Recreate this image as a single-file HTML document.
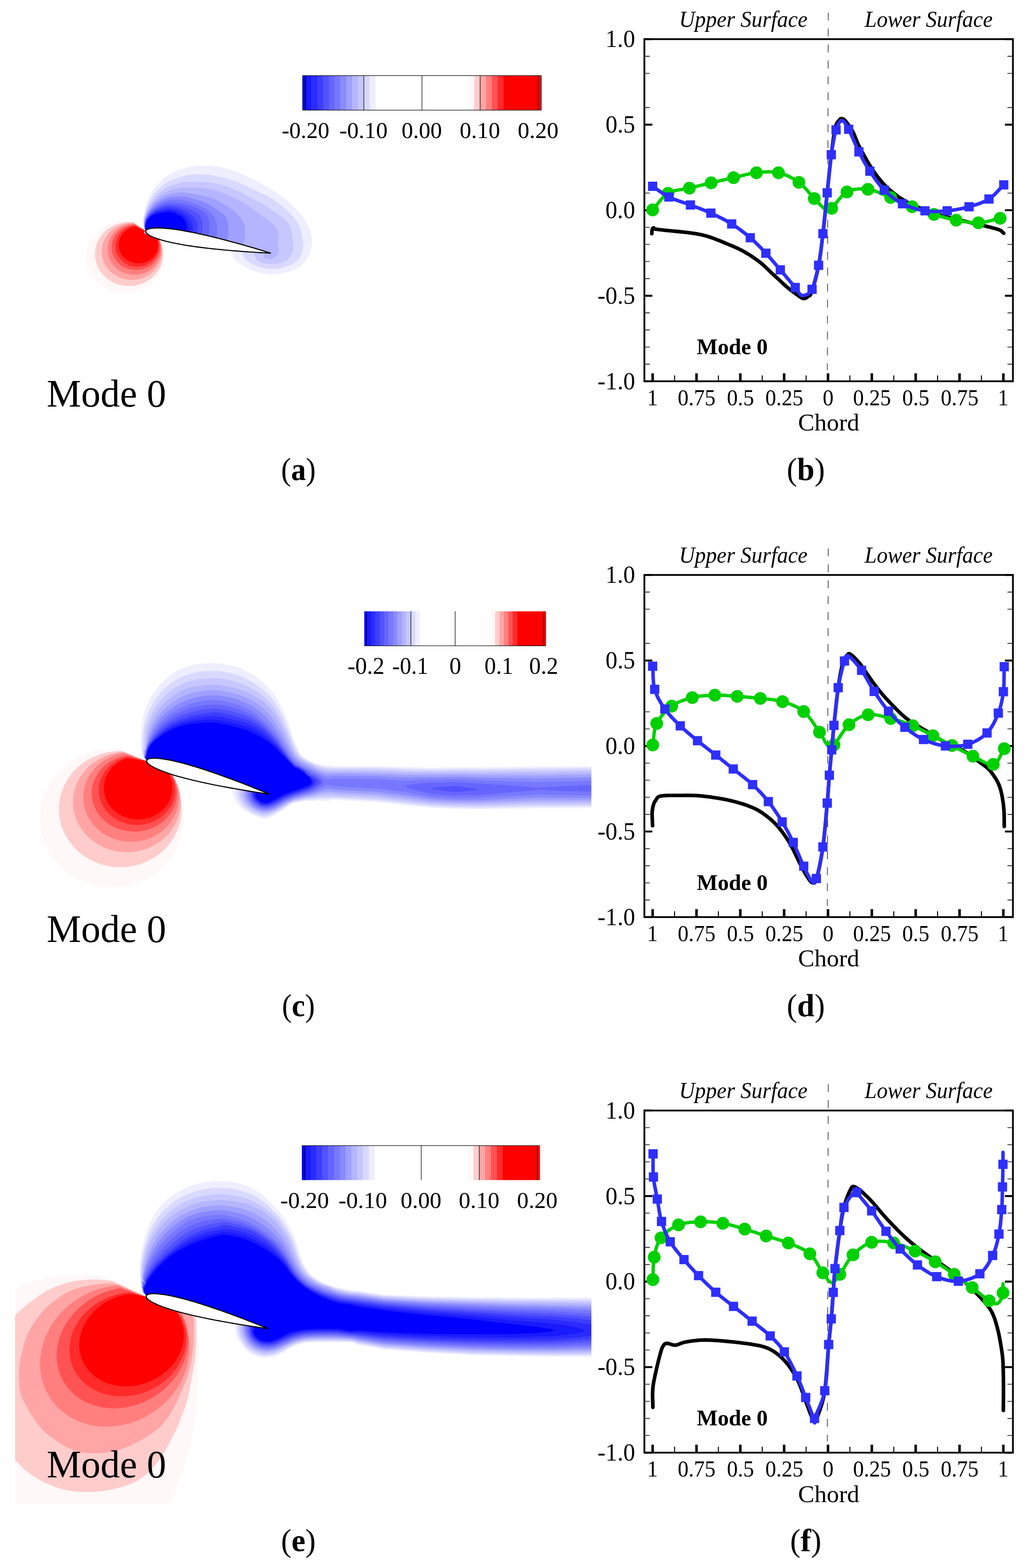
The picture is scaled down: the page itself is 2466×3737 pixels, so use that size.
<!DOCTYPE html>
<html><head><meta charset="utf-8"><title>Mode 0</title>
<style>html,body{margin:0;padding:0;background:#fff;} svg{display:block;}</style>
</head><body>
<svg xmlns="http://www.w3.org/2000/svg" width="2466" height="3737" viewBox="0 0 2466 3737" font-family="'Liberation Serif', 'Times New Roman', serif"><path d="M1535.3,908.7H1554.3M2413.4,908.7H2394.4" stroke="#000" stroke-width="4.6"/>
<path d="M1535.3,867.9H1548.3M2413.4,867.9H2400.4" stroke="#000" stroke-width="1.6"/>
<path d="M1535.3,827.2H1548.3M2413.4,827.2H2400.4" stroke="#000" stroke-width="1.6"/>
<path d="M1535.3,786.4H1548.3M2413.4,786.4H2400.4" stroke="#000" stroke-width="1.6"/>
<path d="M1535.3,745.6H1548.3M2413.4,745.6H2400.4" stroke="#000" stroke-width="1.6"/>
<path d="M1535.3,704.9H1554.3M2413.4,704.9H2394.4" stroke="#000" stroke-width="4.6"/>
<path d="M1535.3,664.1H1548.3M2413.4,664.1H2400.4" stroke="#000" stroke-width="1.6"/>
<path d="M1535.3,623.3H1548.3M2413.4,623.3H2400.4" stroke="#000" stroke-width="1.6"/>
<path d="M1535.3,582.5H1548.3M2413.4,582.5H2400.4" stroke="#000" stroke-width="1.6"/>
<path d="M1535.3,541.8H1548.3M2413.4,541.8H2400.4" stroke="#000" stroke-width="1.6"/>
<path d="M1535.3,501.0H1554.3M2413.4,501.0H2394.4" stroke="#000" stroke-width="4.6"/>
<path d="M1535.3,460.2H1548.3M2413.4,460.2H2400.4" stroke="#000" stroke-width="1.6"/>
<path d="M1535.3,297.1H1554.3M2413.4,297.1H2394.4" stroke="#000" stroke-width="4.6"/>
<path d="M1535.3,256.4H1548.3M2413.4,256.4H2400.4" stroke="#000" stroke-width="1.6"/>
<path d="M1535.3,174.8H1548.3M2413.4,174.8H2400.4" stroke="#000" stroke-width="1.6"/>
<path d="M1535.3,134.1H1548.3M2413.4,134.1H2400.4" stroke="#000" stroke-width="1.6"/>
<path d="M1535.3,93.3H1554.3M2413.4,93.3H2394.4" stroke="#000" stroke-width="4.6"/>
<path d="M1555.0,908.7V889.7" stroke="#000" stroke-width="6"/>
<path d="M1607.2,908.7V894.7" stroke="#000" stroke-width="2.4"/>
<path d="M1659.5,908.7V889.7" stroke="#000" stroke-width="6"/>
<path d="M1711.7,908.7V894.7" stroke="#000" stroke-width="2.4"/>
<path d="M1763.9,908.7V889.7" stroke="#000" stroke-width="6"/>
<path d="M1816.1,908.7V894.7" stroke="#000" stroke-width="2.4"/>
<path d="M1868.3,908.7V889.7" stroke="#000" stroke-width="6"/>
<path d="M1920.6,908.7V894.7" stroke="#000" stroke-width="2.4"/>
<path d="M1972.8,908.7V889.7" stroke="#000" stroke-width="6"/>
<path d="M2025.0,908.7V894.7" stroke="#000" stroke-width="2.4"/>
<path d="M2077.2,908.7V889.7" stroke="#000" stroke-width="6"/>
<path d="M2129.5,908.7V894.7" stroke="#000" stroke-width="2.4"/>
<path d="M2181.7,908.7V889.7" stroke="#000" stroke-width="6"/>
<path d="M2233.9,908.7V894.7" stroke="#000" stroke-width="2.4"/>
<path d="M2286.2,908.7V889.7" stroke="#000" stroke-width="6"/>
<path d="M2338.4,908.7V894.7" stroke="#000" stroke-width="2.4"/>
<path d="M2390.6,908.7V889.7" stroke="#000" stroke-width="6"/>
<rect x="1535.3" y="93.3" width="878.1" height="815.4" fill="none" stroke="#000" stroke-width="4.2"/>
<text x="1442.6" y="112.3" font-size="59.5" textLength="70.7" lengthAdjust="spacingAndGlyphs">1.0</text>
<text x="1442.7" y="316.1" font-size="59.5" textLength="70.7" lengthAdjust="spacingAndGlyphs">0.5</text>
<text x="1442.6" y="520.0" font-size="59.5" textLength="70.7" lengthAdjust="spacingAndGlyphs">0.0</text>
<text x="1423.8" y="723.9" font-size="59.5" textLength="89.5" lengthAdjust="spacingAndGlyphs">-0.5</text>
<text x="1423.8" y="927.7" font-size="59.5" textLength="89.5" lengthAdjust="spacingAndGlyphs">-1.0</text>
<text x="1541.7" y="965.7" font-size="53.9" textLength="25.8" lengthAdjust="spacingAndGlyphs">1</text>
<text x="1614.7" y="965.7" font-size="53.9" textLength="90.2" lengthAdjust="spacingAndGlyphs">0.75</text>
<text x="1732.0" y="965.7" font-size="53.9" textLength="64.4" lengthAdjust="spacingAndGlyphs">0.5</text>
<text x="1823.6" y="965.7" font-size="53.9" textLength="90.2" lengthAdjust="spacingAndGlyphs">0.25</text>
<text x="1960.2" y="965.7" font-size="53.9" textLength="25.8" lengthAdjust="spacingAndGlyphs">0</text>
<text x="2032.5" y="965.7" font-size="53.9" textLength="90.2" lengthAdjust="spacingAndGlyphs">0.25</text>
<text x="2149.8" y="965.7" font-size="53.9" textLength="64.4" lengthAdjust="spacingAndGlyphs">0.5</text>
<text x="2241.4" y="965.7" font-size="53.9" textLength="90.2" lengthAdjust="spacingAndGlyphs">0.75</text>
<text x="2377.3" y="965.7" font-size="53.9" textLength="25.8" lengthAdjust="spacingAndGlyphs">1</text>
<text x="1901.6" y="1026.4" font-size="57.1" textLength="145.9" lengthAdjust="spacingAndGlyphs">Chord</text>
<text x="1617.9" y="63.8" font-size="54" font-style="italic" textLength="306" lengthAdjust="spacingAndGlyphs">Upper Surface</text>
<text x="2060" y="63.8" font-size="54" font-style="italic" textLength="305" lengthAdjust="spacingAndGlyphs">Lower Surface</text>
<text x="1660.1" y="843.8" font-size="53" text-anchor="start" font-weight="bold" font-style="normal" fill="#000">Mode 0</text>
<path d="M1973.5,30.0L1971.2,882.0" stroke="#000" stroke-width="1.3" stroke-dasharray="19 19"/>
<path d="M1535.3,2185.7H1554.3M2413.4,2185.7H2394.4" stroke="#000" stroke-width="4.6"/>
<path d="M1535.3,2144.9H1548.3M2413.4,2144.9H2400.4" stroke="#000" stroke-width="1.6"/>
<path d="M1535.3,2104.2H1548.3M2413.4,2104.2H2400.4" stroke="#000" stroke-width="1.6"/>
<path d="M1535.3,2063.4H1548.3M2413.4,2063.4H2400.4" stroke="#000" stroke-width="1.6"/>
<path d="M1535.3,2022.6H1548.3M2413.4,2022.6H2400.4" stroke="#000" stroke-width="1.6"/>
<path d="M1535.3,1981.8H1554.3M2413.4,1981.8H2394.4" stroke="#000" stroke-width="4.6"/>
<path d="M1535.3,1941.1H1548.3M2413.4,1941.1H2400.4" stroke="#000" stroke-width="1.6"/>
<path d="M1535.3,1900.3H1548.3M2413.4,1900.3H2400.4" stroke="#000" stroke-width="1.6"/>
<path d="M1535.3,1859.5H1548.3M2413.4,1859.5H2400.4" stroke="#000" stroke-width="1.6"/>
<path d="M1535.3,1818.8H1548.3M2413.4,1818.8H2400.4" stroke="#000" stroke-width="1.6"/>
<path d="M1535.3,1778.0H1554.3M2413.4,1778.0H2394.4" stroke="#000" stroke-width="4.6"/>
<path d="M1535.3,1737.2H1548.3M2413.4,1737.2H2400.4" stroke="#000" stroke-width="1.6"/>
<path d="M1535.3,1696.5H1548.3M2413.4,1696.5H2400.4" stroke="#000" stroke-width="1.6"/>
<path d="M1535.3,1574.2H1554.3M2413.4,1574.2H2394.4" stroke="#000" stroke-width="4.6"/>
<path d="M1535.3,1533.4H1548.3M2413.4,1533.4H2400.4" stroke="#000" stroke-width="1.6"/>
<path d="M1535.3,1451.8H1548.3M2413.4,1451.8H2400.4" stroke="#000" stroke-width="1.6"/>
<path d="M1535.3,1411.1H1548.3M2413.4,1411.1H2400.4" stroke="#000" stroke-width="1.6"/>
<path d="M1535.3,1370.3H1554.3M2413.4,1370.3H2394.4" stroke="#000" stroke-width="4.6"/>
<path d="M1555.0,2185.7V2166.7" stroke="#000" stroke-width="6"/>
<path d="M1607.2,2185.7V2171.7" stroke="#000" stroke-width="2.4"/>
<path d="M1659.5,2185.7V2166.7" stroke="#000" stroke-width="6"/>
<path d="M1711.7,2185.7V2171.7" stroke="#000" stroke-width="2.4"/>
<path d="M1763.9,2185.7V2166.7" stroke="#000" stroke-width="6"/>
<path d="M1816.1,2185.7V2171.7" stroke="#000" stroke-width="2.4"/>
<path d="M1868.3,2185.7V2166.7" stroke="#000" stroke-width="6"/>
<path d="M1920.6,2185.7V2171.7" stroke="#000" stroke-width="2.4"/>
<path d="M1972.8,2185.7V2166.7" stroke="#000" stroke-width="6"/>
<path d="M2025.0,2185.7V2171.7" stroke="#000" stroke-width="2.4"/>
<path d="M2077.2,2185.7V2166.7" stroke="#000" stroke-width="6"/>
<path d="M2129.5,2185.7V2171.7" stroke="#000" stroke-width="2.4"/>
<path d="M2181.7,2185.7V2166.7" stroke="#000" stroke-width="6"/>
<path d="M2233.9,2185.7V2171.7" stroke="#000" stroke-width="2.4"/>
<path d="M2286.2,2185.7V2166.7" stroke="#000" stroke-width="6"/>
<path d="M2338.4,2185.7V2171.7" stroke="#000" stroke-width="2.4"/>
<path d="M2390.6,2185.7V2166.7" stroke="#000" stroke-width="6"/>
<rect x="1535.3" y="1370.3" width="878.1" height="815.4" fill="none" stroke="#000" stroke-width="4.2"/>
<text x="1442.6" y="1389.3" font-size="59.5" textLength="70.7" lengthAdjust="spacingAndGlyphs">1.0</text>
<text x="1442.7" y="1593.2" font-size="59.5" textLength="70.7" lengthAdjust="spacingAndGlyphs">0.5</text>
<text x="1442.6" y="1797.0" font-size="59.5" textLength="70.7" lengthAdjust="spacingAndGlyphs">0.0</text>
<text x="1423.8" y="2000.8" font-size="59.5" textLength="89.5" lengthAdjust="spacingAndGlyphs">-0.5</text>
<text x="1423.8" y="2204.7" font-size="59.5" textLength="89.5" lengthAdjust="spacingAndGlyphs">-1.0</text>
<text x="1541.7" y="2242.7" font-size="53.9" textLength="25.8" lengthAdjust="spacingAndGlyphs">1</text>
<text x="1614.7" y="2242.7" font-size="53.9" textLength="90.2" lengthAdjust="spacingAndGlyphs">0.75</text>
<text x="1732.0" y="2242.7" font-size="53.9" textLength="64.4" lengthAdjust="spacingAndGlyphs">0.5</text>
<text x="1823.6" y="2242.7" font-size="53.9" textLength="90.2" lengthAdjust="spacingAndGlyphs">0.25</text>
<text x="1960.2" y="2242.7" font-size="53.9" textLength="25.8" lengthAdjust="spacingAndGlyphs">0</text>
<text x="2032.5" y="2242.7" font-size="53.9" textLength="90.2" lengthAdjust="spacingAndGlyphs">0.25</text>
<text x="2149.8" y="2242.7" font-size="53.9" textLength="64.4" lengthAdjust="spacingAndGlyphs">0.5</text>
<text x="2241.4" y="2242.7" font-size="53.9" textLength="90.2" lengthAdjust="spacingAndGlyphs">0.75</text>
<text x="2377.3" y="2242.7" font-size="53.9" textLength="25.8" lengthAdjust="spacingAndGlyphs">1</text>
<text x="1901.6" y="2303.4" font-size="57.1" textLength="145.9" lengthAdjust="spacingAndGlyphs">Chord</text>
<text x="1617.9" y="1340.8" font-size="54" font-style="italic" textLength="306" lengthAdjust="spacingAndGlyphs">Upper Surface</text>
<text x="2060" y="1340.8" font-size="54" font-style="italic" textLength="305" lengthAdjust="spacingAndGlyphs">Lower Surface</text>
<text x="1660.1" y="2120.8" font-size="53" text-anchor="start" font-weight="bold" font-style="normal" fill="#000">Mode 0</text>
<path d="M1973.5,1307.0L1971.2,2159.0" stroke="#000" stroke-width="1.3" stroke-dasharray="19 19"/>
<path d="M1535.3,3462.1H1554.3M2413.4,3462.1H2394.4" stroke="#000" stroke-width="4.6"/>
<path d="M1535.3,3421.3H1548.3M2413.4,3421.3H2400.4" stroke="#000" stroke-width="1.6"/>
<path d="M1535.3,3380.6H1548.3M2413.4,3380.6H2400.4" stroke="#000" stroke-width="1.6"/>
<path d="M1535.3,3339.8H1548.3M2413.4,3339.8H2400.4" stroke="#000" stroke-width="1.6"/>
<path d="M1535.3,3299.0H1548.3M2413.4,3299.0H2400.4" stroke="#000" stroke-width="1.6"/>
<path d="M1535.3,3258.3H1554.3M2413.4,3258.3H2394.4" stroke="#000" stroke-width="4.6"/>
<path d="M1535.3,3217.5H1548.3M2413.4,3217.5H2400.4" stroke="#000" stroke-width="1.6"/>
<path d="M1535.3,3176.7H1548.3M2413.4,3176.7H2400.4" stroke="#000" stroke-width="1.6"/>
<path d="M1535.3,3135.9H1548.3M2413.4,3135.9H2400.4" stroke="#000" stroke-width="1.6"/>
<path d="M1535.3,3095.2H1548.3M2413.4,3095.2H2400.4" stroke="#000" stroke-width="1.6"/>
<path d="M1535.3,3054.4H1554.3M2413.4,3054.4H2394.4" stroke="#000" stroke-width="4.6"/>
<path d="M1535.3,3013.6H1548.3M2413.4,3013.6H2400.4" stroke="#000" stroke-width="1.6"/>
<path d="M1535.3,2972.9H1548.3M2413.4,2972.9H2400.4" stroke="#000" stroke-width="1.6"/>
<path d="M1535.3,2932.1H1548.3M2413.4,2932.1H2400.4" stroke="#000" stroke-width="1.6"/>
<path d="M1535.3,2891.3H1548.3M2413.4,2891.3H2400.4" stroke="#000" stroke-width="1.6"/>
<path d="M1535.3,2850.6H1554.3M2413.4,2850.6H2394.4" stroke="#000" stroke-width="4.6"/>
<path d="M1535.3,2809.8H1548.3M2413.4,2809.8H2400.4" stroke="#000" stroke-width="1.6"/>
<path d="M1535.3,2769.0H1548.3M2413.4,2769.0H2400.4" stroke="#000" stroke-width="1.6"/>
<path d="M1535.3,2728.2H1548.3M2413.4,2728.2H2400.4" stroke="#000" stroke-width="1.6"/>
<path d="M1535.3,2687.5H1548.3M2413.4,2687.5H2400.4" stroke="#000" stroke-width="1.6"/>
<path d="M1535.3,2646.7H1554.3M2413.4,2646.7H2394.4" stroke="#000" stroke-width="4.6"/>
<path d="M1555.0,3462.1V3443.1" stroke="#000" stroke-width="6"/>
<path d="M1607.2,3462.1V3448.1" stroke="#000" stroke-width="2.4"/>
<path d="M1659.5,3462.1V3443.1" stroke="#000" stroke-width="6"/>
<path d="M1711.7,3462.1V3448.1" stroke="#000" stroke-width="2.4"/>
<path d="M1763.9,3462.1V3443.1" stroke="#000" stroke-width="6"/>
<path d="M1816.1,3462.1V3448.1" stroke="#000" stroke-width="2.4"/>
<path d="M1868.3,3462.1V3443.1" stroke="#000" stroke-width="6"/>
<path d="M1920.6,3462.1V3448.1" stroke="#000" stroke-width="2.4"/>
<path d="M1972.8,3462.1V3443.1" stroke="#000" stroke-width="6"/>
<path d="M2025.0,3462.1V3448.1" stroke="#000" stroke-width="2.4"/>
<path d="M2077.2,3462.1V3443.1" stroke="#000" stroke-width="6"/>
<path d="M2129.5,3462.1V3448.1" stroke="#000" stroke-width="2.4"/>
<path d="M2181.7,3462.1V3443.1" stroke="#000" stroke-width="6"/>
<path d="M2233.9,3462.1V3448.1" stroke="#000" stroke-width="2.4"/>
<path d="M2286.2,3462.1V3443.1" stroke="#000" stroke-width="6"/>
<path d="M2338.4,3462.1V3448.1" stroke="#000" stroke-width="2.4"/>
<path d="M2390.6,3462.1V3443.1" stroke="#000" stroke-width="6"/>
<rect x="1535.3" y="2646.7" width="878.1" height="815.4" fill="none" stroke="#000" stroke-width="4.2"/>
<text x="1442.6" y="2665.7" font-size="59.5" textLength="70.7" lengthAdjust="spacingAndGlyphs">1.0</text>
<text x="1442.7" y="2869.6" font-size="59.5" textLength="70.7" lengthAdjust="spacingAndGlyphs">0.5</text>
<text x="1442.6" y="3073.4" font-size="59.5" textLength="70.7" lengthAdjust="spacingAndGlyphs">0.0</text>
<text x="1423.8" y="3277.3" font-size="59.5" textLength="89.5" lengthAdjust="spacingAndGlyphs">-0.5</text>
<text x="1423.8" y="3481.1" font-size="59.5" textLength="89.5" lengthAdjust="spacingAndGlyphs">-1.0</text>
<text x="1541.7" y="3519.1" font-size="53.9" textLength="25.8" lengthAdjust="spacingAndGlyphs">1</text>
<text x="1614.7" y="3519.1" font-size="53.9" textLength="90.2" lengthAdjust="spacingAndGlyphs">0.75</text>
<text x="1732.0" y="3519.1" font-size="53.9" textLength="64.4" lengthAdjust="spacingAndGlyphs">0.5</text>
<text x="1823.6" y="3519.1" font-size="53.9" textLength="90.2" lengthAdjust="spacingAndGlyphs">0.25</text>
<text x="1960.2" y="3519.1" font-size="53.9" textLength="25.8" lengthAdjust="spacingAndGlyphs">0</text>
<text x="2032.5" y="3519.1" font-size="53.9" textLength="90.2" lengthAdjust="spacingAndGlyphs">0.25</text>
<text x="2149.8" y="3519.1" font-size="53.9" textLength="64.4" lengthAdjust="spacingAndGlyphs">0.5</text>
<text x="2241.4" y="3519.1" font-size="53.9" textLength="90.2" lengthAdjust="spacingAndGlyphs">0.75</text>
<text x="2377.3" y="3519.1" font-size="53.9" textLength="25.8" lengthAdjust="spacingAndGlyphs">1</text>
<text x="1901.6" y="3579.8" font-size="57.1" textLength="145.9" lengthAdjust="spacingAndGlyphs">Chord</text>
<text x="1617.9" y="2617.2" font-size="54" font-style="italic" textLength="306" lengthAdjust="spacingAndGlyphs">Upper Surface</text>
<text x="2060" y="2617.2" font-size="54" font-style="italic" textLength="305" lengthAdjust="spacingAndGlyphs">Lower Surface</text>
<text x="1660.1" y="3397.2" font-size="53" text-anchor="start" font-weight="bold" font-style="normal" fill="#000">Mode 0</text>
<path d="M1973.5,2583.4L1971.2,3435.4" stroke="#000" stroke-width="1.3" stroke-dasharray="19 19"/>
<path d="M1553.0,557.0 L1553.1,556.0 L1553.2,554.9 L1553.2,553.8 L1553.3,552.7 L1553.3,551.6 L1553.4,550.6 L1553.5,549.6 L1553.6,548.6 L1553.8,547.8 L1554.0,547.0 L1554.2,546.3 L1554.5,545.7 L1554.7,545.1 L1555.0,544.6 L1555.3,544.1 L1555.7,543.8 L1556.1,543.5 L1556.5,543.2 L1557.0,543.1 L1557.5,543.0 L1557.8,543.0 L1557.6,543.2 L1557.2,543.4 L1556.7,543.6 L1556.4,544.0 L1556.6,544.4 L1557.3,544.9 L1558.8,545.4 L1561.4,546.0 L1565.2,546.6 L1570.6,547.3 L1577.5,548.0 L1585.7,548.9 L1594.7,549.7 L1604.2,550.7 L1613.8,551.6 L1623.3,552.6 L1632.3,553.6 L1640.4,554.5 L1647.3,555.4 L1653.0,556.2 L1658.0,557.0 L1662.5,557.7 L1666.4,558.5 L1670.0,559.2 L1673.5,560.0 L1676.9,560.9 L1680.5,561.8 L1684.2,562.9 L1688.4,564.2 L1692.9,565.6 L1697.6,567.3 L1702.4,569.0 L1707.3,570.9 L1712.3,572.8 L1717.2,574.8 L1722.0,576.8 L1726.7,578.7 L1731.2,580.6 L1735.4,582.4 L1739.4,584.1 L1743.1,585.6 L1746.7,587.1 L1750.2,588.6 L1753.6,590.1 L1756.9,591.6 L1760.2,593.2 L1763.6,594.8 L1767.0,596.6 L1770.6,598.6 L1774.3,600.7 L1778.1,603.0 L1782.0,605.3 L1785.9,607.7 L1789.8,610.2 L1793.7,612.8 L1797.6,615.4 L1801.4,618.1 L1805.1,620.8 L1808.7,623.5 L1812.2,626.2 L1815.5,629.0 L1818.7,631.9 L1821.9,634.8 L1825.0,637.7 L1828.1,640.7 L1831.3,643.7 L1834.4,646.7 L1837.7,649.7 L1841.0,652.8 L1844.5,656.0 L1848.0,659.3 L1851.7,662.7 L1855.4,666.2 L1859.1,669.7 L1862.8,673.1 L1866.4,676.4 L1869.8,679.5 L1873.1,682.4 L1876.2,685.1 L1879.1,687.5 L1881.8,689.8 L1884.5,691.8 L1887.0,693.7 L1889.4,695.5 L1891.7,697.2 L1893.9,698.8 L1896.0,700.3 L1898.1,701.7 L1900.0,703.0 L1901.8,704.3 L1903.5,705.5 L1905.1,706.7 L1906.5,707.7 L1907.9,708.7 L1909.2,709.6 L1910.5,710.3 L1911.8,710.8 L1913.0,711.3 L1914.3,711.5 L1915.6,711.5 L1916.9,711.4 L1918.1,711.1 L1919.3,710.6 L1920.5,710.0 L1921.7,709.3 L1922.8,708.5 L1923.9,707.7 L1925.0,706.8 L1926.0,706.0 L1926.9,705.4 L1927.7,705.0 L1928.4,704.7 L1929.1,704.5 L1929.7,704.1 L1930.4,703.4 L1931.1,702.3 L1931.9,700.6 L1932.9,698.2 L1934.0,695.0 L1935.3,690.9 L1936.8,686.0 L1938.5,680.4 L1940.2,674.3 L1942.1,667.7 L1943.9,660.8 L1945.7,653.7 L1947.4,646.5 L1949.0,639.3 L1950.4,632.3 L1951.7,625.4 L1952.9,618.4 L1953.9,611.3 L1955.0,604.1 L1955.9,596.8 L1956.9,589.3 L1957.8,581.5 L1958.7,573.6 L1959.7,565.4 L1960.7,556.9 L1961.7,548.0 L1962.8,538.7 L1963.8,529.1 L1964.8,519.2 L1965.8,509.2 L1966.9,499.0 L1967.9,488.9 L1968.9,478.9 L1969.9,469.1 L1970.9,459.5 L1971.9,450.0 L1972.9,440.5 L1973.9,430.9 L1974.9,421.4 L1975.9,412.0 L1976.8,402.8 L1977.8,393.7 L1978.8,385.0 L1979.7,376.7 L1980.7,368.7 L1981.6,361.0 L1982.6,353.5 L1983.5,346.2 L1984.4,339.1 L1985.3,332.4 L1986.3,326.0 L1987.2,320.0 L1988.1,314.4 L1989.0,309.4 L1990.0,305.0 L1991.0,301.2 L1992.0,298.1 L1993.1,295.5 L1994.1,293.4 L1995.2,291.7 L1996.3,290.3 L1997.3,289.1 L1998.2,288.1 L1999.2,287.1 L2000.0,286.0 L2000.7,285.0 L2001.4,284.2 L2002.0,283.6 L2002.5,283.2 L2003.1,282.9 L2003.6,282.8 L2004.1,282.7 L2004.7,282.8 L2005.3,282.9 L2006.0,283.0 L2006.7,283.2 L2007.5,283.3 L2008.2,283.6 L2009.0,283.9 L2009.8,284.3 L2010.7,284.8 L2011.6,285.5 L2012.7,286.5 L2013.8,287.6 L2015.0,289.0 L2016.4,290.7 L2017.9,292.6 L2019.5,294.7 L2021.2,297.0 L2023.0,299.5 L2024.8,302.1 L2026.6,304.9 L2028.4,307.7 L2030.1,310.6 L2031.8,313.6 L2033.3,316.6 L2034.8,319.7 L2036.1,322.9 L2037.4,326.3 L2038.8,329.7 L2040.2,333.2 L2041.7,336.9 L2043.3,340.7 L2045.1,344.7 L2047.1,348.8 L2049.4,353.2 L2051.9,358.0 L2054.6,363.0 L2057.4,368.1 L2060.3,373.4 L2063.3,378.6 L2066.3,383.8 L2069.2,388.8 L2072.0,393.5 L2074.7,397.8 L2077.3,401.8 L2079.8,405.7 L2082.3,409.3 L2084.7,412.8 L2087.1,416.1 L2089.5,419.4 L2091.9,422.5 L2094.3,425.5 L2096.8,428.5 L2099.2,431.4 L2101.6,434.2 L2104.1,437.0 L2106.5,439.6 L2108.9,442.1 L2111.3,444.5 L2113.7,446.9 L2116.1,449.2 L2118.6,451.4 L2121.1,453.7 L2123.7,455.9 L2126.3,458.1 L2128.9,460.2 L2131.5,462.3 L2134.2,464.3 L2136.9,466.3 L2139.6,468.3 L2142.4,470.2 L2145.3,472.1 L2148.2,474.0 L2151.2,475.8 L2154.2,477.6 L2157.1,479.3 L2160.0,480.9 L2162.9,482.6 L2165.9,484.2 L2169.1,485.8 L2172.6,487.4 L2176.3,489.1 L2180.4,490.8 L2184.9,492.7 L2189.9,494.7 L2195.4,496.8 L2201.2,499.0 L2207.4,501.2 L2213.8,503.5 L2220.3,505.8 L2226.9,508.0 L2233.4,510.1 L2239.9,512.2 L2246.1,514.1 L2252.3,515.9 L2258.7,517.6 L2265.1,519.3 L2271.6,521.0 L2278.0,522.5 L2284.4,524.0 L2290.5,525.5 L2296.4,526.8 L2302.0,528.1 L2307.3,529.4 L2312.2,530.6 L2316.7,531.6 L2321.0,532.6 L2325.1,533.5 L2328.9,534.4 L2332.6,535.2 L2336.3,536.0 L2339.9,536.9 L2343.5,537.7 L2347.1,538.6 L2350.8,539.5 L2354.6,540.5 L2358.4,541.4 L2362.1,542.3 L2365.8,543.3 L2369.3,544.2 L2372.6,545.1 L2375.6,546.0 L2378.4,546.9 L2380.8,547.8 L2382.8,548.7 L2384.4,549.5 L2385.7,550.3 L2386.7,551.2 L2387.6,552.0 L2388.3,552.8 L2389.0,553.6 L2389.7,554.4 L2390.5,555.2 L2391.5,556.0" fill="none" stroke="#000" stroke-width="8.6" stroke-linejoin="round" stroke-linecap="round"/>
<path d="M1554.9,500.3 L1558.5,496.2 L1562.0,491.9 L1565.5,487.6 L1568.9,483.1 L1572.4,478.8 L1575.9,474.6 L1579.6,470.6 L1583.4,466.9 L1587.4,463.6 L1591.6,460.7 L1596.1,458.4 L1600.8,456.5 L1605.8,455.0 L1610.9,453.8 L1616.0,452.9 L1621.3,452.0 L1626.6,451.3 L1631.9,450.4 L1637.2,449.5 L1642.4,448.4 L1647.5,447.1 L1652.7,445.9 L1657.8,444.6 L1663.0,443.3 L1668.2,442.1 L1673.4,440.8 L1678.6,439.5 L1683.8,438.2 L1689.0,437.0 L1694.3,435.7 L1699.6,434.5 L1704.9,433.2 L1710.2,432.0 L1715.5,430.7 L1720.8,429.5 L1726.2,428.3 L1731.6,427.0 L1736.9,425.8 L1742.3,424.6 L1747.7,423.4 L1753.1,422.2 L1758.6,420.8 L1764.0,419.5 L1769.5,418.1 L1775.0,416.8 L1780.5,415.5 L1786.0,414.3 L1791.4,413.3 L1796.8,412.4 L1802.2,411.7 L1807.6,411.1 L1812.9,410.6 L1818.2,410.1 L1823.6,409.8 L1828.9,409.5 L1834.1,409.5 L1839.4,409.6 L1844.6,410.0 L1849.7,410.7 L1854.8,411.7 L1859.9,413.0 L1865.0,414.6 L1870.1,416.4 L1875.1,418.5 L1880.1,420.7 L1885.1,423.2 L1889.9,425.8 L1894.6,428.6 L1899.1,431.6 L1903.5,434.6 L1907.7,437.9 L1911.7,441.5 L1915.6,445.4 L1919.4,449.5 L1923.1,453.7 L1926.7,457.9 L1930.1,462.1 L1933.5,466.1 L1936.8,469.8 L1940.1,473.3 L1943.3,476.6 L1946.5,479.9 L1949.6,483.1 L1952.6,486.3 L1955.5,489.3 L1958.3,492.1 L1961.0,494.6 L1963.5,496.8 L1965.8,498.6 L1968.0,500.0 L1969.8,501.0 L1971.3,501.8 L1972.4,502.3 L1973.3,502.5 L1974.2,502.4 L1975.1,501.9 L1976.2,501.1 L1977.6,500.0 L1979.3,498.4 L1981.5,496.5 L1984.2,493.9 L1987.1,490.4 L1990.3,486.3 L1993.8,481.8 L1997.5,477.1 L2001.3,472.4 L2005.3,467.8 L2009.5,463.7 L2013.7,460.1 L2018.0,457.4 L2022.4,455.3 L2027.1,453.7 L2031.9,452.3 L2036.8,451.4 L2041.9,450.7 L2047.1,450.3 L2052.3,450.2 L2057.5,450.4 L2062.8,450.7 L2068.0,451.3 L2073.3,452.2 L2078.6,453.5 L2084.0,455.1 L2089.5,457.1 L2095.0,459.2 L2100.5,461.5 L2106.0,463.8 L2111.4,466.2 L2116.8,468.4 L2122.1,470.6 L2127.3,472.7 L2132.5,474.9 L2137.6,477.1 L2142.8,479.4 L2147.8,481.7 L2152.9,484.0 L2158.0,486.3 L2163.1,488.5 L2168.2,490.6 L2173.3,492.7 L2178.5,494.7 L2183.6,496.7 L2188.8,498.6 L2194.0,500.5 L2199.2,502.4 L2204.4,504.2 L2209.6,506.0 L2214.8,507.7 L2220.1,509.4 L2225.3,511.0 L2230.6,512.6 L2235.8,514.2 L2241.1,515.7 L2246.4,517.2 L2251.7,518.7 L2257.1,520.0 L2262.4,521.4 L2267.7,522.6 L2273.0,523.7 L2278.3,524.8 L2283.6,525.8 L2288.9,526.8 L2294.2,527.8 L2299.5,528.6 L2304.8,529.4 L2310.1,530.1 L2315.4,530.6 L2320.7,531.0 L2326.0,531.1 L2331.2,531.0 L2336.4,530.6 L2341.6,529.9 L2346.8,529.0 L2352.0,527.9 L2357.2,526.7 L2362.3,525.3 L2367.5,524.0 L2372.7,522.6 L2377.8,521.4 L2383.0,520.2" fill="none" stroke="#00d000" stroke-width="8" stroke-linejoin="round" stroke-linecap="round"/>
<circle cx="1554.9" cy="500.3" r="15.2" fill="#00d000"/><circle cx="1591.6" cy="460.7" r="15.2" fill="#00d000"/><circle cx="1642.4" cy="448.4" r="15.2" fill="#00d000"/><circle cx="1694.3" cy="435.7" r="15.2" fill="#00d000"/><circle cx="1747.7" cy="423.4" r="15.2" fill="#00d000"/><circle cx="1802.2" cy="411.7" r="15.2" fill="#00d000"/><circle cx="1854.8" cy="411.7" r="15.2" fill="#00d000"/><circle cx="1903.5" cy="434.6" r="15.2" fill="#00d000"/><circle cx="1940.1" cy="473.3" r="15.2" fill="#00d000"/><circle cx="1981.5" cy="496.5" r="15.2" fill="#00d000"/><circle cx="2018.0" cy="457.4" r="15.2" fill="#00d000"/><circle cx="2068.0" cy="451.3" r="15.2" fill="#00d000"/><circle cx="2122.1" cy="470.6" r="15.2" fill="#00d000"/><circle cx="2173.3" cy="492.7" r="15.2" fill="#00d000"/><circle cx="2225.3" cy="511.0" r="15.2" fill="#00d000"/><circle cx="2278.3" cy="524.8" r="15.2" fill="#00d000"/><circle cx="2331.2" cy="531.0" r="15.2" fill="#00d000"/><circle cx="2383.0" cy="520.2" r="15.2" fill="#00d000"/>
<path d="M1555.0,444.0 L1558.8,446.6 L1562.5,449.2 L1566.2,451.9 L1569.9,454.5 L1573.6,457.2 L1577.3,459.8 L1581.2,462.3 L1585.2,464.8 L1589.3,467.2 L1593.7,469.5 L1598.3,471.7 L1603.2,473.7 L1608.2,475.7 L1613.4,477.5 L1618.7,479.4 L1624.1,481.2 L1629.4,483.0 L1634.7,484.8 L1639.9,486.6 L1645.0,488.5 L1650.0,490.4 L1654.9,492.3 L1659.8,494.1 L1664.6,495.9 L1669.5,497.8 L1674.3,499.7 L1679.1,501.6 L1683.9,503.6 L1688.8,505.7 L1693.7,507.9 L1698.6,510.2 L1703.6,512.5 L1708.7,514.9 L1713.7,517.4 L1718.8,520.0 L1723.8,522.6 L1728.8,525.2 L1733.7,528.0 L1738.6,530.8 L1743.3,533.7 L1748.0,536.7 L1752.6,539.8 L1757.2,542.9 L1761.7,546.2 L1766.2,549.5 L1770.6,552.8 L1775.0,556.2 L1779.3,559.7 L1783.5,563.1 L1787.6,566.6 L1791.6,570.1 L1795.5,573.7 L1799.4,577.3 L1803.1,580.9 L1806.8,584.6 L1810.5,588.3 L1814.1,592.1 L1817.7,595.9 L1821.2,599.7 L1824.8,603.5 L1828.3,607.3 L1831.8,611.2 L1835.3,615.1 L1838.7,619.1 L1842.1,623.0 L1845.5,627.0 L1848.9,631.0 L1852.3,635.1 L1855.7,639.1 L1859.2,643.2 L1862.8,647.4 L1866.5,651.8 L1870.4,656.3 L1874.2,660.9 L1878.1,665.4 L1881.8,669.9 L1885.4,674.1 L1888.8,678.1 L1891.9,681.8 L1894.7,685.1 L1897.1,688.1 L1899.1,690.9 L1900.9,693.6 L1902.4,696.0 L1903.8,698.2 L1905.1,700.1 L1906.5,701.7 L1907.9,702.9 L1909.5,703.8 L1911.4,704.2 L1913.5,704.3 L1915.8,704.1 L1918.2,703.6 L1920.7,702.8 L1923.2,701.6 L1925.7,700.1 L1928.1,698.1 L1930.5,695.7 L1932.7,692.8 L1934.8,689.5 L1936.7,685.6 L1938.5,681.1 L1940.2,676.0 L1941.9,670.6 L1943.4,664.7 L1944.9,658.5 L1946.4,652.1 L1947.7,645.6 L1949.1,638.9 L1950.4,632.3 L1951.6,625.6 L1952.8,618.7 L1953.9,611.7 L1954.9,604.5 L1955.9,597.1 L1956.8,589.5 L1957.8,581.7 L1958.7,573.7 L1959.7,565.4 L1960.7,556.9 L1961.7,548.0 L1962.8,538.7 L1963.8,529.1 L1964.8,519.2 L1965.8,509.2 L1966.9,499.0 L1967.9,488.9 L1968.9,478.9 L1969.9,469.1 L1970.9,459.5 L1971.9,450.0 L1972.9,440.4 L1973.8,430.8 L1974.8,421.2 L1975.7,411.7 L1976.7,402.4 L1977.7,393.4 L1978.7,384.7 L1979.7,376.5 L1980.7,368.7 L1981.8,361.3 L1982.8,354.3 L1983.9,347.5 L1985.0,341.0 L1986.1,334.9 L1987.2,329.0 L1988.4,323.6 L1989.6,318.5 L1990.8,313.9 L1992.0,309.6 L1993.3,305.7 L1994.6,302.1 L1995.9,298.9 L1997.2,296.1 L1998.6,293.6 L2000.0,291.6 L2001.4,289.9 L2002.8,288.7 L2004.3,287.9 L2005.8,287.6 L2007.3,287.8 L2008.8,288.4 L2010.2,289.6 L2011.7,291.1 L2013.2,293.1 L2014.8,295.5 L2016.5,298.2 L2018.2,301.2 L2020.0,304.5 L2022.0,308.1 L2024.1,312.2 L2026.3,316.9 L2028.7,322.0 L2031.1,327.6 L2033.6,333.4 L2036.2,339.3 L2038.8,345.3 L2041.4,351.1 L2044.0,356.7 L2046.5,361.9 L2049.0,366.8 L2051.5,371.6 L2053.9,376.3 L2056.4,380.9 L2058.9,385.4 L2061.4,389.9 L2064.0,394.4 L2066.7,398.9 L2069.6,403.4 L2072.5,407.9 L2075.6,412.5 L2078.7,417.2 L2081.9,421.9 L2085.2,426.6 L2088.6,431.2 L2092.0,435.8 L2095.6,440.3 L2099.2,444.7 L2103.0,448.9 L2106.8,452.9 L2110.7,456.7 L2114.7,460.5 L2118.9,464.1 L2123.1,467.6 L2127.3,471.0 L2131.7,474.3 L2136.2,477.3 L2140.8,480.3 L2145.5,483.0 L2150.3,485.6 L2155.3,488.0 L2160.4,490.2 L2165.7,492.3 L2171.0,494.3 L2176.5,496.0 L2182.0,497.7 L2187.6,499.1 L2193.1,500.4 L2198.5,501.5 L2203.9,502.4 L2209.2,503.1 L2214.5,503.6 L2219.8,503.9 L2225.1,504.1 L2230.4,504.1 L2235.7,503.9 L2241.0,503.6 L2246.3,503.3 L2251.5,502.9 L2256.8,502.4 L2262.1,501.9 L2267.3,501.2 L2272.6,500.5 L2277.9,499.6 L2283.2,498.7 L2288.4,497.7 L2293.6,496.6 L2298.8,495.4 L2303.9,494.1 L2308.9,492.7 L2313.9,491.3 L2318.9,489.8 L2323.8,488.3 L2328.8,486.7 L2333.7,485.0 L2338.4,483.2 L2343.1,481.2 L2347.7,479.1 L2352.1,476.8 L2356.3,474.3 L2360.3,471.5 L2364.1,468.5 L2367.8,465.3 L2371.3,461.9 L2374.7,458.4 L2378.0,454.8 L2381.3,451.2 L2384.7,447.6 L2388.0,444.0 L2391.5,440.6" fill="none" stroke="#2e2eff" stroke-width="8.4" stroke-linejoin="round" stroke-linecap="round"/>
<rect x="1544.0" y="433.0" width="22" height="22" fill="#2e2eff"/><rect x="1582.7" y="458.5" width="22" height="22" fill="#2e2eff"/><rect x="1634.0" y="477.5" width="22" height="22" fill="#2e2eff"/><rect x="1682.7" y="496.9" width="22" height="22" fill="#2e2eff"/><rect x="1732.3" y="522.7" width="22" height="22" fill="#2e2eff"/><rect x="1776.6" y="555.6" width="22" height="22" fill="#2e2eff"/><rect x="1813.8" y="592.5" width="22" height="22" fill="#2e2eff"/><rect x="1848.2" y="632.2" width="22" height="22" fill="#2e2eff"/><rect x="1883.7" y="674.1" width="22" height="22" fill="#2e2eff"/><rect x="1923.8" y="678.5" width="22" height="22" fill="#2e2eff"/><rect x="1939.4" y="621.3" width="22" height="22" fill="#2e2eff"/><rect x="1949.7" y="545.9" width="22" height="22" fill="#2e2eff"/><rect x="1959.9" y="448.5" width="22" height="22" fill="#2e2eff"/><rect x="1969.7" y="357.7" width="22" height="22" fill="#2e2eff"/><rect x="1981.0" y="298.6" width="22" height="22" fill="#2e2eff"/><rect x="2011.0" y="297.1" width="22" height="22" fill="#2e2eff"/><rect x="2035.5" y="350.9" width="22" height="22" fill="#2e2eff"/><rect x="2061.5" y="396.9" width="22" height="22" fill="#2e2eff"/><rect x="2095.8" y="441.9" width="22" height="22" fill="#2e2eff"/><rect x="2139.3" y="474.6" width="22" height="22" fill="#2e2eff"/><rect x="2192.9" y="491.4" width="22" height="22" fill="#2e2eff"/><rect x="2245.8" y="491.4" width="22" height="22" fill="#2e2eff"/><rect x="2297.9" y="481.7" width="22" height="22" fill="#2e2eff"/><rect x="2345.3" y="463.3" width="22" height="22" fill="#2e2eff"/><rect x="2380.5" y="429.6" width="22" height="22" fill="#2e2eff"/>
<path d="M1554.9,1968.0 L1554.8,1964.8 L1554.6,1961.6 L1554.4,1958.2 L1554.3,1954.9 L1554.1,1951.6 L1553.9,1948.4 L1553.8,1945.2 L1553.7,1942.2 L1553.7,1939.4 L1553.8,1936.8 L1553.9,1934.4 L1554.1,1932.1 L1554.4,1930.0 L1554.7,1928.0 L1555.0,1926.1 L1555.4,1924.3 L1555.8,1922.6 L1556.2,1921.0 L1556.6,1919.5 L1557.0,1918.0 L1557.4,1916.6 L1557.8,1915.4 L1558.2,1914.2 L1558.7,1913.2 L1559.1,1912.2 L1559.6,1911.3 L1560.2,1910.4 L1560.8,1909.5 L1561.5,1908.5 L1562.3,1907.5 L1563.1,1906.4 L1563.7,1905.3 L1564.3,1904.1 L1565.0,1902.9 L1565.7,1901.8 L1566.7,1900.7 L1567.9,1899.6 L1569.5,1898.7 L1571.5,1897.9 L1574.0,1897.2 L1577.1,1896.7 L1580.7,1896.3 L1584.8,1896.1 L1589.3,1895.9 L1594.0,1895.8 L1598.8,1895.8 L1603.8,1895.8 L1608.7,1895.8 L1613.5,1895.8 L1618.0,1895.8 L1622.4,1895.8 L1626.8,1895.7 L1631.2,1895.7 L1635.6,1895.6 L1640.0,1895.6 L1644.4,1895.7 L1648.8,1895.7 L1653.2,1895.9 L1657.6,1896.0 L1662.0,1896.3 L1666.4,1896.6 L1670.8,1897.0 L1675.2,1897.4 L1679.6,1897.9 L1684.0,1898.4 L1688.4,1899.0 L1692.8,1899.6 L1697.2,1900.2 L1701.6,1900.9 L1706.0,1901.6 L1710.4,1902.3 L1714.8,1903.0 L1719.2,1903.8 L1723.6,1904.6 L1728.0,1905.4 L1732.4,1906.3 L1736.8,1907.2 L1741.2,1908.2 L1745.6,1909.3 L1750.0,1910.4 L1754.5,1911.6 L1759.0,1912.9 L1763.7,1914.3 L1768.3,1915.7 L1772.9,1917.2 L1777.5,1918.7 L1781.9,1920.3 L1786.1,1921.9 L1790.2,1923.5 L1794.0,1925.1 L1797.5,1926.7 L1800.8,1928.3 L1803.9,1929.9 L1806.8,1931.5 L1809.6,1933.2 L1812.3,1934.9 L1815.0,1936.7 L1817.8,1938.6 L1820.5,1940.6 L1823.4,1942.7 L1826.3,1944.9 L1829.3,1947.2 L1832.2,1949.5 L1835.1,1951.9 L1838.1,1954.4 L1841.0,1957.1 L1843.9,1959.8 L1846.8,1962.7 L1849.8,1965.8 L1852.7,1969.1 L1855.6,1972.6 L1858.6,1976.2 L1861.6,1980.0 L1864.6,1983.9 L1867.5,1988.0 L1870.5,1992.2 L1873.4,1996.5 L1876.3,2001.0 L1879.2,2005.5 L1882.0,2010.2 L1884.8,2015.1 L1887.6,2020.4 L1890.4,2025.9 L1893.2,2031.6 L1896.0,2037.4 L1898.7,2043.0 L1901.3,2048.5 L1903.8,2053.8 L1906.2,2058.6 L1908.4,2063.0 L1910.5,2066.9 L1912.4,2070.6 L1914.3,2074.0 L1916.0,2077.1 L1917.6,2080.1 L1919.2,2082.8 L1920.7,2085.3 L1922.2,2087.7 L1923.6,2089.9 L1925.0,2092.0 L1926.4,2094.0 L1927.6,2095.9 L1928.8,2097.6 L1930.0,2099.1 L1931.1,2100.5 L1932.1,2101.7 L1933.2,2102.6 L1934.2,2103.3 L1935.3,2103.8 L1936.3,2104.0 L1937.3,2104.1 L1938.3,2104.3 L1939.2,2104.4 L1940.1,2104.3 L1940.9,2103.9 L1941.8,2103.1 L1942.8,2101.7 L1943.8,2099.6 L1944.8,2096.8 L1946.0,2093.0 L1947.3,2088.3 L1948.7,2082.6 L1950.2,2076.3 L1951.7,2069.2 L1953.3,2061.6 L1954.8,2053.5 L1956.4,2045.1 L1957.9,2036.3 L1959.3,2027.5 L1960.6,2018.5 L1961.8,2009.1 L1963.0,1998.9 L1964.2,1988.2 L1965.3,1977.0 L1966.4,1965.7 L1967.4,1954.5 L1968.4,1943.5 L1969.3,1932.9 L1970.2,1923.0 L1971.0,1914.0 L1971.7,1905.8 L1972.3,1898.2 L1972.9,1891.1 L1973.4,1884.4 L1973.8,1878.1 L1974.2,1871.9 L1974.6,1865.9 L1975.0,1859.9 L1975.5,1853.8 L1976.0,1847.6 L1976.5,1841.3 L1977.1,1835.1 L1977.6,1828.9 L1978.2,1822.8 L1978.8,1816.8 L1979.3,1810.8 L1979.9,1804.8 L1980.5,1798.9 L1981.0,1792.9 L1981.6,1787.0 L1982.1,1781.2 L1982.6,1775.7 L1983.1,1770.3 L1983.5,1765.0 L1984.0,1759.7 L1984.5,1754.2 L1985.0,1748.4 L1985.6,1742.3 L1986.3,1735.8 L1987.0,1728.7 L1987.8,1720.9 L1988.7,1712.3 L1989.7,1703.1 L1990.7,1693.6 L1991.7,1683.8 L1992.8,1674.1 L1993.9,1664.6 L1995.0,1655.4 L1996.0,1646.8 L1997.1,1638.9 L1998.2,1631.6 L1999.2,1624.5 L2000.3,1617.7 L2001.4,1611.2 L2002.6,1605.0 L2003.7,1599.1 L2004.8,1593.7 L2005.9,1588.7 L2006.9,1584.1 L2008.0,1580.0 L2009.0,1576.5 L2010.1,1573.5 L2011.1,1571.1 L2012.1,1569.1 L2013.2,1567.5 L2014.2,1566.1 L2015.1,1565.0 L2016.1,1564.0 L2017.1,1563.0 L2018.0,1562.0 L2018.8,1561.0 L2019.6,1560.1 L2020.2,1559.3 L2020.8,1558.7 L2021.4,1558.2 L2022.1,1558.0 L2022.9,1557.9 L2023.8,1558.2 L2025.0,1558.7 L2026.4,1559.5 L2028.0,1560.6 L2029.8,1561.9 L2031.7,1563.5 L2033.8,1565.3 L2036.0,1567.4 L2038.3,1569.8 L2040.8,1572.4 L2043.4,1575.3 L2046.1,1578.5 L2049.0,1582.0 L2052.1,1586.0 L2055.4,1590.6 L2058.9,1595.6 L2062.5,1600.9 L2066.3,1606.4 L2070.1,1612.0 L2073.9,1617.6 L2077.7,1623.0 L2081.4,1628.2 L2084.9,1632.9 L2088.3,1637.3 L2091.5,1641.4 L2094.7,1645.4 L2097.9,1649.3 L2101.0,1653.1 L2104.2,1656.8 L2107.4,1660.5 L2110.8,1664.2 L2114.3,1668.0 L2117.9,1671.9 L2121.7,1675.9 L2125.7,1680.1 L2129.7,1684.3 L2133.9,1688.6 L2138.1,1692.8 L2142.4,1697.0 L2146.7,1701.1 L2151.1,1705.1 L2155.4,1708.8 L2159.8,1712.4 L2164.2,1715.7 L2168.6,1718.9 L2173.1,1721.9 L2177.6,1724.7 L2182.1,1727.4 L2186.7,1730.1 L2191.2,1732.8 L2195.8,1735.4 L2200.3,1738.1 L2204.8,1740.8 L2209.3,1743.6 L2213.8,1746.4 L2218.3,1749.2 L2222.8,1752.0 L2227.2,1754.8 L2231.7,1757.5 L2236.2,1760.2 L2240.7,1762.8 L2245.2,1765.3 L2249.7,1767.8 L2254.2,1770.1 L2258.8,1772.3 L2263.5,1774.4 L2268.1,1776.4 L2272.8,1778.4 L2277.4,1780.4 L2281.9,1782.4 L2286.3,1784.4 L2290.6,1786.6 L2294.7,1788.8 L2298.7,1791.2 L2302.6,1793.7 L2306.4,1796.2 L2310.2,1798.8 L2313.8,1801.5 L2317.4,1804.1 L2320.8,1806.7 L2324.1,1809.2 L2327.3,1811.6 L2330.4,1813.9 L2333.3,1816.0 L2336.2,1818.0 L2338.9,1819.9 L2341.4,1821.8 L2343.9,1823.6 L2346.3,1825.4 L2348.6,1827.1 L2350.8,1829.0 L2352.9,1830.8 L2355.0,1832.8 L2357.0,1834.8 L2358.9,1836.9 L2360.7,1839.1 L2362.5,1841.3 L2364.1,1843.5 L2365.7,1845.6 L2367.2,1847.8 L2368.7,1850.0 L2370.1,1852.1 L2371.4,1854.2 L2372.7,1856.2 L2373.9,1858.2 L2375.0,1860.1 L2376.0,1861.9 L2377.0,1863.8 L2377.9,1865.7 L2378.8,1867.6 L2379.6,1869.6 L2380.5,1871.6 L2381.3,1873.8 L2382.1,1876.0 L2382.9,1878.3 L2383.6,1880.6 L2384.3,1882.9 L2384.9,1885.3 L2385.5,1887.8 L2386.1,1890.3 L2386.7,1893.0 L2387.3,1895.7 L2387.8,1898.5 L2388.3,1901.4 L2388.8,1904.5 L2389.3,1907.6 L2389.8,1910.8 L2390.3,1914.0 L2390.7,1917.4 L2391.1,1920.8 L2391.4,1924.2 L2391.7,1927.8 L2392.0,1931.3 L2392.2,1934.9 L2392.4,1938.6 L2392.5,1942.4 L2392.6,1946.3 L2392.6,1950.2 L2392.6,1954.1 L2392.7,1958.1 L2392.7,1962.0 L2392.7,1965.9 L2392.8,1969.8" fill="none" stroke="#000" stroke-width="8.6" stroke-linejoin="round" stroke-linecap="round"/>
<path d="M1555.2,1775.6 L1556.0,1770.4 L1556.7,1765.2 L1557.2,1759.9 L1557.7,1754.6 L1558.3,1749.3 L1559.0,1744.1 L1559.9,1739.0 L1561.1,1733.9 L1562.7,1729.0 L1564.7,1724.3 L1567.1,1719.7 L1570.0,1715.1 L1573.1,1710.5 L1576.5,1706.1 L1580.1,1701.7 L1583.9,1697.5 L1587.9,1693.5 L1592.0,1689.8 L1596.2,1686.2 L1600.4,1683.0 L1604.7,1680.0 L1609.3,1677.4 L1614.0,1674.9 L1618.8,1672.6 L1623.8,1670.6 L1628.8,1668.7 L1633.9,1667.0 L1639.1,1665.4 L1644.2,1664.0 L1649.4,1662.6 L1654.6,1661.4 L1659.8,1660.4 L1665.2,1659.5 L1670.6,1658.8 L1676.0,1658.2 L1681.4,1657.7 L1686.9,1657.4 L1692.3,1657.1 L1697.7,1656.9 L1703.1,1656.7 L1708.4,1656.6 L1713.8,1656.7 L1719.1,1656.9 L1724.4,1657.1 L1729.7,1657.5 L1735.0,1657.9 L1740.4,1658.3 L1745.7,1658.7 L1751.1,1659.2 L1756.5,1659.6 L1762.0,1660.0 L1767.4,1660.4 L1773.0,1660.9 L1778.5,1661.3 L1784.1,1661.8 L1789.6,1662.3 L1795.2,1662.8 L1800.7,1663.4 L1806.2,1664.0 L1811.6,1664.6 L1817.0,1665.2 L1822.3,1665.7 L1827.7,1666.2 L1833.0,1666.7 L1838.3,1667.2 L1843.6,1667.9 L1848.8,1668.7 L1854.0,1669.6 L1859.2,1670.8 L1864.4,1672.2 L1869.6,1673.8 L1874.9,1675.5 L1880.1,1677.3 L1885.4,1679.2 L1890.6,1681.3 L1895.7,1683.7 L1900.8,1686.3 L1905.7,1689.1 L1910.4,1692.2 L1914.9,1695.7 L1919.3,1699.7 L1923.5,1704.2 L1927.7,1709.1 L1931.7,1714.4 L1935.6,1719.8 L1939.3,1725.3 L1942.9,1730.7 L1946.3,1735.8 L1949.5,1740.7 L1952.5,1745.0 L1955.2,1749.1 L1957.7,1753.0 L1960.0,1756.9 L1962.0,1760.7 L1963.9,1764.2 L1965.7,1767.4 L1967.5,1770.4 L1969.1,1773.0 L1970.8,1775.2 L1972.5,1777.0 L1974.1,1778.4 L1975.4,1779.6 L1976.6,1780.5 L1977.7,1781.0 L1978.8,1781.2 L1979.9,1781.0 L1981.3,1780.4 L1982.8,1779.2 L1984.7,1777.6 L1987.0,1775.4 L1989.7,1772.4 L1992.6,1768.4 L1995.9,1763.6 L1999.3,1758.3 L2003.0,1752.7 L2006.8,1747.0 L2010.7,1741.4 L2014.7,1736.1 L2018.7,1731.3 L2022.8,1727.3 L2026.9,1723.8 L2031.2,1720.4 L2035.5,1717.3 L2039.9,1714.4 L2044.5,1711.8 L2049.1,1709.4 L2053.8,1707.4 L2058.6,1705.7 L2063.5,1704.3 L2068.4,1703.4 L2073.5,1702.9 L2078.7,1703.0 L2084.0,1703.4 L2089.5,1704.2 L2095.0,1705.3 L2100.5,1706.6 L2106.1,1708.1 L2111.6,1709.5 L2117.0,1711.0 L2122.4,1712.4 L2127.7,1713.8 L2133.1,1715.2 L2138.4,1716.8 L2143.7,1718.4 L2149.0,1720.1 L2154.2,1721.9 L2159.5,1723.8 L2164.6,1725.7 L2169.7,1727.7 L2174.8,1729.7 L2179.8,1731.8 L2184.7,1734.0 L2189.6,1736.3 L2194.4,1738.7 L2199.2,1741.2 L2204.0,1743.6 L2208.7,1746.1 L2213.4,1748.6 L2218.1,1751.0 L2222.8,1753.4 L2227.4,1755.7 L2232.0,1758.1 L2236.5,1760.4 L2241.0,1762.7 L2245.4,1765.0 L2249.9,1767.3 L2254.4,1769.6 L2259.0,1772.0 L2263.6,1774.4 L2268.3,1776.8 L2273.1,1779.3 L2278.0,1781.9 L2283.0,1784.5 L2288.0,1787.1 L2293.0,1789.8 L2298.1,1792.4 L2303.1,1795.0 L2308.2,1797.6 L2313.2,1800.0 L2318.1,1802.3 L2323.1,1804.7 L2328.2,1807.5 L2333.5,1810.4 L2338.7,1813.3 L2343.8,1816.0 L2348.9,1818.4 L2353.7,1820.3 L2358.4,1821.6 L2362.7,1822.2 L2366.6,1821.8 L2370.1,1820.4 L2373.3,1817.9 L2376.1,1814.7 L2378.7,1810.9 L2381.1,1806.6 L2383.3,1802.0 L2385.6,1797.3 L2387.8,1792.7 L2390.2,1788.3 L2392.7,1784.3" fill="none" stroke="#00d000" stroke-width="8" stroke-linejoin="round" stroke-linecap="round"/>
<circle cx="1555.2" cy="1775.6" r="15.2" fill="#00d000"/><circle cx="1564.7" cy="1724.3" r="15.2" fill="#00d000"/><circle cx="1600.4" cy="1683.0" r="15.2" fill="#00d000"/><circle cx="1649.4" cy="1662.6" r="15.2" fill="#00d000"/><circle cx="1703.1" cy="1656.7" r="15.2" fill="#00d000"/><circle cx="1756.5" cy="1659.6" r="15.2" fill="#00d000"/><circle cx="1811.6" cy="1664.6" r="15.2" fill="#00d000"/><circle cx="1864.4" cy="1672.2" r="15.2" fill="#00d000"/><circle cx="1914.9" cy="1695.7" r="15.2" fill="#00d000"/><circle cx="1952.5" cy="1745.0" r="15.2" fill="#00d000"/><circle cx="1987.0" cy="1775.4" r="15.2" fill="#00d000"/><circle cx="2022.8" cy="1727.3" r="15.2" fill="#00d000"/><circle cx="2068.4" cy="1703.4" r="15.2" fill="#00d000"/><circle cx="2122.4" cy="1712.4" r="15.2" fill="#00d000"/><circle cx="2174.8" cy="1729.7" r="15.2" fill="#00d000"/><circle cx="2222.8" cy="1753.4" r="15.2" fill="#00d000"/><circle cx="2268.3" cy="1776.8" r="15.2" fill="#00d000"/><circle cx="2318.1" cy="1802.3" r="15.2" fill="#00d000"/><circle cx="2366.6" cy="1821.8" r="15.2" fill="#00d000"/><circle cx="2392.7" cy="1784.3" r="15.2" fill="#00d000"/>
<path d="M1555.0,1587.8 L1555.4,1593.3 L1555.7,1599.0 L1555.9,1604.6 L1556.0,1610.2 L1556.2,1615.9 L1556.6,1621.5 L1557.0,1627.0 L1557.7,1632.4 L1558.6,1637.7 L1559.9,1642.9 L1561.5,1648.0 L1563.3,1652.9 L1565.3,1657.8 L1567.6,1662.6 L1570.0,1667.3 L1572.6,1671.9 L1575.3,1676.5 L1578.2,1681.0 L1581.1,1685.4 L1584.1,1689.8 L1587.2,1694.1 L1590.6,1698.3 L1594.1,1702.5 L1597.7,1706.6 L1601.4,1710.6 L1605.2,1714.5 L1609.1,1718.4 L1613.0,1722.3 L1616.9,1726.1 L1620.8,1729.9 L1624.7,1733.6 L1628.7,1737.3 L1632.7,1740.9 L1636.8,1744.5 L1640.9,1748.0 L1645.1,1751.5 L1649.3,1754.9 L1653.5,1758.4 L1657.7,1761.8 L1661.9,1765.3 L1666.2,1768.8 L1670.5,1772.2 L1674.8,1775.7 L1679.2,1779.1 L1683.6,1782.5 L1688.0,1785.9 L1692.4,1789.4 L1696.8,1792.7 L1701.1,1796.1 L1705.4,1799.5 L1709.6,1802.8 L1713.8,1806.1 L1717.9,1809.4 L1722.0,1812.7 L1726.1,1815.9 L1730.2,1819.2 L1734.3,1822.5 L1738.5,1825.8 L1742.8,1829.2 L1747.1,1832.7 L1751.6,1836.2 L1756.2,1839.8 L1760.9,1843.5 L1765.6,1847.2 L1770.4,1850.9 L1775.2,1854.7 L1779.9,1858.5 L1784.5,1862.3 L1788.9,1866.1 L1793.2,1870.0 L1797.3,1873.9 L1801.3,1877.8 L1805.2,1881.6 L1809.0,1885.6 L1812.8,1889.5 L1816.4,1893.5 L1820.1,1897.6 L1823.6,1901.8 L1827.2,1906.0 L1830.7,1910.4 L1834.2,1914.9 L1837.7,1919.6 L1841.1,1924.3 L1844.5,1929.2 L1847.8,1934.1 L1851.1,1939.0 L1854.4,1944.0 L1857.5,1949.0 L1860.6,1953.9 L1863.6,1958.8 L1866.5,1963.6 L1869.3,1968.4 L1872.0,1973.2 L1874.7,1978.0 L1877.3,1982.8 L1879.9,1987.6 L1882.4,1992.5 L1884.9,1997.5 L1887.4,2002.6 L1890.0,2007.8 L1892.6,2013.2 L1895.2,2019.0 L1897.7,2024.8 L1900.3,2030.8 L1902.9,2036.9 L1905.4,2042.8 L1907.8,2048.6 L1910.3,2054.2 L1912.6,2059.5 L1914.9,2064.4 L1917.1,2069.1 L1919.4,2073.7 L1921.5,2078.3 L1923.7,2082.6 L1925.8,2086.7 L1927.8,2090.5 L1929.7,2094.0 L1931.5,2096.9 L1933.2,2099.3 L1934.8,2101.1 L1936.2,2102.5 L1937.4,2103.5 L1938.4,2104.3 L1939.4,2104.6 L1940.2,2104.4 L1941.1,2103.7 L1941.9,2102.4 L1942.9,2100.3 L1943.9,2097.5 L1945.1,2093.8 L1946.5,2089.2 L1947.9,2083.6 L1949.5,2077.1 L1951.2,2070.0 L1952.8,2062.2 L1954.5,2054.0 L1956.2,2045.4 L1957.7,2036.5 L1959.2,2027.5 L1960.6,2018.5 L1961.9,2009.1 L1963.1,1998.9 L1964.3,1988.1 L1965.4,1977.0 L1966.5,1965.7 L1967.5,1954.5 L1968.4,1943.5 L1969.3,1932.9 L1970.2,1923.0 L1971.0,1914.0 L1971.7,1905.8 L1972.3,1898.2 L1972.9,1891.1 L1973.4,1884.4 L1973.8,1878.1 L1974.2,1871.9 L1974.6,1865.9 L1975.0,1859.9 L1975.5,1853.8 L1976.0,1847.6 L1976.5,1841.3 L1977.1,1835.1 L1977.6,1828.9 L1978.2,1822.8 L1978.8,1816.8 L1979.3,1810.8 L1979.9,1804.8 L1980.5,1798.9 L1981.0,1792.9 L1981.6,1787.0 L1982.1,1781.2 L1982.6,1775.7 L1983.1,1770.3 L1983.5,1765.0 L1984.0,1759.7 L1984.5,1754.2 L1985.0,1748.4 L1985.6,1742.3 L1986.3,1735.8 L1987.0,1728.7 L1987.8,1720.9 L1988.6,1712.3 L1989.5,1703.2 L1990.5,1693.8 L1991.5,1684.1 L1992.5,1674.4 L1993.6,1664.9 L1994.7,1655.7 L1995.9,1647.0 L1997.1,1638.9 L1998.4,1631.3 L1999.9,1623.7 L2001.4,1616.3 L2003.0,1609.1 L2004.6,1602.2 L2006.2,1595.8 L2007.7,1589.8 L2009.3,1584.3 L2010.7,1579.5 L2012.0,1575.4 L2013.1,1571.9 L2014.0,1569.1 L2014.7,1566.7 L2015.3,1564.9 L2016.0,1563.6 L2016.7,1562.8 L2017.5,1562.5 L2018.7,1562.6 L2020.1,1563.1 L2021.9,1564.0 L2024.1,1565.5 L2026.8,1567.6 L2029.7,1570.2 L2032.8,1573.4 L2036.1,1576.9 L2039.5,1580.8 L2042.9,1584.9 L2046.3,1589.1 L2049.7,1593.4 L2052.8,1597.6 L2055.8,1602.0 L2058.8,1606.6 L2061.7,1611.6 L2064.7,1616.7 L2067.6,1621.9 L2070.5,1627.2 L2073.5,1632.5 L2076.5,1637.8 L2079.6,1642.9 L2082.8,1647.9 L2086.0,1652.8 L2089.3,1657.7 L2092.6,1662.5 L2096.0,1667.4 L2099.3,1672.2 L2102.8,1676.9 L2106.3,1681.6 L2109.8,1686.2 L2113.4,1690.7 L2117.0,1695.0 L2120.7,1699.2 L2124.4,1703.4 L2128.2,1707.4 L2132.0,1711.4 L2135.8,1715.3 L2139.7,1719.1 L2143.7,1722.8 L2147.7,1726.4 L2151.8,1729.9 L2155.9,1733.3 L2160.1,1736.6 L2164.3,1739.9 L2168.6,1743.1 L2172.9,1746.3 L2177.3,1749.3 L2181.7,1752.2 L2186.2,1755.0 L2190.8,1757.6 L2195.5,1760.1 L2200.3,1762.4 L2205.2,1764.6 L2210.3,1766.7 L2215.4,1768.6 L2220.7,1770.4 L2226.0,1772.1 L2231.3,1773.6 L2236.7,1775.0 L2242.0,1776.1 L2247.4,1777.0 L2252.7,1777.7 L2258.0,1778.2 L2263.4,1778.5 L2268.8,1778.7 L2274.2,1778.6 L2279.7,1778.4 L2285.0,1777.9 L2290.4,1777.3 L2295.6,1776.4 L2300.8,1775.2 L2305.8,1773.8 L2310.8,1772.1 L2315.7,1770.2 L2320.7,1768.0 L2325.6,1765.6 L2330.4,1763.0 L2335.1,1760.2 L2339.6,1757.1 L2343.9,1753.9 L2347.9,1750.4 L2351.7,1746.8 L2355.2,1742.9 L2358.5,1738.7 L2361.6,1734.2 L2364.5,1729.5 L2367.3,1724.6 L2369.8,1719.7 L2372.2,1714.6 L2374.5,1709.5 L2376.6,1704.5 L2378.6,1699.5 L2380.4,1694.6 L2382.1,1689.7 L2383.6,1684.7 L2384.9,1679.8 L2386.1,1674.8 L2387.2,1669.7 L2388.2,1664.5 L2389.1,1659.3 L2389.9,1654.0 L2390.6,1648.5 L2391.2,1642.9 L2391.7,1637.1 L2392.0,1631.3 L2392.2,1625.3 L2392.3,1619.2 L2392.3,1613.2 L2392.4,1607.1 L2392.4,1601.0 L2392.5,1594.9 L2392.7,1588.9" fill="none" stroke="#2e2eff" stroke-width="8.4" stroke-linejoin="round" stroke-linecap="round"/>
<rect x="1544.0" y="1576.8" width="22" height="22" fill="#2e2eff"/><rect x="1548.9" y="1631.9" width="22" height="22" fill="#2e2eff"/><rect x="1573.1" y="1678.8" width="22" height="22" fill="#2e2eff"/><rect x="1609.8" y="1718.9" width="22" height="22" fill="#2e2eff"/><rect x="1650.9" y="1754.3" width="22" height="22" fill="#2e2eff"/><rect x="1694.4" y="1788.5" width="22" height="22" fill="#2e2eff"/><rect x="1736.1" y="1821.7" width="22" height="22" fill="#2e2eff"/><rect x="1782.2" y="1859.0" width="22" height="22" fill="#2e2eff"/><rect x="1819.7" y="1899.4" width="22" height="22" fill="#2e2eff"/><rect x="1852.6" y="1947.8" width="22" height="22" fill="#2e2eff"/><rect x="1879.0" y="1996.8" width="22" height="22" fill="#2e2eff"/><rect x="1903.9" y="2053.4" width="22" height="22" fill="#2e2eff"/><rect x="1934.1" y="2082.8" width="22" height="22" fill="#2e2eff"/><rect x="1949.6" y="2007.5" width="22" height="22" fill="#2e2eff"/><rect x="1960.0" y="1903.0" width="22" height="22" fill="#2e2eff"/><rect x="1965.0" y="1836.6" width="22" height="22" fill="#2e2eff"/><rect x="1970.6" y="1776.0" width="22" height="22" fill="#2e2eff"/><rect x="1976.0" y="1717.7" width="22" height="22" fill="#2e2eff"/><rect x="1986.1" y="1627.9" width="22" height="22" fill="#2e2eff"/><rect x="2001.0" y="1564.4" width="22" height="22" fill="#2e2eff"/><rect x="2041.8" y="1586.6" width="22" height="22" fill="#2e2eff"/><rect x="2071.8" y="1636.9" width="22" height="22" fill="#2e2eff"/><rect x="2106.0" y="1684.0" width="22" height="22" fill="#2e2eff"/><rect x="2144.9" y="1722.3" width="22" height="22" fill="#2e2eff"/><rect x="2189.3" y="1751.4" width="22" height="22" fill="#2e2eff"/><rect x="2241.7" y="1766.7" width="22" height="22" fill="#2e2eff"/><rect x="2294.8" y="1762.8" width="22" height="22" fill="#2e2eff"/><rect x="2340.7" y="1735.8" width="22" height="22" fill="#2e2eff"/><rect x="2367.6" y="1688.5" width="22" height="22" fill="#2e2eff"/><rect x="2379.6" y="1637.5" width="22" height="22" fill="#2e2eff"/><rect x="2381.7" y="1577.9" width="22" height="22" fill="#2e2eff"/>
<path d="M1555.5,3354.1 L1555.5,3349.5 L1555.4,3345.0 L1555.2,3340.4 L1555.1,3335.8 L1555.0,3331.3 L1554.9,3326.7 L1554.9,3322.1 L1555.0,3317.6 L1555.2,3313.1 L1555.5,3308.6 L1556.0,3304.1 L1556.6,3299.7 L1557.3,3295.2 L1558.1,3290.8 L1559.0,3286.3 L1559.9,3281.9 L1560.8,3277.5 L1561.8,3273.2 L1562.8,3268.9 L1563.7,3264.6 L1564.7,3260.3 L1565.7,3255.8 L1566.8,3251.3 L1567.9,3246.7 L1569.0,3242.3 L1570.1,3238.0 L1571.2,3233.9 L1572.2,3230.0 L1573.1,3226.6 L1574.0,3223.5 L1574.8,3220.9 L1575.4,3218.6 L1576.0,3216.7 L1576.6,3215.0 L1577.1,3213.6 L1577.6,3212.3 L1578.1,3211.2 L1578.7,3210.1 L1579.3,3209.1 L1580.0,3208.0 L1580.7,3206.9 L1581.4,3205.9 L1582.0,3205.0 L1582.7,3204.2 L1583.4,3203.5 L1584.2,3202.9 L1585.1,3202.4 L1586.2,3202.0 L1587.3,3201.7 L1588.7,3201.5 L1590.3,3201.6 L1592.0,3201.9 L1593.9,3202.4 L1595.9,3203.0 L1598.0,3203.8 L1600.2,3204.5 L1602.5,3205.1 L1604.7,3205.6 L1607.0,3205.9 L1609.2,3205.9 L1611.3,3205.6 L1613.4,3205.2 L1615.4,3204.5 L1617.4,3203.7 L1619.5,3202.8 L1621.7,3201.9 L1624.0,3201.0 L1626.6,3200.1 L1629.5,3199.3 L1632.7,3198.6 L1636.2,3198.0 L1640.0,3197.3 L1643.9,3196.7 L1648.1,3196.0 L1652.5,3195.4 L1657.1,3194.9 L1661.8,3194.4 L1666.6,3194.0 L1671.6,3193.7 L1676.7,3193.6 L1682.0,3193.6 L1687.5,3193.7 L1693.2,3193.9 L1699.1,3194.2 L1705.1,3194.6 L1711.2,3195.0 L1717.3,3195.5 L1723.4,3196.0 L1729.5,3196.6 L1735.4,3197.1 L1741.4,3197.7 L1747.5,3198.3 L1753.7,3199.0 L1760.0,3199.7 L1766.2,3200.4 L1772.2,3201.2 L1778.1,3202.0 L1783.8,3202.8 L1789.1,3203.6 L1794.0,3204.4 L1798.5,3205.2 L1802.6,3205.9 L1806.5,3206.6 L1810.0,3207.3 L1813.4,3208.1 L1816.7,3208.9 L1819.8,3209.8 L1822.9,3210.8 L1826.0,3211.9 L1829.2,3213.2 L1832.4,3214.7 L1835.5,3216.2 L1838.6,3217.9 L1841.7,3219.7 L1844.6,3221.6 L1847.6,3223.6 L1850.4,3225.7 L1853.2,3227.8 L1855.9,3230.0 L1858.6,3232.3 L1861.2,3234.6 L1863.7,3237.0 L1866.1,3239.4 L1868.5,3241.9 L1870.8,3244.5 L1873.1,3247.2 L1875.4,3249.9 L1877.6,3252.7 L1879.8,3255.7 L1882.0,3258.7 L1884.2,3261.8 L1886.3,3265.0 L1888.5,3268.2 L1890.6,3271.6 L1892.7,3275.0 L1894.7,3278.5 L1896.7,3282.2 L1898.7,3286.0 L1900.7,3289.9 L1902.6,3293.9 L1904.5,3298.2 L1906.4,3302.7 L1908.2,3307.4 L1910.0,3312.3 L1911.8,3317.2 L1913.5,3322.2 L1915.2,3327.1 L1916.9,3331.9 L1918.6,3336.5 L1920.2,3340.9 L1921.8,3345.2 L1923.4,3349.6 L1925.1,3354.0 L1926.7,3358.3 L1928.2,3362.5 L1929.7,3366.4 L1931.1,3370.1 L1932.5,3373.5 L1933.7,3376.5 L1934.8,3379.0 L1935.7,3381.1 L1936.5,3382.8 L1937.2,3384.1 L1937.8,3385.1 L1938.2,3385.9 L1938.7,3386.3 L1939.2,3386.6 L1939.7,3386.6 L1940.3,3386.4 L1941.0,3386.0 L1941.8,3385.5 L1942.5,3384.9 L1943.3,3384.1 L1944.1,3383.2 L1944.9,3381.9 L1945.8,3380.3 L1946.8,3378.4 L1947.8,3376.1 L1948.8,3373.3 L1950.0,3370.0 L1951.3,3366.3 L1952.7,3362.3 L1954.3,3358.0 L1955.9,3353.3 L1957.5,3348.1 L1959.2,3342.5 L1960.8,3336.4 L1962.4,3329.7 L1963.8,3322.4 L1965.1,3314.5 L1966.3,3305.5 L1967.4,3295.2 L1968.4,3283.9 L1969.4,3272.0 L1970.3,3259.8 L1971.2,3247.5 L1972.0,3235.6 L1972.8,3224.2 L1973.6,3213.7 L1974.4,3204.4 L1975.2,3196.3 L1975.9,3189.1 L1976.5,3182.5 L1977.2,3176.5 L1977.8,3170.9 L1978.4,3165.5 L1978.9,3160.2 L1979.5,3154.8 L1980.1,3149.2 L1980.6,3143.2 L1981.1,3136.9 L1981.6,3130.6 L1982.1,3124.2 L1982.6,3117.7 L1983.1,3111.3 L1983.5,3104.9 L1984.0,3098.5 L1984.4,3092.2 L1984.9,3086.1 L1985.3,3080.0 L1985.7,3074.2 L1986.1,3068.8 L1986.4,3063.6 L1986.7,3058.6 L1987.0,3053.5 L1987.3,3048.2 L1987.7,3042.8 L1988.2,3036.9 L1988.8,3030.5 L1989.5,3023.5 L1990.4,3015.7 L1991.4,3007.0 L1992.5,2997.7 L1993.7,2988.0 L1994.9,2978.1 L1996.2,2968.2 L1997.4,2958.5 L1998.7,2949.2 L1999.9,2940.6 L2001.0,2932.8 L2002.0,2925.8 L2003.0,2919.3 L2003.9,2913.2 L2004.8,2907.5 L2005.7,2902.1 L2006.6,2896.9 L2007.6,2892.0 L2008.6,2887.2 L2009.6,2882.4 L2010.8,2877.7 L2012.1,2873.0 L2013.4,2868.3 L2014.8,2863.7 L2016.3,2859.2 L2017.8,2855.0 L2019.3,2850.9 L2020.8,2847.2 L2022.2,2843.7 L2023.6,2840.7 L2025.0,2838.0 L2026.2,2835.7 L2027.2,2833.6 L2028.1,2831.9 L2029.0,2830.4 L2029.8,2829.2 L2030.8,2828.4 L2031.9,2827.9 L2033.3,2827.8 L2035.0,2828.1 L2037.0,2828.8 L2039.4,2829.9 L2042.0,2831.5 L2045.0,2833.5 L2048.1,2835.8 L2051.4,2838.5 L2054.9,2841.5 L2058.5,2844.8 L2062.2,2848.3 L2066.0,2852.0 L2069.9,2855.8 L2073.9,2860.0 L2078.1,2864.6 L2082.5,2869.5 L2087.0,2874.8 L2091.7,2880.2 L2096.3,2885.7 L2101.0,2891.2 L2105.7,2896.6 L2110.3,2901.8 L2114.9,2906.8 L2119.4,2911.6 L2123.9,2916.3 L2128.4,2921.0 L2132.9,2925.6 L2137.4,2930.2 L2141.8,2934.7 L2146.3,2939.1 L2150.8,2943.4 L2155.3,2947.6 L2159.8,2951.7 L2164.3,2955.7 L2168.8,2959.6 L2173.3,2963.3 L2177.8,2967.0 L2182.3,2970.6 L2186.8,2974.2 L2191.3,2977.6 L2195.8,2981.0 L2200.3,2984.4 L2204.8,2987.7 L2209.3,2990.9 L2213.9,2994.1 L2218.4,2997.1 L2223.0,3000.1 L2227.5,3003.1 L2232.1,3006.0 L2236.6,3008.9 L2241.0,3011.8 L2245.4,3014.7 L2249.7,3017.7 L2253.9,3020.7 L2258.1,3023.7 L2262.2,3026.6 L2266.3,3029.5 L2270.3,3032.5 L2274.3,3035.5 L2278.2,3038.5 L2282.2,3041.6 L2286.1,3044.8 L2290.0,3048.0 L2293.9,3051.4 L2297.9,3054.8 L2301.8,3058.4 L2305.7,3062.0 L2309.6,3065.7 L2313.4,3069.4 L2317.2,3073.0 L2320.8,3076.6 L2324.3,3080.2 L2327.7,3083.6 L2331.0,3087.0 L2334.2,3090.4 L2337.4,3093.7 L2340.4,3097.1 L2343.4,3100.4 L2346.2,3103.6 L2348.9,3106.8 L2351.4,3109.8 L2353.8,3112.8 L2355.9,3115.6 L2357.8,3118.2 L2359.4,3120.7 L2360.9,3123.0 L2362.1,3125.2 L2363.3,3127.3 L2364.3,3129.4 L2365.3,3131.6 L2366.3,3133.9 L2367.3,3136.3 L2368.3,3138.9 L2369.4,3141.7 L2370.4,3144.6 L2371.4,3147.7 L2372.4,3150.8 L2373.3,3154.0 L2374.2,3157.2 L2375.1,3160.4 L2376.0,3163.6 L2376.8,3166.9 L2377.6,3170.0 L2378.4,3173.1 L2379.1,3176.2 L2379.8,3179.4 L2380.4,3182.5 L2381.0,3185.6 L2381.6,3188.7 L2382.2,3191.8 L2382.8,3195.0 L2383.4,3198.1 L2383.9,3201.2 L2384.4,3204.3 L2385.0,3207.5 L2385.5,3210.7 L2386.0,3213.9 L2386.5,3217.1 L2387.0,3220.3 L2387.4,3223.4 L2387.8,3226.5 L2388.2,3229.4 L2388.5,3232.3 L2388.8,3234.9 L2389.0,3237.4 L2389.2,3239.6 L2389.4,3241.7 L2389.5,3243.9 L2389.7,3246.1 L2389.8,3248.4 L2389.9,3251.0 L2390.0,3253.9 L2390.1,3257.2 L2390.2,3260.8 L2390.3,3264.7 L2390.4,3268.8 L2390.5,3273.2 L2390.6,3277.7 L2390.7,3282.3 L2390.8,3287.2 L2390.8,3292.1 L2390.9,3297.2 L2390.9,3302.4 L2390.9,3307.7 L2390.9,3313.3 L2390.9,3319.1 L2390.9,3325.0 L2390.8,3331.1 L2390.8,3337.2 L2390.7,3343.3 L2390.7,3349.5 L2390.6,3355.5 L2390.6,3361.5" fill="none" stroke="#000" stroke-width="8.6" stroke-linejoin="round" stroke-linecap="round"/>
<path d="M1555.5,3049.8 L1555.8,3044.4 L1555.9,3039.0 L1556.1,3033.5 L1556.2,3028.0 L1556.3,3022.5 L1556.5,3017.1 L1556.8,3011.7 L1557.2,3006.4 L1557.9,3001.3 L1558.7,2996.2 L1559.7,2991.2 L1560.7,2986.3 L1561.8,2981.3 L1563.0,2976.5 L1564.4,2971.7 L1566.0,2967.1 L1567.8,2962.6 L1569.8,2958.2 L1572.2,2954.1 L1574.9,2950.1 L1578.0,2946.3 L1581.4,2942.6 L1585.2,2939.0 L1589.2,2935.6 L1593.4,2932.3 L1597.8,2929.2 L1602.4,2926.3 L1607.1,2923.7 L1611.8,2921.4 L1616.5,2919.3 L1621.3,2917.6 L1626.3,2916.2 L1631.5,2915.0 L1636.8,2914.2 L1642.2,2913.5 L1647.6,2913.0 L1653.1,2912.7 L1658.6,2912.4 L1664.0,2912.2 L1669.3,2912.0 L1674.6,2911.9 L1679.9,2911.8 L1685.2,2911.9 L1690.5,2912.1 L1695.8,2912.4 L1701.1,2912.8 L1706.4,2913.4 L1711.7,2914.0 L1716.9,2914.7 L1722.2,2915.5 L1727.5,2916.5 L1732.7,2917.6 L1737.9,2918.8 L1743.2,2920.2 L1748.4,2921.6 L1753.6,2923.1 L1758.9,2924.6 L1764.0,2926.2 L1769.2,2927.8 L1774.4,2929.3 L1779.5,2930.8 L1784.6,2932.4 L1789.7,2934.0 L1794.8,2935.7 L1799.9,2937.3 L1804.9,2939.0 L1810.0,2940.7 L1815.1,2942.4 L1820.2,2944.0 L1825.4,2945.7 L1830.6,2947.3 L1835.9,2948.9 L1841.2,2950.4 L1846.5,2951.9 L1851.8,2953.5 L1857.1,2955.1 L1862.4,2956.7 L1867.7,2958.5 L1873.0,2960.4 L1878.2,2962.4 L1883.5,2964.5 L1888.9,2966.7 L1894.4,2968.9 L1899.8,2971.1 L1905.3,2973.5 L1910.6,2976.0 L1915.7,2978.7 L1920.7,2981.6 L1925.3,2984.8 L1929.6,2988.2 L1933.6,2992.0 L1937.2,2996.4 L1940.7,3001.1 L1943.9,3006.0 L1946.9,3011.0 L1949.8,3016.0 L1952.5,3020.9 L1955.2,3025.5 L1957.8,3029.8 L1960.4,3033.5 L1962.9,3036.9 L1965.3,3040.2 L1967.5,3043.4 L1969.6,3046.4 L1971.7,3049.1 L1973.6,3051.5 L1975.6,3053.5 L1977.5,3055.1 L1979.5,3056.1 L1981.5,3056.6 L1983.5,3056.5 L1985.3,3055.9 L1987.1,3054.8 L1988.8,3053.2 L1990.6,3051.2 L1992.4,3049.0 L1994.3,3046.4 L1996.4,3043.5 L1998.6,3040.4 L2001.0,3037.2 L2003.6,3033.6 L2006.3,3029.4 L2009.1,3024.7 L2012.1,3019.8 L2015.1,3014.6 L2018.3,3009.4 L2021.6,3004.3 L2025.1,2999.4 L2028.7,2994.8 L2032.4,2990.7 L2036.3,2986.9 L2040.3,2983.1 L2044.5,2979.5 L2048.8,2976.0 L2053.3,2972.7 L2057.8,2969.6 L2062.5,2966.9 L2067.2,2964.4 L2072.0,2962.3 L2076.8,2960.7 L2081.7,2959.5 L2086.8,2958.7 L2092.0,2958.3 L2097.3,2958.2 L2102.6,2958.4 L2108.0,2958.8 L2113.3,2959.4 L2118.7,2960.2 L2124.0,2961.2 L2129.2,2962.2 L2134.4,2963.4 L2139.5,2964.9 L2144.7,2966.5 L2149.8,2968.4 L2155.0,2970.4 L2160.1,2972.6 L2165.2,2974.8 L2170.2,2977.1 L2175.2,2979.4 L2180.2,2981.7 L2185.1,2984.0 L2190.0,2986.3 L2194.9,2988.8 L2199.7,2991.3 L2204.5,2993.8 L2209.3,2996.4 L2214.1,2999.0 L2218.8,3001.7 L2223.5,3004.4 L2228.2,3007.2 L2232.9,3010.0 L2237.5,3012.9 L2242.1,3015.8 L2246.7,3018.8 L2251.3,3021.8 L2255.8,3024.9 L2260.3,3028.0 L2264.8,3031.0 L2269.3,3034.1 L2273.7,3037.2 L2278.1,3040.3 L2282.4,3043.4 L2286.8,3046.5 L2291.0,3049.7 L2295.3,3052.8 L2299.6,3056.0 L2303.8,3059.1 L2308.0,3062.3 L2312.1,3065.4 L2316.3,3068.6 L2320.5,3071.9 L2324.9,3075.3 L2329.3,3078.8 L2333.7,3082.4 L2338.1,3085.9 L2342.3,3089.3 L2346.4,3092.5 L2350.2,3095.4 L2353.7,3097.9 L2356.8,3100.1 L2359.6,3101.9 L2362.0,3103.4 L2364.1,3104.6 L2366.0,3105.5 L2367.7,3106.3 L2369.3,3106.8 L2370.8,3107.1 L2372.2,3107.2 L2373.6,3107.2 L2375.0,3107.0 L2376.4,3106.6 L2377.8,3105.8 L2379.1,3104.8 L2380.3,3103.6 L2381.4,3102.3 L2382.5,3100.8 L2383.5,3099.3 L2384.4,3097.8 L2385.2,3096.4 L2386.0,3095.0 L2386.7,3093.7 L2387.3,3092.5 L2387.8,3091.2 L2388.2,3090.0 L2388.5,3088.7 L2388.8,3087.4 L2389.1,3086.0 L2389.3,3084.5 L2389.5,3082.9 L2389.7,3081.2 L2389.8,3079.4 L2389.9,3077.4 L2390.0,3075.3 L2390.0,3073.1 L2389.9,3070.9 L2389.9,3068.6 L2389.8,3066.3 L2389.8,3064.0 L2389.7,3061.8 L2389.7,3059.6" fill="none" stroke="#00d000" stroke-width="8" stroke-linejoin="round" stroke-linecap="round"/>
<circle cx="1555.5" cy="3049.8" r="15.2" fill="#00d000"/><circle cx="1558.7" cy="2996.2" r="15.2" fill="#00d000"/><circle cx="1574.9" cy="2950.1" r="15.2" fill="#00d000"/><circle cx="1616.5" cy="2919.3" r="15.2" fill="#00d000"/><circle cx="1669.3" cy="2912.0" r="15.2" fill="#00d000"/><circle cx="1722.2" cy="2915.5" r="15.2" fill="#00d000"/><circle cx="1774.4" cy="2929.3" r="15.2" fill="#00d000"/><circle cx="1825.4" cy="2945.7" r="15.2" fill="#00d000"/><circle cx="1878.2" cy="2962.4" r="15.2" fill="#00d000"/><circle cx="1929.6" cy="2988.2" r="15.2" fill="#00d000"/><circle cx="1960.4" cy="3033.5" r="15.2" fill="#00d000"/><circle cx="2001.0" cy="3037.2" r="15.2" fill="#00d000"/><circle cx="2032.4" cy="2990.7" r="15.2" fill="#00d000"/><circle cx="2076.8" cy="2960.7" r="15.2" fill="#00d000"/><circle cx="2129.2" cy="2962.2" r="15.2" fill="#00d000"/><circle cx="2180.2" cy="2981.7" r="15.2" fill="#00d000"/><circle cx="2228.2" cy="3007.2" r="15.2" fill="#00d000"/><circle cx="2273.7" cy="3037.2" r="15.2" fill="#00d000"/><circle cx="2316.3" cy="3068.6" r="15.2" fill="#00d000"/><circle cx="2356.8" cy="3100.1" r="15.2" fill="#00d000"/><circle cx="2389.7" cy="3081.2" r="15.2" fill="#00d000"/>
<path d="M1556.0,2750.0 L1556.1,2755.5 L1556.0,2761.1 L1556.0,2766.6 L1556.0,2772.2 L1555.9,2777.7 L1555.9,2783.2 L1556.0,2788.8 L1556.2,2794.2 L1556.5,2799.7 L1556.9,2805.1 L1557.5,2810.5 L1558.2,2815.8 L1559.0,2821.0 L1559.9,2826.3 L1560.9,2831.5 L1562.0,2836.7 L1563.0,2841.9 L1564.1,2847.2 L1565.1,2852.4 L1566.1,2857.7 L1567.0,2863.0 L1567.9,2868.4 L1568.7,2873.8 L1569.5,2879.2 L1570.4,2884.7 L1571.3,2890.1 L1572.3,2895.4 L1573.4,2900.7 L1574.7,2906.0 L1576.1,2911.1 L1577.7,2916.2 L1579.4,2921.2 L1581.2,2926.2 L1583.1,2931.1 L1585.1,2936.0 L1587.2,2940.8 L1589.4,2945.6 L1591.8,2950.3 L1594.3,2954.9 L1596.9,2959.5 L1599.7,2964.0 L1602.7,2968.4 L1605.8,2972.8 L1609.1,2977.1 L1612.4,2981.4 L1615.9,2985.6 L1619.3,2989.8 L1622.8,2993.9 L1626.3,2998.0 L1629.7,3002.0 L1633.1,3006.0 L1636.4,3009.9 L1639.8,3013.7 L1643.1,3017.5 L1646.5,3021.3 L1650.0,3025.0 L1653.5,3028.8 L1657.0,3032.5 L1660.7,3036.3 L1664.4,3040.2 L1668.2,3044.1 L1672.2,3048.1 L1676.2,3052.2 L1680.3,3056.2 L1684.4,3060.3 L1688.6,3064.3 L1692.8,3068.3 L1697.0,3072.2 L1701.2,3076.1 L1705.4,3079.8 L1709.6,3083.4 L1713.7,3086.9 L1717.9,3090.3 L1722.1,3093.6 L1726.3,3096.9 L1730.6,3100.2 L1734.8,3103.5 L1739.1,3106.8 L1743.4,3110.1 L1747.7,3113.5 L1752.1,3117.0 L1756.5,3120.4 L1760.9,3123.9 L1765.3,3127.5 L1769.8,3131.0 L1774.3,3134.5 L1778.7,3138.1 L1783.2,3141.6 L1787.6,3145.2 L1792.0,3148.7 L1796.4,3152.2 L1800.8,3155.7 L1805.3,3159.2 L1809.8,3162.6 L1814.2,3166.1 L1818.6,3169.6 L1822.9,3173.1 L1827.1,3176.7 L1831.2,3180.3 L1835.1,3183.9 L1838.9,3187.5 L1842.5,3191.0 L1846.0,3194.5 L1849.4,3198.0 L1852.8,3201.6 L1856.0,3205.2 L1859.3,3209.1 L1862.4,3213.1 L1865.6,3217.4 L1868.8,3222.0 L1872.0,3227.0 L1875.2,3232.3 L1878.4,3238.0 L1881.5,3243.8 L1884.6,3249.8 L1887.6,3255.9 L1890.6,3261.9 L1893.4,3267.9 L1896.2,3273.7 L1898.8,3279.3 L1901.2,3284.7 L1903.5,3289.9 L1905.7,3295.0 L1907.8,3300.1 L1909.7,3305.1 L1911.7,3310.1 L1913.6,3315.1 L1915.5,3320.2 L1917.5,3325.3 L1919.6,3330.6 L1921.8,3336.2 L1924.2,3342.4 L1926.7,3348.8 L1929.2,3355.4 L1931.6,3361.8 L1934.0,3368.0 L1936.2,3373.7 L1938.1,3378.8 L1939.7,3382.9 L1941.0,3386.0 L1941.7,3388.2 L1941.9,3389.8 L1941.7,3390.7 L1941.3,3391.1 L1940.7,3390.8 L1940.1,3390.0 L1939.7,3388.5 L1939.5,3386.4 L1939.8,3383.8 L1940.7,3380.5 L1942.2,3376.5 L1944.2,3371.9 L1946.7,3366.5 L1949.4,3360.6 L1952.3,3354.0 L1955.2,3347.0 L1958.1,3339.4 L1960.8,3331.5 L1963.2,3323.2 L1965.1,3314.5 L1966.7,3305.1 L1968.0,3294.5 L1969.1,3283.2 L1970.1,3271.3 L1970.9,3259.2 L1971.6,3247.0 L1972.3,3235.2 L1973.0,3224.0 L1973.7,3213.6 L1974.4,3204.4 L1975.2,3196.3 L1975.9,3189.1 L1976.5,3182.5 L1977.2,3176.5 L1977.8,3170.9 L1978.4,3165.5 L1978.9,3160.2 L1979.5,3154.8 L1980.1,3149.2 L1980.6,3143.2 L1981.1,3136.9 L1981.6,3130.6 L1982.1,3124.2 L1982.6,3117.7 L1983.1,3111.3 L1983.5,3104.9 L1984.0,3098.5 L1984.4,3092.2 L1984.9,3086.1 L1985.3,3080.0 L1985.7,3074.2 L1986.1,3068.8 L1986.4,3063.6 L1986.7,3058.6 L1987.0,3053.5 L1987.3,3048.2 L1987.7,3042.8 L1988.2,3036.9 L1988.8,3030.5 L1989.5,3023.5 L1990.4,3015.7 L1991.4,3007.0 L1992.5,2997.7 L1993.7,2988.0 L1994.9,2978.1 L1996.2,2968.2 L1997.4,2958.5 L1998.7,2949.2 L1999.9,2940.6 L2001.0,2932.8 L2002.0,2925.8 L2002.8,2919.3 L2003.5,2913.3 L2004.1,2907.6 L2004.8,2902.3 L2005.6,2897.2 L2006.5,2892.2 L2007.6,2887.4 L2009.0,2882.6 L2010.8,2877.7 L2013.1,2872.7 L2015.8,2867.5 L2019.0,2862.3 L2022.4,2857.2 L2025.9,2852.3 L2029.4,2847.7 L2032.7,2843.6 L2035.6,2840.0 L2038.1,2837.0 L2040.0,2834.8 L2041.1,2833.3 L2041.5,2832.5 L2041.4,2832.2 L2040.9,2832.4 L2040.3,2833.2 L2039.7,2834.3 L2039.4,2835.8 L2039.4,2837.7 L2040.0,2839.9 L2041.4,2842.3 L2043.6,2845.2 L2046.3,2848.6 L2049.6,2852.5 L2053.2,2856.9 L2057.1,2861.5 L2061.1,2866.3 L2065.2,2871.2 L2069.3,2876.2 L2073.2,2881.1 L2076.8,2885.8 L2080.3,2890.5 L2083.7,2895.3 L2087.2,2900.3 L2090.6,2905.3 L2094.0,2910.3 L2097.4,2915.3 L2100.8,2920.3 L2104.2,2925.2 L2107.6,2930.0 L2111.0,2934.6 L2114.4,2939.1 L2117.7,2943.5 L2120.9,2947.8 L2124.2,2952.1 L2127.5,2956.3 L2130.8,2960.4 L2134.1,2964.5 L2137.6,2968.6 L2141.1,2972.6 L2144.8,2976.6 L2148.6,2980.6 L2152.5,2984.6 L2156.4,2988.6 L2160.5,2992.6 L2164.6,2996.5 L2168.8,3000.4 L2173.0,3004.1 L2177.3,3007.8 L2181.6,3011.3 L2185.9,3014.7 L2190.3,3018.0 L2194.7,3021.2 L2199.1,3024.4 L2203.6,3027.4 L2208.2,3030.3 L2212.8,3033.1 L2217.5,3035.8 L2222.2,3038.3 L2227.0,3040.5 L2231.8,3042.6 L2236.7,3044.5 L2241.7,3046.3 L2246.8,3048.1 L2252.0,3049.6 L2257.2,3051.0 L2262.4,3052.1 L2267.7,3053.0 L2272.9,3053.5 L2278.1,3053.7 L2283.3,3053.6 L2288.5,3053.1 L2293.9,3052.3 L2299.4,3051.2 L2304.8,3049.7 L2310.3,3048.1 L2315.6,3046.1 L2320.7,3043.9 L2325.7,3041.4 L2330.3,3038.7 L2334.6,3035.7 L2338.6,3032.4 L2342.3,3028.8 L2345.8,3024.8 L2349.0,3020.5 L2352.1,3016.0 L2355.0,3011.4 L2357.7,3006.6 L2360.3,3001.8 L2362.8,2997.0 L2365.1,2992.2 L2367.3,2987.4 L2369.2,2982.6 L2371.0,2977.7 L2372.6,2972.7 L2374.1,2967.6 L2375.4,2962.5 L2376.7,2957.3 L2377.9,2952.0 L2379.0,2946.6 L2380.1,2941.2 L2381.1,2935.6 L2382.0,2929.9 L2382.8,2924.1 L2383.6,2918.2 L2384.2,2912.2 L2384.8,2906.2 L2385.3,2900.2 L2385.8,2894.3 L2386.3,2888.5 L2386.7,2882.8 L2387.1,2877.2 L2387.4,2871.7 L2387.6,2866.3 L2387.8,2860.9 L2387.9,2855.5 L2388.1,2850.2 L2388.2,2844.9 L2388.3,2839.5 L2388.4,2834.2 L2388.5,2828.8 L2388.6,2823.3 L2388.8,2817.6 L2388.9,2811.8 L2389.1,2806.0 L2389.2,2800.3 L2389.3,2794.6 L2389.4,2789.2 L2389.5,2784.1 L2389.6,2779.3 L2389.7,2774.9 L2389.7,2771.0 L2389.8,2767.6 L2389.8,2764.5 L2389.8,2761.7 L2389.8,2759.1 L2389.8,2756.6 L2389.7,2754.1 L2389.7,2751.7 L2389.7,2749.1 L2389.7,2746.4" fill="none" stroke="#2e2eff" stroke-width="8.4" stroke-linejoin="round" stroke-linecap="round"/>
<rect x="1545.0" y="2739.0" width="22" height="22" fill="#2e2eff"/><rect x="1545.9" y="2794.1" width="22" height="22" fill="#2e2eff"/><rect x="1555.1" y="2846.7" width="22" height="22" fill="#2e2eff"/><rect x="1565.1" y="2900.1" width="22" height="22" fill="#2e2eff"/><rect x="1585.9" y="2948.5" width="22" height="22" fill="#2e2eff"/><rect x="1618.7" y="2991.0" width="22" height="22" fill="#2e2eff"/><rect x="1653.4" y="3029.2" width="22" height="22" fill="#2e2eff"/><rect x="1694.4" y="3068.8" width="22" height="22" fill="#2e2eff"/><rect x="1736.7" y="3102.5" width="22" height="22" fill="#2e2eff"/><rect x="1781.0" y="3137.7" width="22" height="22" fill="#2e2eff"/><rect x="1824.1" y="3172.9" width="22" height="22" fill="#2e2eff"/><rect x="1857.8" y="3211.0" width="22" height="22" fill="#2e2eff"/><rect x="1887.8" y="3268.3" width="22" height="22" fill="#2e2eff"/><rect x="1908.6" y="3319.6" width="22" height="22" fill="#2e2eff"/><rect x="1929.7" y="3369.5" width="22" height="22" fill="#2e2eff"/><rect x="1954.1" y="3303.5" width="22" height="22" fill="#2e2eff"/><rect x="1963.4" y="3193.4" width="22" height="22" fill="#2e2eff"/><rect x="1969.6" y="3132.2" width="22" height="22" fill="#2e2eff"/><rect x="1974.3" y="3069.0" width="22" height="22" fill="#2e2eff"/><rect x="1978.5" y="3012.5" width="22" height="22" fill="#2e2eff"/><rect x="1990.0" y="2921.8" width="22" height="22" fill="#2e2eff"/><rect x="1999.8" y="2866.7" width="22" height="22" fill="#2e2eff"/><rect x="2030.4" y="2831.3" width="22" height="22" fill="#2e2eff"/><rect x="2065.8" y="2874.8" width="22" height="22" fill="#2e2eff"/><rect x="2100.0" y="2923.6" width="22" height="22" fill="#2e2eff"/><rect x="2133.8" y="2965.6" width="22" height="22" fill="#2e2eff"/><rect x="2174.9" y="3003.7" width="22" height="22" fill="#2e2eff"/><rect x="2220.8" y="3031.6" width="22" height="22" fill="#2e2eff"/><rect x="2272.3" y="3042.6" width="22" height="22" fill="#2e2eff"/><rect x="2323.6" y="3024.7" width="22" height="22" fill="#2e2eff"/><rect x="2354.1" y="2981.2" width="22" height="22" fill="#2e2eff"/><rect x="2369.1" y="2930.2" width="22" height="22" fill="#2e2eff"/><rect x="2375.7" y="2871.8" width="22" height="22" fill="#2e2eff"/><rect x="2377.5" y="2817.8" width="22" height="22" fill="#2e2eff"/><rect x="2378.7" y="2763.9" width="22" height="22" fill="#2e2eff"/>
<clipPath id="clipa"><rect x="36" y="100" width="1373" height="933"/></clipPath>
<g clip-path="url(#clipa)">
<clipPath id="rc1"><path d="M347.2,550.5 L-2652.8,-1729.5 L-2652.8,3550.5 L3347.2,3550.5 L3347.2,-2449.5 L347.2,-2449.5Z"/></clipPath><ellipse clip-path="url(#rc1)" cx="298.2" cy="612.2" rx="93.1" ry="86.7" fill="#fff8f8"/><clipPath id="rc2"><path d="M347.2,550.5 L-2652.8,-1609.5 L-2652.8,3550.5 L3347.2,3550.5 L3347.2,-2449.5 L347.2,-2449.5Z"/></clipPath><ellipse clip-path="url(#rc2)" cx="307.5" cy="605.5" rx="81.4" ry="76.2" fill="#ffcccc"/><clipPath id="rc3"><path d="M347.2,550.5 L-2652.8,-1489.5 L-2652.8,3550.5 L3347.2,3550.5 L3347.2,-2449.5 L347.2,-2449.5Z"/></clipPath><ellipse clip-path="url(#rc3)" cx="314.2" cy="599.2" rx="72.0" ry="68.0" fill="#ffa5a5"/><clipPath id="rc4"><path d="M347.2,550.5 L-2652.8,-1339.5 L-2652.8,3550.5 L3347.2,3550.5 L3347.2,-2449.5 L347.2,-2449.5Z"/></clipPath><ellipse clip-path="url(#rc4)" cx="320.2" cy="594.2" rx="64.1" ry="60.8" fill="#ff7f7f"/><clipPath id="rc5"><path d="M347.2,550.5 L-2652.8,-1159.5 L-2652.8,3550.5 L3347.2,3550.5 L3347.2,-2449.5 L347.2,-2449.5Z"/></clipPath><ellipse clip-path="url(#rc5)" cx="323.9" cy="589.3" rx="57.9" ry="54.2" fill="#ff5252"/><clipPath id="rc6"><path d="M347.2,550.5 L-2652.8,-949.5 L-2652.8,3550.5 L3347.2,3550.5 L3347.2,-2449.5 L347.2,-2449.5Z"/></clipPath><ellipse clip-path="url(#rc6)" cx="327.1" cy="586.4" rx="52.1" ry="49.4" fill="#ff2a2a"/><clipPath id="rc7"><path d="M347.2,550.5 L-2652.8,-679.5 L-2652.8,3550.5 L3347.2,3550.5 L3347.2,-2449.5 L347.2,-2449.5Z"/></clipPath><ellipse clip-path="url(#rc7)" cx="329.8" cy="583.6" rx="46.9" ry="44.0" fill="#ff0000"/>
<path d="M649.1,654.0 652.0,653.5 663.0,653.4 666.0,652.6 670.0,652.4 693.0,646.2 707.6,640.0 716.3,634.0 723.0,627.3 727.5,621.0 730.0,618.3 736.0,608.4 739.1,602.0 743.2,583.0 743.2,567.0 741.1,557.0 738.0,548.7 734.7,542.0 733.0,536.7 725.0,521.8 720.4,516.0 717.0,510.8 708.5,502.0 706.3,499.0 699.0,491.7 693.0,487.5 685.2,479.0 657.2,458.0 648.0,451.9 613.3,432.0 604.0,428.3 590.3,421.0 588.0,420.3 566.3,410.0 539.0,400.9 536.0,400.6 521.0,396.9 513.0,396.6 510.0,395.7 504.0,395.6 500.0,394.7 471.0,394.7 468.0,395.5 456.0,396.9 428.0,404.8 414.5,410.0 393.0,422.7 388.6,426.0 375.4,440.0 366.0,451.3 361.0,458.9 352.4,476.0 351.7,479.0 345.2,498.0 344.1,503.0 342.6,513.0 340.7,521.0 340.5,527.0 341.3,531.0 341.5,538.0 343.2,545.0 345.2,550.0 345.2,551.0 343.7,554.0 344.5,556.0 352.0,559.7 355.0,560.1 360.0,561.9 362.0,562.0 364.0,562.8 377.0,565.3 389.0,566.9 391.0,567.7 395.0,568.0 402.0,569.7 410.0,570.1 412.0,570.9 415.0,571.1 417.0,571.9 425.0,572.5 432.0,573.9 436.1,574.0 439.0,575.0 446.0,575.0 447.0,574.0 454.0,574.0 455.0,573.0 457.0,573.0 460.0,571.0 461.0,572.0 465.0,572.0 466.0,573.0 470.0,573.0 471.0,574.0 474.0,574.0 475.0,575.0 478.0,575.0 479.0,576.0 483.0,576.0 484.0,577.0 488.0,577.0 489.0,578.0 492.0,578.0 493.0,579.0 495.0,579.0 496.0,580.0 500.0,580.0 501.0,581.0 505.0,581.0 506.0,582.0 510.0,582.0 511.0,583.0 514.0,583.0 515.0,584.0 518.0,584.0 519.0,585.0 523.0,585.0 524.0,586.0 530.0,586.0 531.0,587.0 534.0,587.0 535.0,588.0 536.0,588.0 536.0,589.0 535.0,590.0 535.0,593.0 536.0,593.0 537.0,594.0 539.0,594.1 539.8,595.0 544.6,597.0 547.0,597.1 547.8,598.0 554.0,601.3 555.7,603.0 556.5,605.0 555.0,609.3 555.1,612.0 556.9,615.0 563.8,622.0 573.8,630.0 579.0,632.8 584.8,637.0 591.0,639.3 601.4,645.0 621.0,651.2 633.0,652.6 636.0,653.4 646.0,653.5 649.1,654.0Z" fill="#eeeeff"/>
<path d="M652.9,641.0 658.0,640.2 665.0,639.9 681.0,635.7 698.0,628.6 702.0,626.5 706.0,623.2 709.4,621.0 714.5,614.0 718.7,605.0 721.8,590.0 721.8,575.0 718.6,556.0 712.6,538.0 707.6,529.0 696.0,513.2 681.0,498.2 668.7,488.0 662.0,483.8 653.0,476.5 632.0,464.4 622.0,459.4 602.0,450.6 589.0,444.3 582.0,441.6 571.0,436.3 553.0,429.3 540.0,425.3 527.0,422.0 524.0,421.8 500.0,417.1 486.0,415.8 482.0,415.0 463.0,415.1 449.0,417.1 433.0,420.3 424.0,423.3 420.0,425.4 416.0,426.2 411.0,428.0 399.0,433.7 387.0,441.9 375.0,452.7 366.0,463.2 358.0,475.6 353.0,486.0 347.7,499.0 342.0,522.0 341.8,527.0 342.3,531.0 342.3,537.0 344.5,547.0 346.2,551.0 345.0,554.0 345.1,555.0 347.0,556.6 353.0,559.5 356.0,559.9 360.0,561.5 363.0,561.7 365.0,562.5 369.0,563.0 370.0,563.5 375.0,563.8 378.0,564.7 382.0,564.8 384.0,565.6 389.0,565.8 391.0,566.6 395.0,566.8 397.0,567.6 401.0,568.0 402.0,568.6 411.0,568.8 413.0,569.6 417.0,570.0 418.0,570.6 428.0,570.8 430.0,571.6 437.0,571.8 439.0,572.6 442.0,572.7 445.0,571.8 451.0,571.6 458.0,568.7 462.0,568.7 464.0,569.5 472.0,570.6 482.0,573.4 490.0,574.5 499.0,577.2 512.0,579.4 523.0,582.3 525.0,582.3 528.0,583.3 532.0,583.3 543.0,586.2 547.0,586.2 554.0,588.1 558.0,588.2 561.0,589.2 565.0,589.3 570.0,591.4 576.0,592.0 578.4,593.0 579.4,594.0 579.3,600.0 578.8,603.0 579.8,610.0 581.9,615.0 588.5,621.0 595.0,625.5 611.0,633.7 616.0,635.7 624.0,637.4 627.0,638.7 632.0,639.9 640.0,640.2 643.0,640.9 652.9,641.0Z" fill="#d9d9ff"/>
<path d="M657.9,629.0 670.0,626.4 677.0,624.3 681.0,622.2 686.3,618.0 689.0,614.7 692.0,612.2 697.2,602.0 698.6,594.0 698.7,584.0 698.0,579.0 697.7,572.0 697.0,569.0 696.7,562.0 694.7,553.0 693.2,549.0 691.4,542.0 688.0,534.1 682.0,525.6 675.6,520.0 652.0,503.4 647.0,500.7 638.0,494.3 622.0,484.3 615.0,480.7 608.0,476.3 595.0,469.7 580.0,461.3 568.0,455.3 553.0,449.3 539.0,444.3 518.0,438.3 502.0,435.1 480.0,433.0 440.0,433.1 433.0,434.1 420.0,438.6 411.0,440.9 403.0,443.9 392.0,449.6 382.0,456.6 372.0,465.6 364.0,475.0 357.0,485.8 350.0,499.5 346.3,510.0 343.1,522.0 342.6,527.0 342.8,537.0 344.5,546.0 346.6,551.0 345.6,554.0 345.9,555.0 348.0,556.7 353.0,559.1 360.0,561.1 363.0,561.4 371.0,563.3 375.0,563.4 378.0,564.3 382.0,564.4 385.0,565.3 389.0,565.4 391.0,566.2 395.0,566.4 403.0,568.4 411.0,568.4 419.0,570.4 428.0,570.4 431.0,571.4 437.0,571.4 440.0,572.4 442.0,572.4 445.0,571.4 450.0,571.4 458.0,568.4 462.0,568.2 464.0,568.9 476.0,571.0 482.0,572.9 490.1,574.0 499.0,576.8 502.0,576.9 504.0,577.7 512.0,578.9 522.0,581.6 525.0,581.8 528.0,582.7 532.0,582.8 542.0,585.5 547.0,585.7 554.0,587.6 558.0,587.6 561.0,588.6 565.0,588.7 570.0,590.5 575.0,590.8 578.0,591.8 581.0,591.9 583.0,592.7 586.4,593.0 588.0,593.7 591.0,593.9 593.0,594.8 598.0,595.3 601.0,596.4 604.0,596.8 606.0,598.0 606.5,599.0 606.5,602.0 605.8,607.0 609.0,615.0 613.4,620.0 620.0,624.5 624.0,626.5 637.0,629.8 653.0,629.9 657.9,629.0Z" fill="#c7c7ff"/>
<path d="M648.4,617.0 654.2,614.0 660.5,608.0 662.0,605.4 665.1,597.0 665.0,594.4 662.3,588.0 661.7,585.0 661.7,576.0 663.4,565.0 663.0,554.0 662.0,549.9 659.0,543.8 654.0,537.0 647.1,531.0 642.0,527.5 637.2,523.0 630.0,518.3 618.4,509.0 583.0,484.6 575.1,480.0 554.0,469.5 534.0,461.4 515.0,454.4 507.0,452.2 491.0,449.2 486.0,449.0 483.0,448.2 475.0,447.9 472.0,447.2 466.0,447.1 430.0,447.2 423.0,449.6 414.0,451.0 404.0,453.8 395.0,457.5 386.0,462.5 378.0,468.2 370.0,475.5 363.0,483.5 356.0,493.5 351.0,502.6 347.0,512.5 344.3,521.0 343.5,525.0 343.2,536.0 343.8,541.0 345.1,547.0 346.9,551.0 346.1,554.0 346.3,555.0 348.0,556.3 353.0,558.9 355.0,559.0 360.0,560.9 363.0,561.0 370.0,562.9 375.0,563.0 377.0,563.9 382.0,564.1 385.0,565.0 389.0,565.1 391.0,565.9 395.0,566.1 402.0,567.9 411.0,568.1 418.0,569.9 428.0,570.1 430.0,570.9 437.0,571.1 440.0,572.0 443.0,571.9 445.0,571.1 451.0,570.9 458.0,568.0 462.0,567.9 464.0,568.7 472.8,570.0 482.0,572.6 491.0,573.9 499.0,576.4 513.0,578.7 522.0,581.2 526.0,581.6 528.0,582.4 533.0,582.5 543.0,585.3 547.0,585.2 554.0,587.2 558.0,587.2 561.0,588.1 566.0,588.3 571.0,590.1 576.0,590.3 578.0,591.1 582.0,591.3 583.6,592.0 587.0,592.3 589.0,593.1 592.0,593.2 594.0,594.1 599.0,594.3 601.0,595.1 604.0,595.3 610.0,597.2 616.0,597.5 618.0,598.3 621.0,598.6 624.0,600.0 626.0,601.7 630.4,603.0 629.9,605.0 627.9,608.0 629.0,613.1 630.9,615.0 634.7,617.0 637.0,617.5 645.0,617.7 648.4,617.0Z" fill="#b5b5ff"/>
<path d="M579.1,589.0 580.5,579.0 581.9,575.0 583.9,564.0 583.8,543.0 582.6,538.0 578.5,526.0 575.5,521.0 572.7,517.0 563.0,507.2 546.0,494.3 535.0,487.3 520.0,479.2 510.0,474.3 499.0,470.3 487.0,467.0 462.0,462.8 449.0,460.0 445.0,459.8 435.0,458.1 430.0,458.1 422.0,459.8 413.0,460.6 401.0,463.4 392.0,466.9 383.0,471.8 375.0,477.5 367.0,484.8 360.0,492.9 354.0,501.5 349.0,511.1 345.3,521.0 344.1,527.0 343.7,537.0 344.8,545.0 347.1,551.0 346.4,554.0 346.6,555.0 347.9,556.0 353.0,558.7 355.7,559.0 360.0,560.7 368.0,561.9 370.0,562.7 375.0,562.9 378.0,563.8 382.0,563.9 385.0,564.8 389.0,564.9 391.0,565.7 395.0,565.9 397.0,566.7 400.0,566.9 402.0,567.7 411.0,567.9 413.0,568.7 416.0,568.9 419.0,569.8 428.0,569.9 430.0,570.7 437.0,570.9 440.0,571.8 443.0,571.7 445.0,570.9 451.0,570.7 458.0,567.8 462.0,567.7 464.0,568.4 473.0,569.8 482.0,572.3 491.0,573.6 500.0,576.3 513.0,578.3 514.4,579.0 517.0,579.3 523.0,581.0 526.0,581.2 528.0,582.0 533.0,582.1 543.0,584.7 547.0,584.6 554.0,586.4 559.0,586.5 561.0,587.2 566.0,587.2 571.0,589.0 577.0,588.6 579.1,589.0Z" fill="#a0a0ff"/>
<path d="M538.6,581.0 540.5,575.0 541.6,573.0 543.8,565.0 544.0,538.0 542.5,527.0 541.0,522.9 537.4,516.0 532.0,510.3 526.8,506.0 518.0,500.6 512.0,496.2 507.0,493.6 499.0,488.2 483.0,480.2 478.0,478.3 453.0,471.3 436.0,468.1 426.0,468.0 422.0,468.8 412.0,468.8 405.0,469.8 397.0,471.9 388.0,475.5 380.0,479.9 372.0,485.6 365.0,491.9 359.0,498.5 354.0,505.3 349.7,513.0 345.9,522.0 344.8,527.0 344.0,537.0 345.3,546.0 347.3,551.0 346.7,554.0 347.0,555.0 348.0,555.8 353.0,558.5 356.0,558.9 360.0,560.5 368.0,561.7 370.0,562.5 375.0,562.7 378.0,563.7 382.0,563.7 385.0,564.7 389.0,564.7 391.0,565.5 395.0,565.7 403.0,567.7 411.0,567.7 419.0,569.7 428.0,569.7 431.0,570.7 437.0,570.7 440.0,571.7 443.0,571.5 445.0,570.7 451.0,570.5 458.0,567.6 462.0,567.5 470.0,569.3 473.0,569.5 483.0,572.2 491.0,573.3 500.0,576.0 512.0,577.7 521.0,579.5 523.0,580.3 526.0,580.4 528.0,581.2 533.0,581.1 536.0,581.6 538.6,581.0Z" fill="#8a8aff"/>
<path d="M513.8,576.0 515.0,571.0 517.0,557.0 517.0,536.0 513.7,524.0 509.7,516.0 504.9,509.0 495.0,500.3 488.0,496.1 470.0,487.1 457.0,482.2 447.0,479.6 441.0,477.4 434.0,476.1 415.0,475.8 408.0,476.1 399.0,477.7 391.0,480.1 383.0,483.6 376.0,487.6 369.0,492.7 363.0,497.9 357.0,504.4 353.0,510.0 349.0,517.1 346.5,523.0 345.4,528.0 344.5,535.0 344.5,540.0 345.2,545.0 345.7,547.0 347.3,550.0 347.3,555.0 353.0,558.3 356.0,558.7 360.0,560.3 369.0,561.7 371.0,562.5 375.0,562.5 378.0,563.5 382.0,563.5 385.0,564.5 389.0,564.5 391.0,565.3 395.0,565.5 403.0,567.5 411.0,567.5 419.0,569.5 428.0,569.5 431.0,570.5 437.0,570.5 440.0,571.5 442.0,571.5 445.0,570.5 451.0,570.3 457.0,567.7 462.0,567.3 465.0,568.2 468.0,568.3 470.0,569.1 473.0,569.2 483.0,571.9 495.0,573.6 500.0,575.3 510.0,576.4 513.8,576.0Z" fill="#7878ff"/>
<path d="M493.2,572.0 496.8,561.0 498.9,552.0 498.8,532.0 498.1,529.0 497.8,525.0 495.5,517.0 492.6,512.0 487.0,506.4 482.7,503.0 478.1,500.0 461.0,491.5 443.0,486.7 439.0,485.1 435.0,484.8 426.0,483.1 414.0,482.2 408.0,482.2 400.0,483.2 393.0,484.8 385.0,487.6 378.0,491.0 371.0,495.2 364.0,500.5 358.0,506.3 354.0,511.2 350.0,517.6 347.1,524.0 345.0,534.0 344.7,539.0 345.4,545.0 345.9,547.0 347.5,550.0 347.6,555.0 353.0,558.1 356.0,558.5 360.0,560.1 369.0,561.5 371.0,562.3 375.0,562.3 378.0,563.3 382.0,563.3 385.0,564.3 389.0,564.3 392.0,565.3 395.0,565.3 398.0,566.3 401.0,566.5 403.0,567.3 411.0,567.3 419.0,569.3 428.0,569.3 431.0,570.3 437.0,570.3 440.0,571.3 442.0,571.3 445.0,570.3 450.0,570.3 454.0,569.1 457.0,567.5 462.0,567.0 465.0,567.9 477.0,569.6 483.0,571.3 486.0,571.3 488.0,572.1 493.2,572.0Z" fill="#6666ff"/>
<path d="M442.6,571.0 445.0,570.2 450.6,570.0 457.0,567.3 460.0,566.7 463.0,566.7 470.0,568.2 475.0,568.5 475.8,568.0 481.3,556.0 482.9,547.0 483.0,534.0 482.9,531.0 480.6,523.0 475.8,514.0 469.7,508.0 463.0,503.4 448.0,496.4 432.0,491.1 429.0,490.9 423.0,489.1 413.0,488.0 406.0,487.8 398.0,488.6 390.0,490.5 383.0,492.9 375.0,496.6 368.0,500.7 362.0,505.2 357.0,509.9 353.0,515.0 349.0,521.5 347.5,525.0 345.7,532.0 345.1,540.0 345.8,546.0 347.7,550.0 347.5,554.0 347.9,555.0 351.2,557.0 360.3,560.0 369.0,561.3 371.0,562.1 375.0,562.2 378.0,563.1 382.0,563.2 385.0,564.1 390.0,564.3 392.0,565.1 395.0,565.2 398.0,566.1 401.0,566.3 403.0,567.1 411.0,567.2 414.0,568.1 417.0,568.3 419.0,569.1 428.0,569.2 431.0,570.1 437.0,570.2 440.0,571.1 442.6,571.0Z" fill="#5252ff"/>
<path d="M445.9,570.0 450.0,569.9 459.0,566.3 463.0,566.1 466.0,566.8 468.0,566.0 469.2,559.0 470.9,536.0 469.6,531.0 466.7,525.0 460.0,516.0 456.0,512.3 446.0,505.2 441.0,502.3 434.0,499.3 420.0,494.9 414.0,493.5 403.0,492.9 392.0,494.3 385.0,496.2 377.0,499.2 370.0,502.5 365.0,505.6 357.0,512.1 352.0,518.5 349.2,523.0 345.9,533.0 345.4,541.0 346.0,546.0 347.9,550.0 348.0,554.7 351.7,557.0 361.0,560.0 364.0,560.1 371.0,562.0 375.0,562.0 378.0,562.9 383.0,563.1 385.0,563.9 390.0,564.1 392.0,564.9 396.0,565.1 403.0,566.9 411.0,567.0 414.0,567.9 417.0,568.1 419.0,568.9 428.0,569.0 431.0,569.9 438.0,570.1 440.0,570.9 442.0,570.9 444.0,570.1 445.9,570.0Z" fill="#3d3dff"/>
<path d="M443.8,570.0 450.0,569.6 454.0,568.3 458.5,566.0 458.4,564.0 457.3,562.0 457.4,561.0 459.1,554.0 459.7,549.0 459.9,540.0 458.6,534.0 455.6,526.0 453.0,522.1 444.8,513.0 440.0,509.3 433.0,505.3 428.0,503.6 420.0,500.0 410.0,497.9 400.0,497.4 389.0,499.0 375.0,503.2 369.0,505.8 365.0,508.1 360.0,511.4 357.0,514.0 351.0,521.5 349.5,524.0 346.4,533.0 345.7,539.0 345.9,544.0 346.3,546.0 348.1,550.0 348.0,554.0 348.8,555.0 352.2,557.0 361.0,559.6 368.0,560.7 371.0,561.6 375.0,561.7 378.0,562.6 382.0,562.6 385.0,563.6 389.0,563.6 392.0,564.6 395.0,564.6 398.0,565.6 401.0,565.8 403.0,566.6 411.0,566.6 419.0,568.6 428.0,568.6 431.0,569.6 437.0,569.6 440.0,570.6 442.0,570.6 443.8,570.0Z" fill="#2b2bff"/>
<path d="M443.0,570.0 444.0,569.4 450.0,569.2 454.0,568.0 457.4,566.0 457.1,564.0 455.0,560.3 453.0,558.0 450.2,553.0 450.9,549.0 450.9,545.0 449.3,539.0 447.7,529.0 443.1,522.0 437.8,516.0 430.0,510.2 428.0,509.2 421.0,506.4 417.0,504.3 409.0,502.2 400.0,501.4 388.0,502.9 372.0,507.1 368.0,508.7 361.0,512.6 358.0,514.8 351.0,523.0 350.0,524.9 347.0,533.0 346.1,541.0 346.7,546.0 348.5,550.0 348.5,554.0 352.9,557.0 356.0,557.5 361.0,559.3 369.0,560.4 371.0,561.3 375.0,561.3 378.0,562.2 383.0,562.4 385.0,563.2 390.0,563.4 392.0,564.2 396.0,564.4 397.0,565.0 401.0,565.4 403.0,566.2 411.0,566.3 414.0,567.2 417.0,567.4 419.0,568.2 428.0,568.3 431.0,569.2 438.0,569.4 440.0,570.2 443.0,570.0Z" fill="#1a1aff"/>
<path d="M448.0,567.0 449.0,566.0 451.0,566.0 452.0,565.0 452.0,564.0 450.0,562.0 449.8,560.0 448.9,558.0 444.6,552.0 444.1,540.0 443.2,537.0 443.0,533.0 437.7,522.0 436.2,520.0 432.8,517.0 429.0,514.3 422.0,510.4 416.0,508.3 408.0,506.0 399.0,505.0 395.0,505.9 389.0,506.1 384.0,507.7 378.0,508.1 370.0,510.2 360.3,515.0 359.2,516.0 351.9,524.0 348.0,532.9 346.9,539.0 347.0,545.7 348.7,549.0 349.2,554.0 354.0,556.9 357.0,557.3 361.7,559.0 369.0,559.8 372.0,560.6 383.0,561.4 385.0,562.2 390.0,562.3 392.0,563.1 396.0,563.3 403.0,564.9 413.0,565.1 420.0,566.6 439.0,567.1 441.0,567.8 442.0,567.0 448.0,567.0Z" fill="#0000ff"/>
</g>
<path d="M644.6,603.2 L644.5,603.2 L644.1,603.1 L643.6,602.9 L642.8,602.6 L641.7,602.3 L640.5,601.9 L639.0,601.4 L637.3,600.9 L635.4,600.3 L633.3,599.7 L630.9,598.9 L628.4,598.1 L625.6,597.3 L622.7,596.4 L619.5,595.4 L616.2,594.4 L612.6,593.4 L608.9,592.3 L605.0,591.1 L601.0,589.9 L596.7,588.7 L592.4,587.4 L587.8,586.2 L583.2,584.8 L578.4,583.5 L573.4,582.1 L568.4,580.7 L563.2,579.3 L558.0,577.8 L552.6,576.4 L547.1,574.9 L541.6,573.5 L536.0,572.0 L530.3,570.5 L524.6,569.1 L518.9,567.6 L513.1,566.2 L507.3,564.7 L501.4,563.3 L495.6,562.0 L489.7,560.6 L483.9,559.3 L478.0,558.0 L472.3,556.7 L466.5,555.5 L460.8,554.3 L455.1,553.2 L449.5,552.1 L444.0,551.1 L438.5,550.1 L433.2,549.2 L427.9,548.3 L422.8,547.5 L417.7,546.8 L412.8,546.1 L408.0,545.5 L403.3,545.0 L398.8,544.6 L394.5,544.2 L390.2,543.9 L386.2,543.6 L382.3,543.5 L378.6,543.4 L375.1,543.3 L371.8,543.4 L368.6,543.5 L365.7,543.7 L363.0,543.9 L360.4,544.2 L358.1,544.6 L356.0,545.1 L354.1,545.6 L352.5,546.2 L351.0,546.8 L349.8,547.5 L348.9,548.3 L348.1,549.1 L347.6,550.0 L347.3,550.9 L347.2,551.9 L347.4,552.9 L347.9,553.9 L348.5,555.0 L349.4,556.0 L350.5,557.1 L351.9,558.2 L353.5,559.3 L355.3,560.5 L357.4,561.6 L359.6,562.8 L362.1,564.0 L364.8,565.1 L367.7,566.3 L370.8,567.5 L374.2,568.7 L377.7,569.8 L381.4,571.0 L385.3,572.2 L389.3,573.3 L393.6,574.4 L398.0,575.6 L402.5,576.7 L407.2,577.7 L412.1,578.8 L417.1,579.8 L422.2,580.8 L427.4,581.8 L432.8,582.8 L438.2,583.7 L443.8,584.7 L449.4,585.6 L455.1,586.4 L460.9,587.3 L466.7,588.1 L472.6,588.9 L478.5,589.6 L484.5,590.4 L490.4,591.1 L496.4,591.8 L502.4,592.5 L508.3,593.1 L514.3,593.7 L520.2,594.3 L526.1,594.9 L531.9,595.5 L537.6,596.0 L543.3,596.5 L549.0,597.0 L554.5,597.5 L559.9,597.9 L565.3,598.4 L570.5,598.8 L575.6,599.1 L580.6,599.5 L585.4,599.9 L590.1,600.2 L594.7,600.5 L599.1,600.8 L603.3,601.0 L607.3,601.3 L611.2,601.5 L614.9,601.7 L618.4,601.9 L621.6,602.1 L624.7,602.3 L627.6,602.4 L630.3,602.5 L632.7,602.7 L635.0,602.8 L637.0,602.9 L638.7,602.9 L640.3,603.0 L641.6,603.1 L642.7,603.1 L643.5,603.2 L644.1,603.2 L644.5,603.2 L644.6,603.2Z" fill="#fff" stroke="#000" stroke-width="2.6" stroke-linejoin="round"/>
<clipPath id="clipc"><rect x="36" y="1377" width="1373" height="933"/></clipPath>
<g clip-path="url(#clipc)">
<clipPath id="rc8"><path d="M348.8,1813.8 L-2651.2,508.8 L-2651.2,4813.8 L3348.8,4813.8 L3348.8,-1186.2 L348.8,-1186.2Z"/></clipPath><ellipse clip-path="url(#rc8)" cx="266.5" cy="1950.4" rx="170.8" ry="165.4" fill="#fff8f8"/><clipPath id="rc9"><path d="M348.8,1813.8 L-2651.2,553.8 L-2651.2,4813.8 L3348.8,4813.8 L3348.8,-1186.2 L348.8,-1186.2Z"/></clipPath><ellipse clip-path="url(#rc9)" cx="286.6" cy="1928.4" rx="146.2" ry="138.4" fill="#ffcccc"/><clipPath id="rc10"><path d="M348.8,1813.8 L-2651.2,643.8 L-2651.2,4813.8 L3348.8,4813.8 L3348.8,-1186.2 L348.8,-1186.2Z"/></clipPath><ellipse clip-path="url(#rc10)" cx="302.2" cy="1911.5" rx="128.4" ry="119.5" fill="#ffa5a5"/><clipPath id="rc11"><path d="M348.8,1813.8 L-2651.2,763.8 L-2651.2,4813.8 L3348.8,4813.8 L3348.8,-1186.2 L348.8,-1186.2Z"/></clipPath><ellipse clip-path="url(#rc11)" cx="312.2" cy="1900.0" rx="113.8" ry="106.0" fill="#ff7f7f"/><clipPath id="rc12"><path d="M348.8,1813.8 L-2651.2,913.8 L-2651.2,4813.8 L3348.8,4813.8 L3348.8,-1186.2 L348.8,-1186.2Z"/></clipPath><ellipse clip-path="url(#rc12)" cx="320.0" cy="1890.5" rx="101.5" ry="91.5" fill="#ff5252"/><clipPath id="rc13"><path d="M348.8,1813.8 L-2651.2,1123.8 L-2651.2,4813.8 L3348.8,4813.8 L3348.8,-1186.2 L348.8,-1186.2Z"/></clipPath><ellipse clip-path="url(#rc13)" cx="326.3" cy="1883.5" rx="90.9" ry="82.5" fill="#ff2a2a"/><clipPath id="rc14"><path d="M348.8,1813.8 L-2651.2,1423.8 L-2651.2,4813.8 L3348.8,4813.8 L3348.8,-1186.2 L348.8,-1186.2Z"/></clipPath><ellipse clip-path="url(#rc14)" cx="329.0" cy="1878.0" rx="81.5" ry="75.0" fill="#ff0000"/>
<path d="M638.5,1951.0 642.0,1949.6 660.0,1939.8 671.0,1932.4 679.0,1927.9 684.0,1924.2 688.0,1920.5 697.0,1915.5 704.0,1913.2 709.0,1912.8 719.0,1910.2 725.0,1910.0 729.0,1909.1 751.0,1908.9 756.0,1908.0 768.0,1907.9 782.0,1909.8 784.0,1909.3 789.0,1906.7 793.0,1906.1 900.0,1912.0 963.0,1919.0 1025.0,1925.1 1081.0,1927.8 1141.0,1928.8 1280.0,1926.3 1419.0,1925.4 1419.0,1825.6 1280.0,1826.6 1141.0,1828.9 1100.0,1828.4 1026.0,1829.7 900.0,1826.1 795.0,1826.1 785.0,1824.6 779.0,1824.5 767.0,1822.9 760.0,1820.4 751.0,1818.5 746.0,1816.2 743.0,1815.5 733.9,1811.0 724.0,1804.6 721.0,1801.0 717.4,1798.0 713.3,1792.0 708.3,1783.0 706.7,1778.0 701.3,1765.0 696.6,1751.0 695.3,1748.0 693.6,1741.0 690.2,1733.0 688.5,1726.0 687.1,1723.0 685.5,1717.0 680.1,1705.0 675.0,1692.0 671.4,1685.0 664.0,1673.0 655.3,1657.0 653.0,1653.6 646.6,1647.0 644.5,1644.0 627.0,1626.6 623.5,1624.0 620.2,1620.0 617.0,1618.2 605.0,1609.8 590.0,1600.8 577.4,1594.0 569.0,1591.2 561.0,1587.9 552.0,1586.5 528.0,1581.7 520.0,1581.5 516.0,1580.6 492.0,1580.7 488.0,1581.6 477.0,1581.7 474.0,1582.5 462.0,1583.9 448.0,1587.9 435.6,1592.0 427.0,1596.2 424.6,1597.0 414.0,1602.9 400.7,1613.0 394.0,1619.5 391.0,1621.6 380.6,1632.0 373.0,1641.6 371.1,1645.0 366.0,1651.6 360.7,1660.0 354.0,1673.2 347.7,1687.0 341.6,1705.0 338.3,1721.0 337.1,1734.0 336.3,1737.0 336.0,1749.0 335.2,1753.0 335.1,1781.0 337.1,1791.0 339.3,1799.0 341.5,1804.0 347.0,1812.0 348.5,1815.0 354.0,1818.6 357.8,1820.0 361.0,1821.8 365.9,1823.0 379.0,1827.8 384.2,1829.0 390.0,1831.3 397.1,1833.0 405.0,1835.8 416.0,1838.2 417.0,1838.8 419.0,1839.0 441.0,1846.0 444.0,1846.1 445.0,1846.9 447.1,1847.0 452.0,1848.9 455.1,1849.0 457.0,1849.9 460.1,1850.0 462.0,1850.9 465.1,1851.0 467.0,1851.9 469.1,1852.0 471.0,1852.9 474.1,1853.0 476.0,1853.9 478.1,1854.0 484.0,1855.9 488.0,1856.1 489.0,1856.9 493.0,1857.1 494.0,1857.9 498.0,1858.0 500.0,1859.0 502.0,1859.0 504.0,1859.8 518.0,1862.5 528.0,1865.0 540.0,1869.0 549.0,1873.0 551.0,1874.2 552.8,1884.0 557.9,1899.0 560.6,1909.0 566.2,1917.0 574.0,1924.8 583.0,1931.6 586.0,1933.6 590.0,1935.3 598.0,1940.7 614.0,1947.6 629.0,1951.8 636.0,1951.7 638.5,1951.0Z" fill="#eeeeff"/>
<path d="M637.1,1946.0 645.0,1943.3 657.0,1937.5 676.0,1926.2 688.0,1917.8 696.0,1913.5 702.0,1911.5 718.0,1907.9 728.0,1906.5 762.0,1903.7 780.0,1903.6 791.0,1902.1 900.0,1907.8 1025.0,1921.4 1080.0,1924.2 1141.0,1925.1 1280.0,1922.2 1419.0,1921.5 1419.0,1830.2 1280.0,1831.3 1141.0,1833.1 1100.0,1832.4 1026.0,1833.6 965.0,1832.3 900.0,1830.0 793.0,1829.7 780.0,1829.0 771.0,1827.6 764.0,1825.9 751.0,1821.5 733.0,1813.2 722.0,1806.6 714.9,1800.0 709.8,1793.0 705.4,1785.0 697.4,1766.0 688.0,1741.1 677.4,1715.0 667.8,1695.0 658.0,1679.0 646.0,1662.5 633.0,1649.0 624.0,1641.2 615.0,1634.3 606.0,1628.2 597.0,1622.9 585.0,1616.7 574.0,1611.9 563.0,1607.9 552.0,1604.7 539.0,1602.0 526.0,1600.0 514.0,1599.1 501.0,1598.9 488.0,1599.5 475.0,1600.9 463.0,1603.1 451.0,1606.2 440.0,1610.0 429.0,1614.8 419.0,1620.3 410.0,1626.2 400.0,1633.9 391.0,1642.1 382.7,1651.0 374.0,1661.9 367.0,1672.0 360.0,1683.9 354.5,1695.0 349.6,1707.0 346.0,1718.9 343.1,1732.0 341.6,1742.0 339.8,1760.0 339.2,1790.0 340.4,1797.0 341.6,1801.0 342.6,1804.0 345.4,1809.0 348.0,1811.9 349.0,1814.0 354.0,1817.6 357.9,1819.0 362.0,1821.6 365.0,1822.0 371.0,1824.0 380.0,1827.6 384.0,1828.0 390.0,1830.6 393.0,1830.8 395.0,1831.6 398.0,1832.0 405.0,1834.6 408.0,1835.0 409.0,1835.6 412.0,1835.8 414.0,1836.6 417.0,1837.0 418.0,1837.6 421.0,1838.0 425.0,1839.6 427.0,1839.8 429.0,1840.6 432.0,1841.0 433.0,1841.6 436.0,1842.0 437.0,1842.6 440.0,1843.0 441.0,1843.6 444.0,1843.8 446.0,1844.6 449.0,1845.0 453.0,1846.6 456.0,1846.8 458.0,1847.6 466.0,1848.8 468.0,1849.6 471.0,1850.0 472.0,1850.6 475.0,1850.8 477.0,1851.6 480.0,1852.0 481.0,1852.6 484.0,1853.0 485.0,1853.6 488.0,1853.8 490.0,1854.6 498.0,1855.8 500.0,1856.6 503.0,1857.0 507.0,1858.6 510.0,1858.8 512.0,1859.6 515.0,1859.8 517.0,1860.6 520.0,1861.0 521.0,1861.6 524.0,1862.0 531.0,1864.6 534.0,1865.0 540.0,1867.0 543.0,1868.6 550.0,1871.0 556.0,1874.7 558.6,1875.0 560.0,1875.9 562.1,1876.0 563.6,1877.0 564.1,1878.0 563.3,1884.0 563.5,1890.0 564.8,1897.0 567.0,1904.0 571.8,1913.0 575.7,1918.0 579.5,1922.0 586.6,1928.0 596.0,1934.2 602.0,1937.7 610.0,1941.2 617.0,1943.8 626.0,1946.0 632.0,1946.6 637.1,1946.0Z" fill="#d9d9ff"/>
<path d="M632.9,1942.0 642.0,1940.3 654.0,1935.5 672.0,1925.5 689.0,1914.8 695.0,1911.8 702.0,1909.3 717.0,1905.7 729.0,1903.7 764.0,1899.2 787.0,1897.7 900.0,1903.4 1025.0,1917.5 1080.0,1920.5 1141.0,1921.1 1280.0,1917.7 1419.0,1917.3 1419.0,1835.2 1142.0,1837.6 1100.0,1836.8 1026.0,1837.8 965.0,1836.8 900.0,1834.2 786.0,1833.6 774.0,1832.5 763.0,1829.7 752.0,1825.3 723.0,1810.5 717.7,1807.0 712.2,1802.0 707.0,1795.3 702.7,1788.0 678.0,1731.2 664.3,1704.0 654.3,1688.0 642.0,1672.8 629.0,1660.3 612.0,1647.8 595.0,1637.9 584.0,1632.8 572.0,1628.1 558.0,1623.7 545.0,1620.3 533.0,1618.1 522.0,1616.7 510.0,1616.1 497.0,1616.2 484.0,1617.2 471.0,1619.0 458.0,1621.7 447.0,1624.9 436.0,1629.0 426.0,1633.9 417.0,1639.2 407.0,1646.2 398.8,1653.0 390.5,1661.0 382.0,1670.5 373.6,1681.0 367.5,1690.0 361.7,1700.0 357.0,1709.7 352.9,1720.0 348.6,1734.0 345.8,1749.0 344.6,1758.0 343.3,1779.0 341.1,1790.0 341.9,1798.0 343.2,1804.0 345.2,1808.0 348.5,1812.0 349.4,1814.0 354.0,1817.2 358.0,1818.7 362.0,1821.1 371.0,1823.7 380.0,1827.1 384.0,1827.7 390.0,1830.1 397.0,1831.4 405.0,1834.2 420.0,1837.4 425.0,1839.2 441.0,1843.2 448.0,1844.4 453.0,1846.2 466.0,1848.4 485.0,1853.2 498.0,1855.4 507.0,1858.2 515.0,1859.4 523.0,1861.4 540.0,1866.7 550.7,1871.0 556.0,1874.2 563.0,1875.9 569.2,1878.0 572.3,1880.0 570.9,1884.0 570.8,1890.0 571.8,1897.0 573.6,1903.0 578.2,1912.0 584.7,1920.0 590.0,1924.8 595.6,1929.0 602.0,1933.1 608.0,1936.1 615.0,1938.9 621.0,1940.7 627.0,1941.8 632.9,1942.0Z" fill="#c7c7ff"/>
<path d="M633.5,1938.0 642.0,1936.6 653.0,1932.6 667.0,1925.3 688.0,1912.8 695.0,1909.4 701.0,1907.3 714.0,1903.9 725.0,1901.6 766.0,1894.2 781.0,1892.7 900.0,1898.6 964.0,1905.8 1026.0,1913.5 1080.0,1916.5 1141.0,1916.9 1280.0,1912.8 1419.0,1912.7 1419.0,1840.5 1280.0,1842.1 1141.0,1842.4 1100.0,1841.4 1026.0,1842.2 965.0,1841.6 900.0,1838.8 784.0,1838.1 776.0,1837.4 765.0,1834.6 753.0,1829.8 749.0,1827.5 745.9,1825.0 738.9,1821.0 734.0,1818.6 729.0,1816.9 717.0,1810.8 712.0,1807.0 709.0,1804.0 703.3,1797.0 699.2,1790.0 686.2,1762.0 683.0,1753.8 673.5,1735.0 669.2,1728.0 658.5,1708.0 648.0,1692.4 636.0,1679.3 628.0,1673.0 622.0,1667.5 613.0,1662.7 601.0,1655.3 593.0,1651.3 581.0,1646.3 572.0,1643.3 535.0,1634.1 523.0,1632.1 495.0,1632.1 492.0,1632.8 486.0,1633.1 483.0,1633.8 477.0,1634.1 474.0,1634.8 470.0,1635.1 463.0,1636.8 454.0,1638.1 446.0,1640.4 439.0,1643.6 436.0,1644.4 424.0,1650.4 418.0,1654.7 413.0,1657.4 403.0,1665.1 384.0,1684.0 375.4,1694.0 364.2,1712.0 359.3,1722.0 357.6,1727.0 354.4,1734.0 351.8,1746.0 350.3,1751.0 349.0,1758.0 348.6,1769.0 347.7,1773.0 347.0,1783.5 343.7,1787.0 342.8,1791.0 343.1,1800.0 343.7,1804.0 345.5,1808.0 348.8,1812.0 349.7,1814.0 354.0,1816.9 358.0,1818.4 362.0,1820.9 364.0,1821.0 373.0,1824.0 380.0,1826.9 383.0,1827.0 390.0,1829.9 393.0,1830.1 395.0,1830.9 397.0,1831.0 405.0,1833.9 420.0,1837.0 425.0,1838.9 427.0,1839.0 441.0,1842.9 444.0,1843.1 446.0,1843.9 448.0,1844.0 453.0,1845.9 456.0,1846.1 458.0,1846.9 466.0,1848.1 472.0,1849.9 475.0,1850.1 481.0,1851.9 483.0,1852.0 485.0,1852.9 493.0,1854.1 495.0,1854.9 498.0,1855.1 507.0,1857.9 510.0,1858.1 512.0,1858.9 515.0,1859.1 521.0,1860.9 523.0,1861.0 531.0,1863.9 533.0,1864.0 539.0,1866.0 551.3,1871.0 556.0,1873.9 567.0,1876.7 573.0,1878.9 574.0,1879.7 575.7,1880.0 576.9,1881.0 577.2,1893.0 578.1,1898.0 579.6,1903.0 583.7,1911.0 590.1,1919.0 594.4,1923.0 600.0,1927.3 611.0,1933.4 617.0,1935.6 623.0,1937.2 628.0,1937.9 633.5,1938.0Z" fill="#b5b5ff"/>
<path d="M637.7,1934.0 646.0,1932.0 655.0,1928.4 666.0,1922.8 687.0,1910.7 700.0,1905.3 715.0,1901.1 743.0,1895.1 767.0,1888.9 774.0,1887.5 780.0,1887.0 900.0,1893.3 965.0,1900.7 1026.0,1909.0 1080.0,1912.2 1141.0,1912.4 1200.0,1910.0 1280.0,1907.5 1419.0,1907.8 1419.0,1846.3 1280.0,1848.3 1141.0,1847.5 1099.0,1846.3 1026.0,1847.0 966.0,1847.0 900.0,1843.9 810.0,1842.8 793.0,1842.7 783.0,1843.2 778.0,1842.9 767.0,1840.0 752.0,1833.8 737.0,1825.4 719.0,1816.6 713.3,1813.0 708.4,1809.0 702.0,1802.0 697.0,1795.0 692.5,1787.0 676.0,1755.0 669.0,1742.7 652.0,1716.3 641.0,1702.0 628.0,1688.7 614.0,1677.6 605.1,1672.0 596.0,1667.0 578.0,1659.0 565.0,1654.7 549.0,1650.4 535.0,1647.4 523.0,1645.7 511.0,1645.0 498.0,1645.2 484.0,1646.5 471.0,1648.5 459.0,1651.1 448.0,1654.4 437.0,1658.8 427.0,1663.8 417.0,1669.7 407.0,1676.8 396.0,1685.9 387.0,1694.6 377.0,1706.4 367.4,1721.0 359.9,1736.0 354.0,1752.6 352.2,1759.0 350.4,1770.0 348.8,1776.0 348.0,1786.2 345.0,1788.0 344.3,1791.0 343.8,1801.0 344.4,1805.0 345.8,1808.0 349.0,1811.8 350.1,1814.0 354.0,1816.7 358.0,1818.2 362.0,1820.7 364.6,1821.0 370.7,1823.0 380.0,1826.7 383.6,1827.0 390.0,1829.7 393.0,1829.9 395.0,1830.7 397.6,1831.0 405.0,1833.7 407.6,1834.0 409.0,1834.7 412.0,1834.9 418.0,1836.7 420.6,1837.0 425.0,1838.7 439.6,1842.0 441.0,1842.7 444.0,1842.9 446.0,1843.7 448.6,1844.0 453.0,1845.7 456.0,1845.9 458.0,1846.7 466.0,1847.9 472.0,1849.7 475.0,1849.9 481.0,1851.7 483.6,1852.0 485.0,1852.7 488.0,1852.9 490.0,1853.7 498.0,1854.9 507.0,1857.7 510.0,1857.9 512.0,1858.7 515.0,1858.9 521.0,1860.7 523.6,1861.0 531.0,1863.7 533.6,1864.0 539.6,1866.0 543.0,1867.7 550.0,1870.1 556.0,1873.7 566.0,1876.0 574.0,1879.1 581.5,1881.0 582.8,1882.0 583.0,1883.0 582.3,1888.0 582.5,1893.0 583.3,1898.0 584.9,1903.0 587.2,1908.0 589.8,1912.0 596.0,1919.2 605.0,1926.1 610.1,1929.0 616.0,1931.6 622.0,1933.3 627.0,1934.2 632.0,1934.5 637.7,1934.0Z" fill="#a0a0ff"/>
<path d="M635.6,1931.0 644.0,1929.4 654.0,1925.8 664.0,1920.8 685.3,1909.0 698.0,1903.5 712.0,1899.3 743.0,1891.6 772.0,1881.7 780.0,1880.3 796.7,1882.0 900.0,1887.2 965.0,1894.7 1026.0,1904.0 1080.0,1907.6 1141.0,1907.4 1200.0,1904.5 1280.0,1901.5 1419.0,1902.2 1419.0,1852.8 1280.0,1855.2 1142.0,1853.2 1100.0,1851.7 1081.0,1851.5 965.0,1853.0 899.0,1849.7 796.0,1848.2 783.0,1849.3 779.0,1849.1 775.0,1848.2 770.0,1846.4 748.0,1836.5 719.0,1821.8 712.0,1817.4 707.5,1814.0 700.5,1807.0 694.3,1799.0 687.9,1789.0 672.5,1762.0 666.0,1751.6 651.0,1730.2 643.0,1719.9 637.0,1713.0 621.6,1698.0 614.4,1692.0 607.0,1686.7 599.0,1681.7 590.0,1676.9 573.0,1669.8 559.0,1665.3 545.0,1661.7 532.0,1659.1 520.0,1657.6 508.0,1657.1 494.0,1657.6 483.0,1658.8 470.0,1661.1 458.0,1664.2 446.0,1668.2 435.0,1673.0 423.0,1679.3 412.0,1686.0 401.0,1694.0 392.0,1701.7 384.0,1709.8 373.0,1724.0 364.0,1739.7 357.0,1754.7 350.0,1775.1 348.9,1780.0 348.0,1788.7 346.3,1789.0 345.9,1790.0 345.8,1796.0 344.6,1800.0 344.4,1803.0 344.6,1805.0 346.0,1808.0 349.0,1811.3 350.3,1814.0 354.0,1816.5 358.0,1817.9 362.0,1820.5 365.0,1820.9 371.0,1822.9 380.0,1826.5 384.0,1826.9 390.0,1829.5 393.0,1829.7 398.0,1830.9 405.0,1833.5 421.0,1836.9 425.0,1838.5 440.0,1841.9 441.0,1842.5 444.0,1842.7 449.0,1843.9 453.0,1845.5 456.0,1845.7 464.0,1847.7 466.0,1847.7 472.0,1849.5 475.0,1849.7 481.0,1851.5 484.0,1851.9 485.0,1852.5 488.0,1852.7 496.0,1854.7 498.0,1854.7 503.0,1855.9 507.0,1857.5 515.0,1858.7 521.0,1860.5 524.0,1860.9 531.0,1863.5 534.0,1863.9 540.0,1865.9 543.0,1867.5 550.0,1869.9 556.0,1873.5 566.8,1876.0 574.0,1878.8 577.0,1879.2 582.0,1880.7 587.2,1883.0 587.7,1884.0 587.0,1888.0 587.1,1893.0 587.7,1897.0 589.1,1902.0 593.2,1910.0 596.2,1914.0 600.0,1917.9 608.0,1924.0 617.0,1928.4 626.0,1930.7 635.6,1931.0Z" fill="#8a8aff"/>
<path d="M635.4,1928.0 644.0,1926.4 653.0,1923.2 663.0,1918.4 684.0,1907.0 696.0,1901.8 710.0,1897.3 736.0,1890.3 747.0,1886.5 761.3,1880.0 777.0,1871.4 780.0,1870.4 783.0,1870.6 790.0,1873.3 795.0,1874.2 901.0,1879.7 965.0,1887.4 999.5,1894.0 1027.0,1898.5 1080.0,1902.4 1139.0,1901.7 1200.0,1898.1 1280.0,1894.1 1419.0,1895.7 1419.0,1860.4 1280.0,1863.7 1141.0,1859.7 1100.0,1857.7 1080.0,1857.3 1004.0,1858.8 965.0,1860.4 900.0,1857.0 796.0,1855.2 791.0,1855.5 783.0,1858.5 780.0,1858.6 776.0,1856.9 760.2,1847.0 752.0,1842.9 744.0,1839.6 736.0,1835.1 717.3,1826.0 707.0,1819.6 696.4,1809.0 691.0,1802.5 682.6,1790.0 667.9,1766.0 661.9,1757.0 657.0,1751.5 654.2,1747.0 650.0,1742.5 647.1,1738.0 639.0,1729.5 635.0,1723.9 614.0,1704.9 604.0,1697.2 596.0,1692.2 580.0,1684.2 573.0,1681.3 540.0,1672.1 523.0,1669.1 516.0,1668.9 513.0,1668.2 510.0,1668.2 506.0,1668.9 489.0,1669.1 477.0,1671.9 468.0,1673.3 461.0,1675.3 455.0,1677.6 448.0,1679.3 421.0,1692.2 414.0,1696.6 407.0,1700.3 393.0,1711.1 379.0,1726.1 375.3,1731.0 362.2,1752.0 357.2,1762.0 350.5,1777.0 349.4,1781.0 348.9,1787.0 348.0,1790.4 347.0,1792.0 347.0,1797.0 345.3,1800.0 344.8,1804.0 346.3,1808.0 349.1,1811.0 349.7,1813.0 350.6,1814.0 354.0,1816.3 358.0,1817.7 362.0,1820.3 365.0,1820.7 371.0,1822.7 380.0,1826.3 384.0,1826.7 390.0,1829.3 393.0,1829.5 398.0,1830.7 405.0,1833.3 421.0,1836.7 425.0,1838.3 440.0,1841.7 441.0,1842.3 444.0,1842.5 449.0,1843.7 453.0,1845.3 467.0,1847.7 468.0,1848.3 473.0,1849.5 476.0,1849.7 485.0,1852.3 499.0,1854.7 507.0,1857.3 516.0,1858.7 521.0,1860.3 524.0,1860.7 531.0,1863.3 534.0,1863.7 540.0,1865.7 543.0,1867.3 550.0,1869.7 556.0,1873.3 567.0,1875.8 574.0,1878.6 577.0,1878.9 583.8,1881.0 590.7,1884.0 591.4,1885.0 591.0,1888.0 591.1,1893.0 591.7,1897.0 593.2,1902.0 597.0,1909.1 603.0,1916.1 610.0,1921.5 618.0,1925.5 627.0,1927.8 635.4,1928.0Z" fill="#7878ff"/>
<path d="M637.3,1925.0 645.0,1923.3 653.0,1920.3 682.0,1905.3 694.0,1900.0 707.0,1895.6 734.0,1887.8 745.0,1883.4 753.3,1879.0 765.0,1871.6 767.6,1869.0 768.7,1867.0 769.2,1863.0 768.2,1860.0 766.0,1857.0 759.0,1851.4 752.0,1847.3 740.7,1842.0 727.0,1833.4 707.0,1822.6 703.0,1819.4 695.0,1811.0 689.2,1804.0 663.6,1766.0 657.5,1758.0 643.0,1740.7 627.0,1724.3 612.0,1712.2 602.0,1705.4 589.0,1698.4 572.0,1691.6 551.0,1685.3 532.0,1681.1 518.0,1679.4 503.0,1679.2 488.0,1680.4 472.0,1683.2 453.0,1688.3 436.0,1694.8 420.0,1702.3 404.0,1711.8 394.0,1719.4 382.0,1731.1 373.0,1742.5 363.0,1756.8 351.4,1778.0 350.3,1781.0 349.1,1788.0 347.8,1792.0 347.7,1797.0 346.0,1800.0 345.3,1803.0 345.2,1805.0 346.5,1808.0 349.3,1811.0 350.0,1813.1 354.0,1816.1 358.0,1817.5 362.0,1820.1 365.0,1820.5 371.0,1822.5 380.0,1826.1 384.0,1826.5 390.0,1829.1 398.0,1830.5 405.0,1833.1 421.0,1836.5 425.0,1838.1 440.0,1841.5 441.0,1842.1 449.0,1843.5 453.0,1845.1 462.0,1846.5 464.0,1847.3 467.0,1847.5 468.0,1848.1 473.0,1849.3 476.0,1849.5 485.0,1852.1 494.0,1853.5 496.0,1854.3 499.0,1854.5 507.0,1857.1 516.0,1858.5 521.0,1860.1 524.0,1860.5 531.0,1863.1 534.0,1863.5 540.0,1865.5 548.0,1869.1 550.0,1869.5 556.0,1873.1 567.0,1875.6 574.0,1878.3 582.0,1879.9 587.5,1882.0 593.6,1885.0 594.4,1886.0 594.9,1895.0 596.9,1902.0 600.9,1909.0 607.0,1915.5 614.0,1920.4 621.0,1923.5 629.0,1925.1 637.3,1925.0ZM1094.0,1896.0 1142.0,1894.7 1245.4,1886.0 1280.0,1882.1 1332.0,1884.7 1419.0,1886.9 1419.0,1870.8 1403.8,1871.0 1332.4,1874.0 1280.0,1877.6 1257.1,1875.0 1230.9,1873.0 1101.4,1865.0 1080.0,1864.1 1026.0,1865.6 1001.0,1867.2 976.0,1870.3 968.8,1872.0 966.4,1873.0 965.4,1874.0 966.2,1875.0 969.7,1877.0 984.4,1882.0 1004.2,1887.0 1026.0,1891.6 1079.0,1896.2 1094.0,1896.0Z" fill="#6666ff"/>
<path d="M639.6,1922.0 646.0,1920.3 654.0,1917.0 679.0,1904.0 691.0,1898.6 705.0,1893.6 731.0,1885.7 740.0,1882.2 747.0,1878.3 757.0,1870.9 763.0,1867.4 764.3,1866.0 764.7,1864.0 763.9,1862.0 762.0,1859.4 755.6,1854.0 750.0,1850.6 737.0,1844.1 728.9,1837.0 724.0,1833.7 712.0,1827.0 705.0,1824.2 702.0,1822.0 688.7,1807.0 661.0,1767.8 651.0,1755.9 640.0,1743.9 631.0,1734.9 621.0,1726.2 609.0,1717.7 598.0,1711.3 584.0,1705.2 562.0,1698.2 540.0,1692.4 523.0,1689.4 508.0,1688.8 493.0,1689.8 477.0,1692.2 459.0,1696.2 444.0,1700.9 426.0,1708.0 410.0,1716.2 399.0,1723.4 387.0,1733.4 377.0,1743.6 365.5,1758.0 354.2,1775.0 350.7,1783.0 348.4,1792.0 348.0,1798.0 346.3,1801.0 345.5,1805.0 346.7,1808.0 349.5,1811.0 350.2,1813.0 354.2,1816.0 358.0,1817.3 362.0,1819.9 365.0,1820.3 374.0,1823.3 377.4,1825.0 381.0,1826.1 384.0,1826.3 390.4,1829.0 394.0,1829.3 395.4,1830.0 398.0,1830.3 405.4,1833.0 408.0,1833.3 410.0,1834.1 413.0,1834.3 437.4,1841.0 449.0,1843.3 454.0,1845.1 457.0,1845.3 458.4,1846.0 462.0,1846.3 464.0,1847.1 467.0,1847.3 468.4,1848.0 471.0,1848.3 473.0,1849.1 476.0,1849.3 486.0,1852.1 489.0,1852.3 490.4,1853.0 494.0,1853.3 496.0,1854.1 499.0,1854.3 507.4,1857.0 511.0,1857.3 513.0,1858.1 516.0,1858.3 517.4,1859.0 524.0,1860.3 531.4,1863.0 534.0,1863.3 540.0,1865.3 543.4,1867.0 550.0,1869.3 556.3,1873.0 567.0,1875.4 574.0,1878.1 582.0,1879.7 588.0,1881.8 597.9,1886.0 598.2,1895.0 600.2,1902.0 604.6,1909.0 610.9,1915.0 618.0,1919.4 625.0,1921.8 632.0,1922.7 639.6,1922.0ZM1097.1,1887.0 1129.0,1884.3 1137.3,1883.0 1139.6,1882.0 1138.3,1881.0 1134.6,1880.0 1123.1,1878.0 1100.0,1875.1 1080.0,1873.3 1042.7,1876.0 1031.0,1877.6 1027.3,1879.0 1028.8,1880.0 1032.4,1881.0 1043.0,1883.0 1079.0,1887.8 1097.1,1887.0Z" fill="#5252ff"/>
<path d="M636.6,1920.0 643.0,1918.7 651.0,1915.5 678.0,1901.7 690.0,1896.4 705.0,1891.0 730.0,1883.0 738.0,1879.8 744.0,1876.2 748.8,1872.0 755.7,1863.0 756.5,1861.0 755.1,1859.0 749.0,1854.4 732.6,1846.0 731.6,1845.0 729.0,1840.0 724.0,1835.7 712.0,1828.8 708.0,1827.2 705.0,1827.2 701.9,1825.0 687.0,1808.4 682.8,1802.0 676.4,1794.0 674.7,1791.0 659.6,1771.0 652.0,1763.0 649.0,1759.1 631.0,1741.2 623.7,1735.0 618.0,1730.5 601.0,1720.4 595.0,1717.4 584.0,1713.4 561.0,1707.6 546.0,1703.3 523.0,1698.2 504.0,1698.0 500.0,1698.8 493.0,1699.1 459.0,1705.2 449.0,1708.2 440.0,1711.5 430.0,1714.2 407.0,1725.2 398.0,1731.2 383.0,1742.9 377.0,1748.9 363.8,1764.0 356.2,1774.0 354.0,1778.0 350.5,1786.0 348.9,1792.0 348.4,1798.0 346.5,1802.0 345.7,1805.0 347.0,1808.0 349.8,1811.0 350.5,1813.0 354.7,1816.0 358.0,1817.1 362.0,1819.6 365.0,1820.1 374.0,1823.1 378.0,1825.0 381.0,1826.0 384.0,1826.1 391.0,1828.9 394.0,1829.1 396.0,1830.0 398.0,1830.1 406.0,1833.0 408.0,1833.1 410.0,1833.9 413.0,1834.1 438.0,1841.0 449.0,1843.1 454.0,1844.9 457.0,1845.1 459.0,1845.9 467.0,1847.1 469.0,1848.0 471.0,1848.1 473.0,1848.9 476.0,1849.1 486.0,1851.9 489.0,1852.1 491.0,1852.9 499.0,1854.1 508.0,1856.9 511.0,1857.1 513.0,1857.9 516.0,1858.1 522.0,1860.0 524.0,1860.1 532.0,1863.0 534.0,1863.1 540.0,1865.1 551.0,1869.6 557.0,1873.0 567.0,1875.2 575.0,1878.1 578.0,1878.3 579.3,1879.0 582.0,1879.4 595.0,1884.5 598.1,1885.0 600.6,1887.0 601.1,1895.0 602.8,1901.0 605.7,1906.0 610.3,1911.0 617.0,1915.9 623.0,1918.7 630.0,1920.1 636.6,1920.0Z" fill="#3d3dff"/>
<path d="M640.4,1917.0 645.0,1915.4 655.0,1910.9 676.0,1899.8 686.0,1895.3 696.0,1891.5 730.0,1880.1 737.0,1877.1 741.8,1874.0 745.7,1870.0 748.1,1865.0 748.1,1861.0 746.8,1858.0 744.2,1855.0 738.0,1850.4 732.0,1847.0 728.3,1843.0 727.0,1840.4 724.3,1838.0 711.1,1830.0 708.0,1828.8 705.0,1828.6 700.5,1825.0 685.8,1809.0 681.0,1802.5 659.0,1775.6 642.0,1758.8 630.0,1748.6 619.0,1740.4 609.0,1734.1 598.0,1728.2 585.0,1722.9 571.0,1718.7 541.0,1711.0 520.0,1707.2 507.0,1706.6 493.0,1707.2 477.0,1709.2 457.0,1712.7 436.0,1718.4 427.0,1721.5 409.0,1729.5 396.0,1737.4 384.0,1746.2 370.0,1759.5 364.8,1765.0 357.5,1774.0 353.1,1782.0 350.0,1789.5 348.7,1798.0 346.0,1805.1 347.0,1807.5 350.0,1811.0 351.0,1813.3 355.3,1816.0 358.0,1816.9 361.3,1819.0 374.0,1822.9 380.0,1825.3 384.0,1825.9 390.0,1828.3 398.0,1829.8 406.0,1832.6 417.0,1834.8 438.0,1840.6 449.0,1842.8 454.0,1844.6 467.0,1846.8 486.0,1851.6 499.0,1853.8 508.0,1856.6 516.0,1857.8 524.0,1859.8 540.0,1864.8 551.0,1869.3 556.0,1872.3 567.0,1875.0 575.0,1877.8 582.0,1879.1 595.0,1884.1 599.0,1884.7 603.3,1888.0 603.8,1896.0 606.1,1902.0 609.8,1907.0 614.2,1911.0 620.2,1915.0 626.0,1917.2 633.0,1918.0 640.4,1917.0Z" fill="#2b2bff"/>
<path d="M639.5,1915.0 642.0,1914.3 654.0,1908.7 667.0,1901.5 683.0,1893.8 693.0,1889.9 725.0,1879.0 736.0,1874.8 741.0,1870.9 743.4,1868.0 744.5,1865.0 744.4,1861.0 742.5,1857.0 739.4,1853.0 728.0,1844.5 726.0,1841.6 723.0,1839.0 713.0,1832.6 707.6,1830.0 705.0,1829.5 700.0,1825.5 684.4,1809.0 659.0,1780.0 645.0,1767.2 631.0,1756.5 620.0,1749.2 610.0,1743.1 598.0,1736.8 584.0,1731.2 568.0,1726.2 540.0,1719.3 517.0,1715.3 505.0,1714.5 490.0,1714.9 466.0,1717.6 456.0,1719.2 441.0,1722.5 425.0,1727.5 409.0,1734.3 394.0,1742.7 383.0,1750.7 366.5,1765.0 358.0,1774.9 354.0,1782.0 350.0,1791.8 349.2,1798.0 346.8,1804.0 346.7,1806.0 347.8,1808.0 350.5,1811.0 351.2,1813.0 356.0,1816.0 358.0,1816.4 361.9,1819.0 365.0,1819.4 374.0,1822.4 380.0,1825.0 384.0,1825.4 390.0,1828.0 394.0,1828.4 395.0,1829.0 398.0,1829.4 405.0,1832.0 408.0,1832.4 410.0,1833.2 413.0,1833.4 418.0,1835.0 421.0,1835.4 425.0,1837.0 436.0,1839.4 441.0,1841.0 445.0,1841.4 446.0,1842.0 449.0,1842.4 453.0,1844.0 457.0,1844.4 459.0,1845.2 462.0,1845.4 464.0,1846.2 467.0,1846.4 472.0,1848.0 476.0,1848.4 477.0,1849.0 484.0,1850.4 485.0,1851.0 489.0,1851.4 491.0,1852.2 494.0,1852.4 496.0,1853.2 499.0,1853.4 500.0,1854.0 503.0,1854.4 507.0,1856.0 511.0,1856.4 512.0,1857.0 516.0,1857.4 517.0,1858.0 524.0,1859.4 531.0,1862.0 534.0,1862.4 540.0,1864.4 548.0,1868.0 550.0,1868.4 556.0,1872.0 567.0,1874.4 575.0,1877.3 578.0,1877.5 580.0,1878.4 582.0,1878.6 596.0,1883.8 599.0,1884.1 604.4,1887.0 605.8,1891.0 606.3,1897.0 607.5,1900.0 612.0,1906.0 618.0,1911.0 623.0,1914.0 629.0,1915.6 634.0,1915.9 639.5,1915.0Z" fill="#1a1aff"/>
<path d="M636.7,1913.0 641.0,1912.4 644.0,1910.2 650.0,1907.2 653.0,1906.5 665.0,1899.2 670.2,1897.0 677.0,1893.2 692.0,1887.2 698.0,1885.5 706.0,1882.2 712.0,1880.5 720.0,1877.2 723.0,1876.9 726.0,1875.2 735.0,1872.5 740.8,1867.0 741.8,1864.0 741.8,1862.0 739.0,1856.0 736.3,1852.0 722.0,1840.6 713.0,1834.7 704.0,1830.1 700.0,1826.9 666.7,1793.0 663.7,1789.0 655.0,1780.4 641.0,1769.3 627.0,1760.2 618.0,1755.5 611.0,1751.1 603.9,1748.0 599.0,1745.1 587.0,1740.1 584.0,1739.4 571.0,1734.8 556.0,1731.4 539.0,1726.8 535.0,1726.6 511.0,1721.8 486.0,1721.8 482.0,1722.7 477.0,1722.9 474.0,1723.7 464.0,1723.8 460.0,1724.7 456.0,1724.9 447.0,1726.8 444.0,1726.9 436.0,1729.6 432.0,1730.0 425.0,1732.2 418.0,1735.6 412.0,1737.3 394.0,1746.4 377.0,1758.6 367.7,1766.0 359.0,1775.8 355.0,1782.7 351.0,1791.8 350.0,1795.5 349.4,1801.0 347.4,1805.0 347.5,1806.0 348.0,1807.2 350.6,1810.0 352.0,1812.2 361.6,1818.0 374.0,1821.8 381.0,1824.5 384.0,1824.8 391.0,1827.2 398.0,1828.3 410.0,1831.9 413.0,1832.1 415.0,1832.9 418.0,1833.2 419.0,1833.8 422.0,1834.1 431.0,1836.5 440.0,1838.2 442.0,1839.0 445.0,1839.0 447.0,1840.0 450.0,1840.1 451.0,1840.9 453.0,1841.1 455.0,1842.0 458.0,1842.0 460.0,1843.0 463.0,1843.1 465.0,1844.0 468.0,1844.1 469.9,1845.0 472.0,1845.1 474.0,1846.0 477.0,1846.1 478.9,1847.0 481.0,1847.1 486.9,1849.0 490.0,1849.1 491.0,1849.9 494.0,1850.0 496.0,1851.0 499.0,1851.2 508.0,1854.0 510.0,1854.2 525.0,1858.0 541.0,1863.0 552.0,1867.1 557.9,1870.0 560.0,1870.1 561.0,1870.9 567.0,1872.2 574.6,1875.0 585.0,1878.1 594.9,1882.0 600.0,1883.4 605.3,1886.0 608.7,1890.0 609.0,1893.0 608.3,1896.0 609.6,1899.0 614.0,1904.6 620.0,1909.5 626.0,1912.8 632.0,1913.8 636.7,1913.0Z" fill="#0000ff"/>
</g>
<path d="M641.3,1892.5 L641.2,1892.5 L640.9,1892.3 L640.3,1892.1 L639.5,1891.8 L638.5,1891.3 L637.3,1890.8 L635.9,1890.2 L634.2,1889.5 L632.4,1888.8 L630.3,1887.9 L628.0,1887.0 L625.6,1885.9 L622.9,1884.8 L620.0,1883.7 L617.0,1882.4 L613.7,1881.1 L610.3,1879.7 L606.7,1878.3 L602.9,1876.8 L599.0,1875.2 L594.9,1873.6 L590.6,1871.9 L586.3,1870.2 L581.7,1868.4 L577.1,1866.6 L572.3,1864.8 L567.4,1862.9 L562.3,1861.0 L557.2,1859.1 L552.0,1857.1 L546.7,1855.2 L541.3,1853.2 L535.9,1851.2 L530.3,1849.2 L524.8,1847.2 L519.2,1845.2 L513.5,1843.2 L507.8,1841.3 L502.1,1839.3 L496.4,1837.4 L490.7,1835.5 L485.0,1833.6 L479.3,1831.8 L473.7,1830.0 L468.0,1828.2 L462.4,1826.5 L456.9,1824.9 L451.4,1823.3 L446.0,1821.7 L440.6,1820.2 L435.4,1818.8 L430.2,1817.5 L425.1,1816.2 L420.2,1815.0 L415.3,1813.9 L410.6,1812.8 L406.0,1811.9 L401.5,1811.0 L397.2,1810.2 L393.0,1809.5 L389.0,1808.9 L385.1,1808.3 L381.5,1807.9 L377.9,1807.5 L374.6,1807.3 L371.5,1807.1 L368.5,1807.0 L365.8,1807.0 L363.2,1807.1 L360.9,1807.2 L358.7,1807.5 L356.8,1807.8 L355.1,1808.3 L353.6,1808.8 L352.3,1809.3 L351.3,1810.0 L350.5,1810.8 L349.9,1811.6 L349.5,1812.5 L349.4,1813.5 L349.5,1814.5 L349.8,1815.6 L350.3,1816.7 L351.1,1817.8 L352.2,1819.0 L353.4,1820.2 L354.9,1821.5 L356.6,1822.8 L358.5,1824.2 L360.7,1825.5 L363.1,1826.9 L365.7,1828.4 L368.4,1829.8 L371.4,1831.3 L374.6,1832.8 L378.0,1834.3 L381.6,1835.8 L385.4,1837.3 L389.3,1838.8 L393.5,1840.3 L397.8,1841.8 L402.2,1843.4 L406.8,1844.9 L411.6,1846.4 L416.4,1847.9 L421.4,1849.4 L426.6,1850.9 L431.8,1852.3 L437.2,1853.8 L442.6,1855.2 L448.2,1856.6 L453.8,1858.0 L459.5,1859.4 L465.2,1860.8 L471.0,1862.1 L476.8,1863.4 L482.7,1864.7 L488.6,1866.0 L494.5,1867.3 L500.4,1868.5 L506.3,1869.7 L512.1,1870.9 L518.0,1872.0 L523.8,1873.2 L529.5,1874.3 L535.2,1875.3 L540.9,1876.4 L546.4,1877.4 L551.9,1878.4 L557.3,1879.3 L562.6,1880.2 L567.8,1881.1 L572.8,1882.0 L577.8,1882.8 L582.6,1883.6 L587.2,1884.4 L591.7,1885.1 L596.1,1885.8 L600.3,1886.5 L604.3,1887.1 L608.1,1887.7 L611.8,1888.2 L615.2,1888.8 L618.5,1889.3 L621.6,1889.7 L624.4,1890.1 L627.1,1890.5 L629.5,1890.9 L631.7,1891.2 L633.7,1891.5 L635.5,1891.7 L637.0,1891.9 L638.3,1892.1 L639.4,1892.2 L640.2,1892.4 L640.8,1892.4 L641.2,1892.5 L641.3,1892.5Z" fill="#fff" stroke="#000" stroke-width="2.6" stroke-linejoin="round"/>
<rect x="868.00" y="1457.0" width="5.70" height="82.2" fill="#0000ff"/><rect x="873.40" y="1457.0" width="10.85" height="82.2" fill="#1a1aff"/><rect x="883.95" y="1457.0" width="10.86" height="82.2" fill="#2b2bff"/><rect x="894.51" y="1457.0" width="10.86" height="82.2" fill="#3d3dff"/><rect x="905.07" y="1457.0" width="10.85" height="82.2" fill="#5252ff"/><rect x="915.62" y="1457.0" width="10.85" height="82.2" fill="#6666ff"/><rect x="926.17" y="1457.0" width="10.86" height="82.2" fill="#7878ff"/><rect x="936.73" y="1457.0" width="10.85" height="82.2" fill="#8a8aff"/><rect x="947.28" y="1457.0" width="10.86" height="82.2" fill="#a0a0ff"/><rect x="957.84" y="1457.0" width="10.85" height="82.2" fill="#b5b5ff"/><rect x="968.39" y="1457.0" width="10.86" height="82.2" fill="#c7c7ff"/><rect x="978.95" y="1457.0" width="10.85" height="82.2" fill="#d9d9ff"/><rect x="989.50" y="1457.0" width="10.85" height="82.2" fill="#eeeeff"/><rect x="1168.94" y="1457.0" width="10.85" height="82.2" fill="#fff8f8"/><rect x="1179.49" y="1457.0" width="10.86" height="82.2" fill="#ffcccc"/><rect x="1190.05" y="1457.0" width="10.86" height="82.2" fill="#ffa5a5"/><rect x="1200.61" y="1457.0" width="10.86" height="82.2" fill="#ff7f7f"/><rect x="1211.16" y="1457.0" width="10.85" height="82.2" fill="#ff5252"/><rect x="1221.71" y="1457.0" width="10.86" height="82.2" fill="#ff2a2a"/><rect x="1232.27" y="1457.0" width="68.63" height="82.2" fill="#ff0000"/><path d="M873.4,1457.0V1539.2" stroke="#000" stroke-width="1.3"/><path d="M979.0,1457.0V1539.2" stroke="#000" stroke-width="1.3"/><path d="M1084.5,1457.0V1539.2" stroke="#000" stroke-width="1.3"/><path d="M1295.6,1457.0V1539.2" stroke="#000" stroke-width="1.3"/><path d="M868.0,1539.2H1300.6" stroke="#000" stroke-width="1.3"/>
<text x="828.0" y="1605.6" font-size="56.7" textLength="88.0" lengthAdjust="spacingAndGlyphs">-0.2</text>
<text x="934.6" y="1605.6" font-size="56.7" textLength="85.8" lengthAdjust="spacingAndGlyphs">-0.1</text>
<text x="1070.7" y="1605.8" font-size="57.1" textLength="28.0" lengthAdjust="spacingAndGlyphs">0</text>
<text x="1154.2" y="1605.6" font-size="56.7" textLength="68.6" lengthAdjust="spacingAndGlyphs">0.1</text>
<text x="1260.7" y="1605.6" font-size="56.7" textLength="69.4" lengthAdjust="spacingAndGlyphs">0.2</text>
<clipPath id="clipe"><rect x="36" y="2653" width="1373" height="931.5"/></clipPath>
<g clip-path="url(#clipe)">
<clipPath id="rc15"><path d="M347.5,3090.2 L-2652.5,1620.2 L-2652.5,6090.2 L3347.5,6090.2 L3347.5,90.2 L347.5,90.2Z"/></clipPath><path clip-path="url(#rc15)" d="M345.0,3089.0 L340.4,3086.8 L337.7,3084.9 L336.1,3083.0 L334.7,3081.1 L332.4,3078.7 L328.4,3075.8 L322.4,3072.0 L315.3,3067.3 L307.3,3062.4 L298.9,3057.4 L290.5,3053.0 L282.5,3049.4 L275.1,3046.8 L268.1,3044.8 L261.0,3043.3 L253.6,3042.1 L245.6,3041.1 L236.6,3040.2 L226.4,3039.3 L215.3,3038.4 L203.6,3037.8 L191.5,3037.4 L179.4,3037.4 L167.7,3037.9 L156.1,3038.9 L144.5,3040.3 L132.9,3042.1 L121.3,3044.3 L110.0,3046.7 L98.9,3049.4 L87.8,3052.5 L76.4,3056.2 L65.3,3060.2 L54.7,3064.1 L45.1,3067.9 L36.9,3071.2 L30.1,3067.7 L24.3,3056.3 L19.6,3044.8 L15.7,3040.6 L12.5,3051.5 L10.0,3085.0 L4.0,3152.6 L-6.1,3250.5 L-15.4,3363.4 L-19.1,3476.1 L-12.3,3573.4 L10.0,3640.0 L55.6,3672.8 L122.1,3683.1 L199.2,3678.1 L276.5,3664.6 L343.5,3649.6 L390.0,3640.0 L413.3,3633.9 L421.1,3625.5 L418.8,3615.5 L411.4,3604.8 L404.3,3594.5 L402.6,3585.4 L405.5,3577.8 L408.7,3571.0 L412.2,3564.5 L415.8,3557.8 L419.4,3550.2 L423.1,3541.3 L426.9,3530.9 L430.9,3519.6 L435.0,3507.4 L439.1,3494.6 L443.0,3481.4 L446.6,3468.0 L450.0,3453.9 L453.3,3438.7 L456.5,3423.2 L459.4,3407.8 L462.0,3393.2 L464.2,3380.0 L465.9,3368.7 L467.1,3359.0 L468.0,3350.0 L468.7,3341.1 L469.3,3331.3 L470.0,3320.0 L470.8,3306.6 L471.5,3291.6 L472.2,3275.9 L472.8,3260.1 L473.3,3245.1 L473.5,3231.6 L473.5,3219.5 L473.4,3208.2 L473.1,3197.7 L472.6,3187.9 L472.1,3178.8 L471.4,3170.4 L471.3,3162.9 L471.8,3156.5 L472.1,3150.8 L471.6,3145.4 L469.5,3140.3 L465.0,3135.0 L457.4,3129.5 L447.3,3124.1 L435.5,3118.8 L423.1,3113.8 L410.9,3109.1 L400.0,3105.0 L389.8,3101.5 L379.5,3098.5 L369.5,3096.0 L360.1,3093.6 L351.8,3091.3Z" fill="#fff8f8"/><clipPath id="rc16"><path d="M347.5,3090.2 L-2652.5,1680.2 L-2652.5,6090.2 L3347.5,6090.2 L3347.5,90.2 L347.5,90.2Z"/></clipPath><path clip-path="url(#rc16)" d="M345.0,3089.0 L340.4,3087.2 L337.7,3085.8 L336.1,3084.5 L334.7,3083.2 L332.4,3081.5 L328.4,3079.2 L322.4,3075.9 L315.3,3071.9 L307.3,3067.5 L298.9,3063.1 L290.5,3059.2 L282.5,3056.2 L274.8,3054.1 L266.9,3052.6 L259.1,3051.6 L251.3,3050.9 L243.8,3050.5 L236.6,3050.0 L229.8,3049.6 L223.4,3049.4 L217.3,3049.4 L211.1,3049.6 L204.9,3049.9 L198.4,3050.5 L191.6,3051.3 L184.7,3052.2 L177.6,3053.3 L170.5,3054.7 L163.4,3056.3 L156.3,3058.2 L149.3,3060.4 L142.3,3062.7 L135.2,3065.4 L128.2,3068.3 L121.2,3071.5 L114.2,3075.1 L107.0,3079.2 L99.6,3083.8 L92.3,3088.7 L85.1,3093.7 L78.3,3098.5 L72.1,3103.1 L66.4,3107.5 L60.9,3112.0 L55.9,3116.4 L51.3,3120.4 L47.3,3124.0 L44.0,3127.0 L41.8,3128.9 L40.6,3129.9 L40.0,3130.4 L39.5,3130.9 L38.4,3131.9 L36.3,3134.0 L32.7,3133.8 L27.9,3130.3 L22.7,3127.4 L17.5,3128.8 L13.1,3138.4 L10.0,3160.0 L8.2,3200.1 L7.1,3257.0 L6.7,3322.1 L7.1,3386.8 L8.2,3442.7 L10.0,3481.0 L12.8,3499.3 L16.8,3504.0 L21.5,3499.8 L26.5,3491.4 L31.4,3483.6 L35.9,3481.2 L39.9,3483.6 L43.7,3487.0 L47.4,3490.9 L51.1,3495.2 L55.1,3499.4 L59.3,3503.2 L63.9,3506.8 L68.7,3510.4 L73.6,3513.9 L78.7,3517.4 L83.7,3520.6 L88.7,3523.7 L93.6,3526.5 L98.5,3529.2 L103.4,3531.7 L108.2,3534.0 L113.1,3536.3 L118.0,3538.4 L122.9,3540.4 L127.8,3542.3 L132.6,3544.1 L137.5,3545.8 L142.4,3547.3 L147.3,3548.7 L152.2,3550.0 L157.1,3551.2 L162.0,3552.2 L166.9,3553.1 L171.8,3553.9 L176.7,3554.6 L181.6,3555.1 L186.5,3555.5 L191.3,3555.8 L196.2,3555.9 L201.1,3556.0 L206.0,3556.0 L210.9,3556.0 L215.8,3555.9 L220.7,3555.7 L225.6,3555.4 L230.5,3555.0 L235.4,3554.6 L240.3,3554.1 L245.2,3553.5 L250.1,3552.8 L254.9,3552.0 L259.8,3551.1 L264.7,3550.2 L269.6,3549.2 L274.5,3548.1 L279.3,3547.0 L284.2,3545.7 L289.1,3544.3 L294.0,3542.8 L299.0,3541.1 L304.0,3539.4 L309.1,3537.5 L314.0,3535.5 L318.8,3533.4 L323.4,3531.1 L327.7,3528.7 L331.7,3526.2 L335.6,3523.6 L339.4,3520.9 L343.1,3518.0 L346.8,3515.0 L350.4,3512.0 L353.8,3508.9 L357.1,3505.7 L360.4,3502.3 L363.8,3498.6 L367.4,3494.4 L371.2,3489.8 L375.1,3484.7 L379.1,3479.3 L383.1,3473.7 L387.0,3468.0 L390.8,3462.1 L394.4,3456.1 L398.0,3449.8 L401.5,3443.4 L404.9,3436.9 L408.2,3430.4 L411.4,3424.0 L414.5,3417.7 L417.5,3411.6 L420.5,3405.4 L423.4,3399.2 L426.2,3392.7 L429.0,3385.9 L431.8,3378.7 L434.7,3371.2 L437.5,3363.5 L440.2,3355.7 L442.7,3347.8 L445.0,3340.0 L447.0,3332.4 L448.8,3324.9 L450.4,3317.4 L451.9,3309.7 L453.5,3301.6 L455.1,3292.9 L456.9,3283.5 L458.8,3273.5 L460.7,3263.1 L462.5,3252.6 L464.1,3242.0 L465.3,3231.6 L466.2,3221.1 L466.9,3210.2 L467.4,3199.4 L467.6,3188.9 L467.6,3179.1 L467.3,3170.4 L467.2,3162.9 L467.5,3156.5 L467.5,3150.8 L466.7,3145.4 L464.4,3140.3 L460.0,3135.0 L453.0,3129.5 L443.7,3124.1 L433.0,3118.8 L421.6,3113.8 L410.3,3109.1 L400.0,3105.0 L390.1,3101.5 L379.9,3098.4 L369.8,3095.7 L360.3,3093.4 L351.9,3091.1Z" fill="#ffcccc"/><clipPath id="rc17"><path d="M347.5,3090.2 L-2652.5,1770.2 L-2652.5,6090.2 L3347.5,6090.2 L3347.5,90.2 L347.5,90.2Z"/></clipPath><path clip-path="url(#rc17)" d="M345.0,3089.0 L337.6,3085.5 L330.9,3081.5 L324.7,3077.3 L318.6,3073.2 L312.3,3069.6 L305.5,3066.6 L297.9,3064.4 L289.6,3062.7 L281.1,3061.4 L272.9,3060.4 L265.6,3059.6 L259.6,3059.0 L255.5,3058.6 L253.0,3058.4 L251.4,3058.4 L249.8,3058.6 L247.3,3059.0 L243.3,3059.6 L237.4,3060.3 L230.3,3061.2 L222.5,3062.2 L214.2,3063.5 L206.1,3065.0 L198.4,3066.7 L191.2,3068.6 L184.2,3070.6 L177.2,3072.9 L170.2,3075.5 L163.3,3078.5 L156.3,3082.1 L149.1,3086.3 L141.7,3091.2 L134.4,3096.5 L127.2,3102.0 L120.4,3107.6 L114.2,3113.0 L108.6,3118.3 L103.5,3123.5 L98.8,3128.8 L94.4,3134.2 L90.2,3139.7 L86.1,3145.2 L82.1,3150.9 L78.2,3156.7 L74.5,3162.6 L71.1,3168.5 L68.0,3174.4 L65.1,3180.3 L62.6,3186.2 L60.5,3192.0 L58.6,3197.9 L57.0,3203.7 L55.4,3209.6 L53.9,3215.4 L52.4,3221.2 L51.0,3226.8 L49.7,3232.5 L48.6,3238.3 L47.6,3244.2 L46.8,3250.5 L46.2,3257.2 L45.7,3264.4 L45.4,3271.7 L45.2,3279.0 L45.2,3286.1 L45.4,3292.6 L45.7,3298.6 L46.1,3304.2 L46.7,3309.6 L47.5,3314.7 L48.6,3319.9 L50.0,3325.0 L51.9,3330.2 L54.2,3335.4 L56.9,3340.5 L59.6,3345.5 L62.4,3350.3 L65.0,3355.0 L67.4,3359.4 L69.7,3363.5 L71.9,3367.5 L74.3,3371.5 L76.9,3375.6 L79.9,3380.0 L83.2,3384.7 L86.8,3389.7 L90.7,3394.7 L94.7,3399.8 L99.0,3404.7 L103.3,3409.3 L107.9,3413.6 L112.7,3417.8 L117.6,3421.8 L122.7,3425.6 L127.7,3429.3 L132.7,3432.8 L137.6,3436.2 L142.5,3439.4 L147.3,3442.4 L152.2,3445.3 L157.1,3448.0 L162.0,3450.4 L166.9,3452.6 L171.8,3454.6 L176.7,3456.5 L181.6,3458.1 L186.5,3459.5 L191.4,3460.7 L196.3,3461.7 L201.2,3462.4 L206.1,3462.9 L210.9,3463.2 L215.8,3463.5 L220.7,3463.6 L225.6,3463.7 L230.5,3463.6 L235.3,3463.4 L240.2,3463.1 L245.1,3462.6 L250.0,3462.1 L254.9,3461.4 L259.8,3460.7 L264.7,3459.8 L269.6,3458.7 L274.5,3457.6 L279.4,3456.3 L284.3,3454.9 L289.2,3453.4 L294.1,3451.7 L298.9,3449.9 L303.8,3448.0 L308.7,3446.0 L313.6,3443.9 L318.5,3441.6 L323.3,3439.2 L328.2,3436.7 L333.1,3434.0 L338.0,3431.3 L342.9,3428.5 L347.8,3425.7 L352.7,3422.7 L357.6,3419.6 L362.5,3416.1 L367.4,3412.3 L372.3,3408.2 L377.2,3404.0 L382.1,3399.5 L387.0,3394.6 L391.9,3389.1 L396.7,3382.9 L401.5,3376.0 L406.2,3368.4 L410.9,3360.3 L415.5,3351.7 L420.1,3342.8 L424.5,3333.7 L428.9,3324.2 L433.4,3314.2 L437.8,3303.8 L441.9,3293.3 L445.7,3282.8 L449.0,3272.4 L451.8,3262.1 L454.1,3251.6 L456.1,3241.2 L457.7,3230.8 L459.1,3220.8 L460.2,3211.2 L461.0,3201.8 L461.6,3192.5 L461.8,3183.5 L461.8,3175.0 L461.6,3167.1 L461.2,3160.2 L461.1,3154.4 L461.5,3149.7 L461.6,3145.7 L460.9,3142.0 L458.9,3138.2 L455.0,3134.0 L448.7,3129.2 L440.3,3124.1 L430.6,3118.9 L420.1,3113.8 L409.7,3109.1 L400.0,3105.0 L390.7,3101.7 L381.1,3098.9 L371.5,3096.6 L362.2,3094.3 L353.3,3091.9Z" fill="#ffa5a5"/><clipPath id="rc18"><path d="M347.5,3090.2 L-2652.5,1920.2 L-2652.5,6090.2 L3347.5,6090.2 L3347.5,90.2 L347.5,90.2Z"/></clipPath><g clip-path="url(#rc18)"><ellipse cx="273.5" cy="3231.6" rx="162.3" ry="183.8" transform="rotate(58.20 273.5 3231.6)" fill="#ff7f7f"/></g><clipPath id="rc19"><path d="M347.5,3090.2 L-2652.5,2100.2 L-2652.5,6090.2 L3347.5,6090.2 L3347.5,90.2 L347.5,90.2Z"/></clipPath><g clip-path="url(#rc19)"><ellipse cx="291.8" cy="3212.2" rx="161.8" ry="138.5" transform="rotate(-208.80 291.8 3212.2)" fill="#ff5252"/></g><clipPath id="rc20"><path d="M347.5,3090.2 L-2652.5,2310.2 L-2652.5,6090.2 L3347.5,6090.2 L3347.5,90.2 L347.5,90.2Z"/></clipPath><g clip-path="url(#rc20)"><ellipse cx="304.7" cy="3203.7" rx="141.8" ry="121.1" transform="rotate(-21.51 304.7 3203.7)" fill="#ff2a2a"/></g><clipPath id="rc21"><path d="M347.5,3090.2 L-2652.5,2610.2 L-2652.5,6090.2 L3347.5,6090.2 L3347.5,90.2 L347.5,90.2Z"/></clipPath><g clip-path="url(#rc21)"><ellipse cx="313.5" cy="3193.6" rx="126.9" ry="108.1" transform="rotate(-380.88 313.5 3193.6)" fill="#ff0000"/></g>
<path d="M641.3,3235.0 651.0,3233.8 659.0,3231.6 681.0,3219.8 685.0,3216.5 689.0,3214.8 692.0,3212.5 702.0,3207.5 705.0,3206.8 710.0,3204.5 728.0,3200.2 735.0,3200.0 739.0,3199.1 747.0,3199.1 797.0,3199.1 801.0,3200.0 804.0,3200.0 808.0,3200.0 812.0,3199.1 836.0,3199.5 841.0,3200.6 847.0,3203.8 849.0,3204.4 861.0,3206.0 915.0,3216.1 1018.0,3224.0 1122.0,3230.0 1320.0,3233.5 1419.0,3233.7 1419.0,3092.5 1227.0,3092.4 1123.0,3091.5 1018.0,3089.7 925.0,3086.0 910.6,3085.0 846.0,3075.0 836.0,3075.1 807.0,3068.2 803.0,3067.9 799.0,3066.9 769.1,3057.0 759.0,3051.5 753.0,3047.5 740.6,3038.0 738.1,3034.0 733.4,3029.0 724.3,3014.0 720.3,3006.0 717.3,2998.0 715.6,2990.0 714.3,2987.0 712.6,2980.0 708.2,2968.0 706.5,2961.0 703.2,2954.0 696.5,2937.0 687.5,2920.0 678.5,2906.0 673.1,2899.0 671.0,2895.3 663.7,2886.0 652.8,2875.0 650.0,2871.3 632.0,2853.4 621.4,2845.0 604.0,2833.8 596.6,2830.0 584.5,2825.0 564.0,2818.8 559.0,2818.5 544.0,2815.6 537.0,2815.5 534.0,2814.7 518.0,2814.6 508.0,2815.6 505.0,2816.4 492.0,2816.7 481.0,2819.4 476.0,2819.8 468.0,2822.5 463.0,2822.9 456.0,2826.2 445.5,2830.0 434.5,2835.0 428.0,2839.2 414.0,2846.8 403.7,2854.0 398.0,2858.6 381.0,2875.6 376.7,2882.0 374.0,2887.0 367.7,2895.0 363.0,2903.2 357.6,2915.0 348.5,2939.0 345.5,2947.0 337.3,2981.0 337.0,2986.0 336.1,2989.0 335.9,2995.0 335.1,2998.0 334.9,3004.0 334.0,3007.0 333.8,3013.0 333.0,3016.0 332.8,3041.0 333.7,3046.0 333.8,3054.0 336.4,3069.0 338.0,3072.3 339.2,3078.0 341.2,3082.0 346.0,3088.6 348.1,3091.0 350.0,3092.4 353.0,3094.0 361.0,3096.8 365.9,3098.0 377.0,3101.8 410.0,3110.3 412.0,3110.5 451.0,3121.3 473.0,3125.6 493.0,3130.8 497.0,3131.0 499.0,3131.8 502.0,3132.1 514.0,3135.8 516.4,3136.0 518.0,3136.8 524.3,3138.0 526.0,3138.8 528.1,3139.0 530.0,3139.8 532.1,3140.0 534.0,3140.9 536.0,3141.0 547.0,3144.1 553.9,3148.0 557.5,3152.0 559.1,3158.0 559.3,3161.0 560.1,3164.0 560.5,3175.0 564.4,3186.0 568.3,3194.0 571.7,3199.0 575.4,3206.0 585.2,3218.0 590.0,3221.2 594.0,3224.6 600.0,3227.2 604.0,3229.6 607.0,3230.3 612.0,3232.6 619.0,3234.6 624.0,3235.0 627.0,3235.8 638.0,3235.8 641.3,3235.0Z" fill="#eeeeff"/>
<path d="M641.6,3231.0 651.0,3229.5 660.0,3226.5 672.0,3220.9 696.0,3207.4 710.0,3201.9 727.0,3198.0 738.0,3196.8 769.0,3196.4 795.0,3196.5 805.0,3197.1 819.0,3196.6 836.0,3197.2 841.0,3198.0 851.0,3201.6 914.0,3213.2 1018.0,3221.0 1122.0,3226.8 1320.0,3230.2 1419.0,3230.1 1419.0,3097.1 1227.0,3096.2 1123.0,3094.8 1017.0,3092.7 914.0,3088.1 853.0,3079.0 835.0,3078.0 802.0,3070.4 796.0,3068.7 770.0,3059.4 758.9,3054.0 749.0,3047.7 740.0,3040.7 732.0,3032.1 724.4,3021.0 717.8,3009.0 714.5,3001.0 699.9,2959.0 690.0,2937.7 678.0,2917.7 671.0,2907.8 663.0,2897.6 656.0,2889.9 647.0,2881.1 638.0,2872.8 628.0,2864.6 619.0,2858.2 610.0,2852.7 600.0,2847.4 590.0,2843.1 579.0,2839.2 568.0,2836.2 556.0,2833.7 544.0,2831.9 532.0,2831.0 520.0,2830.8 507.0,2831.5 494.0,2833.0 482.0,2835.1 470.0,2837.9 459.0,2841.4 448.0,2845.6 437.0,2850.6 426.0,2856.5 413.0,2864.8 402.0,2873.3 392.0,2882.6 382.0,2894.1 373.1,2906.0 366.4,2917.0 358.0,2933.6 351.0,2949.9 345.0,2968.6 341.3,2983.0 338.4,2999.0 335.7,3019.0 334.8,3040.0 335.6,3047.0 335.4,3054.0 335.9,3059.0 337.4,3069.0 339.0,3072.8 340.1,3078.0 341.4,3081.0 346.0,3087.1 350.0,3091.0 354.0,3093.6 359.0,3095.0 362.0,3096.6 365.0,3097.0 378.0,3101.5 381.0,3102.0 385.0,3103.5 408.0,3109.0 409.0,3109.6 412.0,3109.7 414.0,3110.6 417.0,3111.0 421.0,3112.6 424.0,3113.0 435.0,3116.5 438.0,3116.7 444.0,3118.6 447.0,3119.0 451.0,3120.6 459.0,3121.8 461.0,3122.6 464.0,3122.8 470.0,3124.6 473.0,3124.8 479.0,3126.6 482.0,3127.0 483.0,3127.6 486.0,3128.0 494.0,3130.5 498.0,3130.7 507.0,3133.4 510.0,3133.9 514.0,3135.4 548.1,3144.0 555.9,3148.0 560.0,3151.6 563.0,3152.9 565.0,3153.0 565.9,3154.0 565.1,3161.0 565.5,3170.0 566.5,3176.0 569.0,3184.0 572.6,3192.0 578.5,3202.0 583.0,3208.1 588.4,3214.0 594.0,3218.6 599.0,3221.8 606.0,3225.3 614.0,3228.4 621.0,3230.2 628.0,3231.3 635.0,3231.5 641.6,3231.0Z" fill="#d9d9ff"/>
<path d="M642.0,3227.0 652.0,3225.2 661.0,3222.3 672.0,3217.3 696.0,3204.6 705.1,3201.0 713.0,3198.6 726.0,3195.7 738.0,3194.4 772.0,3193.7 819.0,3194.3 837.0,3195.1 842.0,3196.1 853.0,3199.4 915.0,3210.5 1018.0,3218.0 1122.0,3223.5 1227.0,3225.6 1320.0,3226.8 1419.0,3226.3 1419.0,3102.0 1227.0,3100.2 1018.0,3095.7 914.0,3090.6 853.0,3081.7 835.0,3080.6 819.0,3077.3 797.0,3071.7 792.0,3069.7 787.0,3066.9 775.0,3063.0 761.0,3057.3 753.0,3053.1 746.9,3049.0 737.0,3041.2 731.5,3036.0 724.1,3027.0 717.4,3016.0 712.2,3005.0 697.8,2967.0 693.4,2957.0 683.4,2938.0 670.0,2917.9 663.2,2909.0 657.0,2902.0 640.0,2886.5 632.0,2880.1 624.0,2874.4 607.0,2864.5 598.0,2860.3 587.0,2856.3 576.0,2853.1 563.0,2850.2 550.0,2847.9 538.0,2846.6 527.0,2846.0 515.0,2846.2 502.0,2847.3 489.0,2849.0 477.0,2851.5 466.0,2854.4 455.0,2858.2 444.0,2862.8 433.0,2868.3 423.0,2874.1 411.0,2882.2 401.0,2890.3 392.0,2899.0 382.0,2910.3 373.0,2922.6 364.0,2936.9 358.0,2948.4 351.4,2964.0 347.3,2976.0 342.2,2996.0 338.6,3016.0 336.5,3039.0 337.4,3050.0 336.7,3054.0 336.7,3058.0 337.7,3068.0 339.2,3072.0 340.4,3078.0 342.4,3082.0 348.3,3089.0 353.0,3092.6 362.0,3096.1 365.0,3096.7 378.0,3101.1 409.0,3109.1 416.0,3110.4 435.0,3116.1 438.0,3116.4 446.0,3118.4 451.0,3120.1 464.0,3122.4 470.0,3124.1 473.0,3124.4 485.0,3127.4 494.0,3130.1 498.0,3130.4 502.0,3131.4 514.0,3135.0 544.0,3142.3 548.8,3144.0 556.0,3147.7 560.0,3151.2 563.0,3152.4 566.0,3152.9 567.0,3153.7 569.4,3154.0 570.8,3155.0 571.0,3156.0 570.2,3163.0 570.4,3170.0 571.7,3177.0 573.8,3184.0 577.5,3192.0 582.0,3199.6 586.8,3206.0 592.0,3211.3 597.0,3215.3 602.8,3219.0 609.0,3222.0 616.0,3224.6 622.0,3226.1 629.0,3227.2 635.0,3227.4 642.0,3227.0Z" fill="#c7c7ff"/>
<path d="M1344.7,3223.0 1419.0,3222.3 1419.0,3107.1 1321.0,3105.3 1227.0,3104.3 1017.0,3098.8 914.0,3093.3 854.0,3084.6 832.0,3082.8 816.0,3079.6 802.0,3076.1 792.0,3072.6 786.0,3068.7 774.0,3064.9 769.0,3062.6 761.0,3059.9 753.0,3055.9 744.0,3050.1 730.0,3039.0 724.0,3032.9 716.2,3022.0 708.2,3006.0 703.6,2994.0 698.3,2983.0 692.0,2965.9 681.5,2946.0 673.5,2934.0 658.0,2913.4 650.0,2905.4 644.6,2901.0 630.0,2889.5 622.0,2884.5 598.0,2872.5 583.0,2868.1 557.0,2863.1 545.0,2861.8 534.0,2860.1 518.0,2860.1 515.0,2860.8 505.0,2861.1 502.0,2861.8 489.0,2863.1 478.0,2865.3 460.0,2870.3 455.0,2872.6 450.0,2874.3 440.0,2879.2 430.0,2884.3 425.0,2887.6 420.0,2890.3 414.0,2894.3 401.2,2904.0 396.0,2910.0 390.0,2915.1 375.0,2933.2 365.5,2947.0 355.0,2967.9 352.5,2974.0 347.2,2990.0 341.2,3016.0 339.9,3030.0 338.2,3040.0 338.1,3043.0 339.3,3050.0 339.0,3051.8 337.6,3055.0 338.1,3068.0 339.5,3072.0 340.7,3078.0 342.8,3082.0 350.0,3090.3 354.0,3092.9 358.0,3094.0 362.0,3095.9 364.0,3096.0 385.0,3102.9 399.0,3106.0 409.0,3108.9 412.0,3109.0 414.0,3109.9 416.0,3110.0 435.0,3115.9 438.0,3116.0 440.0,3116.9 446.0,3118.0 451.0,3119.9 459.0,3121.0 461.0,3121.9 464.0,3122.0 470.0,3123.9 473.0,3124.0 483.0,3126.9 485.0,3127.0 490.0,3128.9 492.0,3129.0 494.0,3129.9 498.0,3130.0 507.0,3132.8 509.0,3133.0 514.0,3134.8 516.1,3135.0 522.0,3136.8 544.0,3142.0 548.0,3143.4 555.3,3147.0 560.0,3150.9 570.0,3153.8 574.0,3155.8 575.3,3156.0 575.7,3157.0 574.9,3162.0 574.8,3168.0 576.4,3178.0 580.5,3189.0 586.5,3199.0 593.4,3207.0 602.0,3213.8 612.0,3219.0 623.0,3222.3 630.0,3223.4 638.0,3223.5 646.0,3222.7 654.0,3221.0 668.0,3215.7 690.0,3204.6 699.0,3200.6 709.0,3197.1 721.0,3194.2 730.0,3192.7 742.0,3191.6 776.0,3191.1 817.0,3191.8 835.0,3192.8 842.0,3193.9 854.0,3197.1 914.0,3207.5 1019.0,3214.9 1124.0,3220.3 1228.0,3222.3 1320.0,3223.2 1344.7,3223.0Z" fill="#b5b5ff"/>
<path d="M1358.0,3219.0 1419.0,3218.2 1419.0,3112.4 1321.0,3110.0 1227.0,3108.6 1017.0,3102.0 914.0,3096.0 854.0,3087.3 832.0,3085.5 819.0,3083.2 806.0,3080.2 792.7,3076.0 783.0,3071.6 773.0,3068.2 760.0,3063.0 752.0,3059.3 745.0,3055.3 739.0,3051.2 725.5,3040.0 717.6,3031.0 711.5,3022.0 704.4,3009.0 685.5,2970.0 676.0,2954.2 668.0,2943.3 657.0,2930.2 649.0,2921.8 640.0,2913.8 630.0,2906.2 620.0,2899.5 610.0,2893.7 599.0,2888.4 589.0,2884.4 579.0,2881.2 567.0,2878.2 554.0,2875.7 535.0,2873.1 520.0,2872.7 498.0,2874.5 478.0,2878.0 461.0,2882.9 445.0,2889.4 429.0,2898.1 414.5,2908.0 399.0,2921.4 386.0,2935.1 375.0,2949.0 365.0,2965.0 358.0,2978.8 350.0,2999.5 344.8,3017.0 340.2,3040.0 339.9,3043.0 340.4,3051.0 341.7,3053.0 339.0,3053.7 338.5,3055.0 338.9,3063.0 338.5,3067.0 338.7,3069.0 339.9,3072.0 340.7,3077.0 343.0,3081.9 345.4,3085.0 350.0,3090.0 354.0,3092.7 358.6,3094.0 362.0,3095.7 364.6,3096.0 385.0,3102.7 399.6,3106.0 409.0,3108.7 412.0,3108.9 414.0,3109.7 416.6,3110.0 421.0,3111.7 423.6,3112.0 435.0,3115.7 438.0,3115.9 444.0,3117.7 446.6,3118.0 451.0,3119.7 454.0,3119.9 456.0,3120.7 464.6,3122.0 470.0,3123.7 473.6,3124.0 483.0,3126.7 485.6,3127.0 494.0,3129.7 498.6,3130.0 507.0,3132.6 509.7,3133.0 514.0,3134.6 544.7,3142.0 548.0,3143.1 555.8,3147.0 560.0,3150.7 569.0,3153.1 577.0,3156.0 578.0,3156.8 579.5,3157.0 580.0,3158.0 579.1,3161.0 579.0,3168.0 580.6,3178.0 584.3,3188.0 590.0,3197.5 597.0,3205.2 606.0,3211.8 616.0,3216.5 626.0,3219.1 633.0,3219.9 640.0,3219.8 648.0,3218.8 655.0,3217.2 668.0,3212.3 698.0,3198.2 708.0,3194.7 719.0,3192.0 729.0,3190.3 741.0,3189.1 774.0,3188.4 813.0,3189.2 834.0,3190.5 842.0,3191.6 855.0,3194.8 914.0,3204.5 1019.0,3211.7 1124.0,3216.8 1228.0,3218.8 1321.0,3219.5 1358.0,3219.0Z" fill="#a0a0ff"/>
<path d="M644.7,3216.0 653.0,3214.4 661.0,3211.9 670.0,3208.2 695.0,3196.5 704.0,3193.2 714.0,3190.5 726.0,3188.2 738.0,3186.8 752.0,3186.1 771.0,3185.8 803.0,3186.3 835.0,3188.4 842.0,3189.4 856.0,3192.3 915.0,3201.5 1018.0,3208.3 1122.0,3213.1 1227.0,3215.2 1320.0,3215.6 1419.0,3213.8 1419.0,3118.0 1408.0,3118.0 1321.0,3114.9 1227.0,3113.0 1018.0,3105.3 914.0,3098.8 854.0,3090.2 832.0,3088.3 815.0,3085.4 807.0,3083.6 798.0,3080.8 767.0,3069.8 751.5,3063.0 743.6,3059.0 736.0,3054.2 728.1,3048.0 721.0,3041.2 711.1,3029.0 699.9,3011.0 687.0,2986.9 677.1,2970.0 671.0,2961.3 662.0,2950.7 646.0,2934.3 631.0,2922.1 622.0,2915.7 612.0,2909.5 602.0,2904.0 593.0,2899.8 583.0,2895.8 572.0,2892.2 547.0,2886.6 536.0,2884.8 528.0,2884.1 520.0,2884.2 510.0,2884.9 496.0,2886.4 483.0,2888.6 471.0,2891.3 461.0,2894.4 451.0,2898.3 442.0,2902.6 432.0,2908.6 422.0,2915.4 412.6,2923.0 401.0,2933.2 393.0,2941.3 385.0,2950.3 378.0,2959.3 371.0,2969.5 365.0,2979.4 359.0,2991.0 349.4,3014.0 343.5,3034.0 341.6,3043.0 341.0,3050.0 343.6,3055.0 343.0,3055.9 340.0,3054.4 339.6,3055.0 339.2,3059.0 339.7,3063.0 338.8,3068.0 340.2,3072.0 340.9,3077.0 343.4,3082.0 351.0,3090.5 354.0,3092.5 359.0,3093.9 362.0,3095.5 365.0,3095.9 385.0,3102.5 408.0,3107.9 409.0,3108.5 412.0,3108.7 417.0,3109.9 421.0,3111.5 424.0,3111.9 435.0,3115.5 438.0,3115.7 444.0,3117.5 447.0,3117.9 451.0,3119.5 454.0,3119.7 456.0,3120.5 465.0,3121.9 470.0,3123.5 474.0,3123.9 483.0,3126.5 486.0,3126.9 494.0,3129.5 499.0,3129.9 507.0,3132.5 510.0,3132.9 514.0,3134.4 545.0,3141.9 548.0,3142.9 556.0,3146.9 560.0,3150.5 569.6,3153.0 574.0,3154.8 576.0,3155.1 581.0,3156.9 582.4,3158.0 582.9,3159.0 582.7,3166.0 583.2,3172.0 584.4,3178.0 586.4,3184.0 588.8,3189.0 591.9,3194.0 599.0,3202.2 604.0,3206.3 609.0,3209.5 614.0,3212.0 620.0,3214.2 626.0,3215.6 632.0,3216.4 638.0,3216.5 644.7,3216.0Z" fill="#8a8aff"/>
<path d="M643.1,3213.0 651.0,3211.7 660.0,3209.0 669.0,3205.4 695.0,3193.6 704.0,3190.5 713.0,3188.0 725.0,3185.7 737.0,3184.3 752.0,3183.4 770.0,3183.1 802.0,3183.6 834.0,3186.0 858.2,3190.0 915.0,3198.3 1018.0,3204.8 1122.0,3209.3 1227.0,3211.4 1320.0,3211.5 1419.0,3209.2 1419.0,3124.1 1408.0,3124.0 1321.0,3120.0 1227.0,3117.7 1018.0,3108.8 914.0,3101.7 854.0,3093.2 831.0,3091.0 807.0,3086.9 768.0,3074.5 757.0,3069.2 746.8,3065.0 737.0,3060.0 727.4,3053.0 720.4,3047.0 714.1,3039.0 708.5,3033.0 694.6,3012.0 689.9,3003.0 680.9,2988.0 675.6,2981.0 670.9,2973.0 666.0,2966.8 657.0,2957.8 654.0,2955.5 644.3,2946.0 636.0,2938.8 627.0,2933.3 620.0,2928.0 612.0,2923.0 605.0,2919.4 600.0,2916.1 592.0,2912.1 569.0,2903.2 557.0,2900.7 552.0,2899.2 539.0,2896.8 533.0,2895.1 528.0,2894.2 524.0,2894.2 515.0,2895.8 509.0,2896.1 506.0,2896.8 499.0,2897.1 496.0,2897.9 491.0,2898.1 470.0,2902.4 450.0,2909.4 446.0,2911.4 437.0,2917.7 429.0,2922.4 424.0,2926.2 417.9,2932.0 406.0,2941.2 390.2,2957.0 377.4,2973.0 370.4,2983.0 365.0,2991.7 353.4,3014.0 345.5,3035.0 342.6,3046.0 342.2,3050.0 344.2,3055.0 346.0,3056.9 346.3,3058.0 346.0,3058.8 345.0,3058.6 344.0,3056.6 340.6,3057.0 340.0,3060.0 340.7,3063.0 339.4,3066.0 339.2,3068.0 340.5,3072.0 341.2,3077.0 343.6,3082.0 351.0,3090.3 354.0,3092.3 359.0,3093.7 362.0,3095.3 365.0,3095.7 385.0,3102.3 408.0,3107.7 409.0,3108.3 417.0,3109.7 421.0,3111.3 424.0,3111.7 435.0,3115.3 439.0,3115.7 444.0,3117.3 447.0,3117.7 451.0,3119.3 465.0,3121.7 471.0,3123.5 474.0,3123.7 483.0,3126.3 486.0,3126.7 494.0,3129.3 499.0,3129.7 507.0,3132.3 510.0,3132.7 514.0,3134.3 545.0,3141.7 548.0,3142.7 556.0,3146.7 560.0,3150.3 570.0,3152.9 578.0,3155.8 580.1,3156.0 583.0,3157.5 586.4,3158.0 587.0,3159.0 586.3,3165.0 586.6,3171.0 588.9,3181.0 591.0,3186.0 593.9,3191.0 600.4,3199.0 605.0,3202.9 609.5,3206.0 615.0,3208.8 620.0,3210.7 631.0,3213.0 637.0,3213.3 643.1,3213.0Z" fill="#7878ff"/>
<path d="M642.6,3210.0 651.0,3208.6 660.0,3205.9 694.0,3191.0 703.0,3187.9 712.0,3185.5 723.0,3183.3 735.0,3181.8 750.0,3180.9 767.0,3180.5 798.0,3180.8 822.0,3182.5 842.0,3184.6 915.0,3195.0 1018.0,3201.1 1122.0,3205.4 1227.0,3207.3 1320.0,3207.2 1419.0,3204.1 1419.0,3130.6 1408.0,3130.5 1321.0,3125.5 1227.0,3122.7 1018.0,3112.4 914.0,3104.7 854.0,3096.2 829.0,3093.6 806.0,3089.6 774.0,3079.7 767.0,3077.2 740.0,3064.7 732.0,3060.0 726.0,3055.4 717.8,3048.0 706.0,3034.4 693.8,3016.0 680.3,2994.0 664.0,2971.6 656.9,2964.0 646.0,2954.0 632.0,2942.6 611.0,2928.9 593.0,2919.7 582.0,2915.5 569.0,2911.3 547.0,2906.4 531.0,2904.5 518.0,2905.1 490.0,2909.4 479.0,2912.0 468.0,2915.4 453.0,2921.7 437.0,2930.9 420.0,2943.3 405.0,2956.1 396.0,2965.0 387.0,2974.8 378.0,2985.7 371.0,2995.0 358.4,3015.0 348.5,3036.0 344.2,3049.0 344.4,3054.0 346.0,3056.1 346.6,3058.0 346.0,3059.3 345.0,3059.4 344.0,3057.7 343.0,3057.1 341.4,3058.0 340.9,3061.0 342.0,3064.0 340.0,3065.7 339.6,3068.0 340.9,3072.0 341.4,3077.0 342.0,3078.5 343.9,3082.0 349.7,3089.0 354.0,3092.1 359.0,3093.5 362.0,3095.1 365.0,3095.5 385.0,3102.1 408.0,3107.5 409.0,3108.1 417.0,3109.5 421.0,3111.1 424.0,3111.5 435.0,3115.1 439.0,3115.5 444.0,3117.1 447.0,3117.5 451.0,3119.1 460.0,3120.5 462.0,3121.3 465.0,3121.5 471.0,3123.3 474.0,3123.5 483.0,3126.1 486.0,3126.5 490.0,3128.1 495.0,3129.3 499.0,3129.5 507.0,3132.1 510.0,3132.5 514.0,3134.1 545.0,3141.5 548.0,3142.5 556.0,3146.5 560.0,3150.1 570.0,3152.7 574.0,3154.3 581.0,3156.0 582.0,3156.7 588.0,3157.8 589.6,3159.0 590.1,3160.0 589.6,3165.0 589.8,3170.0 590.8,3176.0 592.3,3181.0 594.5,3186.0 596.9,3190.0 603.0,3197.2 611.0,3203.3 616.0,3205.9 621.0,3207.8 626.0,3209.1 632.0,3210.0 642.6,3210.0Z" fill="#6666ff"/>
<path d="M643.7,3207.0 651.0,3205.7 660.0,3202.9 692.0,3188.8 700.0,3185.9 709.0,3183.4 720.0,3181.1 732.0,3179.5 748.0,3178.3 764.0,3177.8 793.0,3177.9 810.0,3178.8 846.0,3182.6 915.0,3191.5 1018.0,3197.3 1122.0,3201.2 1227.0,3203.0 1320.0,3202.5 1408.0,3198.6 1419.0,3198.5 1419.0,3137.8 1408.0,3137.7 1321.0,3131.5 1227.0,3127.9 1018.0,3116.2 914.0,3107.8 854.0,3099.4 825.0,3095.9 805.0,3092.3 769.0,3081.1 741.0,3068.1 726.0,3058.9 713.2,3047.0 704.5,3037.0 696.9,3026.0 685.4,3007.0 680.0,2999.0 661.0,2974.4 652.9,2966.0 644.0,2957.7 624.2,2943.0 606.0,2931.8 599.0,2928.4 590.0,2924.8 579.0,2921.2 569.0,2918.5 553.0,2915.0 543.0,2913.3 534.0,2912.8 526.0,2913.3 502.0,2917.3 491.0,2919.7 480.0,2922.8 468.0,2927.2 457.0,2931.9 447.0,2937.2 436.0,2944.1 424.0,2952.9 414.0,2961.1 402.0,2972.0 391.0,2982.8 378.0,2996.8 371.0,3005.4 363.0,3016.5 358.0,3024.4 353.0,3033.6 346.8,3047.0 345.4,3051.0 345.0,3054.0 346.9,3057.0 346.7,3059.0 346.0,3059.7 345.0,3060.0 344.0,3059.4 343.0,3058.0 342.0,3058.9 341.7,3061.0 343.5,3065.0 343.0,3066.0 341.0,3065.7 340.0,3067.7 341.2,3072.0 341.6,3077.0 343.0,3080.0 344.2,3082.0 351.0,3089.9 354.0,3091.8 359.0,3093.3 362.4,3095.0 365.0,3095.3 385.4,3102.0 404.0,3106.3 409.4,3108.0 413.0,3108.3 414.4,3109.0 417.0,3109.3 421.4,3111.0 424.0,3111.3 435.4,3115.0 439.0,3115.3 444.4,3117.0 447.0,3117.3 451.4,3119.0 460.0,3120.3 462.0,3121.1 465.0,3121.3 471.0,3123.1 474.0,3123.3 475.4,3124.0 486.0,3126.3 490.4,3128.0 493.0,3128.3 495.0,3129.1 499.0,3129.3 507.4,3132.0 510.0,3132.3 514.4,3134.0 545.0,3141.3 548.0,3142.3 556.0,3146.3 560.4,3150.0 570.0,3152.4 574.0,3154.1 581.0,3155.7 582.0,3156.4 587.6,3157.0 592.8,3160.0 593.0,3171.0 595.0,3180.0 597.3,3185.0 599.7,3189.0 606.0,3196.0 614.0,3201.6 623.0,3205.4 633.0,3207.2 643.7,3207.0Z" fill="#5252ff"/>
<path d="M645.5,3204.0 652.0,3202.6 660.0,3199.9 690.0,3186.5 698.0,3183.5 706.0,3181.3 718.0,3178.7 728.0,3177.2 741.0,3176.0 761.0,3175.2 790.0,3175.2 806.0,3175.8 834.0,3179.1 852.0,3180.5 915.0,3187.9 1018.0,3193.2 1123.0,3196.7 1227.0,3198.3 1320.0,3197.3 1409.0,3192.1 1419.0,3192.1 1419.0,3146.0 1408.0,3145.9 1369.0,3142.0 1321.0,3138.0 1227.0,3133.7 1144.5,3128.0 1018.0,3120.2 914.0,3111.1 817.0,3097.8 805.0,3095.4 769.0,3084.5 759.0,3079.2 748.0,3074.6 740.0,3070.6 725.5,3062.0 715.0,3051.9 711.4,3049.0 702.0,3038.5 693.4,3026.0 686.7,3014.0 680.7,3005.0 674.0,2996.1 658.8,2978.0 642.6,2962.0 637.0,2957.5 628.0,2951.8 621.0,2946.5 607.1,2938.0 599.0,2934.0 595.0,2932.5 573.0,2926.2 570.0,2925.9 542.0,2920.2 531.0,2920.2 516.0,2924.8 512.0,2925.7 506.0,2926.1 501.0,2927.0 486.0,2931.2 461.0,2941.2 443.0,2951.1 429.0,2960.8 419.0,2968.8 398.0,2986.7 388.0,2996.5 383.0,3000.7 375.8,3008.0 365.9,3020.0 360.1,3028.0 352.2,3041.0 346.2,3053.0 346.1,3054.0 347.4,3057.0 347.1,3059.0 346.0,3060.2 343.5,3061.0 343.3,3062.0 344.2,3065.0 344.0,3066.0 341.4,3067.0 340.8,3068.0 341.6,3072.0 341.8,3077.0 343.8,3081.0 350.0,3088.7 354.0,3091.5 363.0,3095.0 365.0,3095.1 379.0,3100.0 381.0,3100.1 386.0,3102.0 408.0,3107.1 410.0,3108.0 413.0,3108.1 415.0,3109.0 417.0,3109.1 436.0,3115.0 439.0,3115.1 445.0,3117.0 447.0,3117.1 452.0,3119.0 460.0,3120.1 462.0,3121.0 465.0,3121.1 471.0,3123.0 474.0,3123.1 484.0,3126.0 486.0,3126.1 491.0,3128.0 493.0,3128.1 495.0,3129.0 499.0,3129.1 515.0,3133.9 545.0,3141.1 548.0,3142.1 556.0,3146.1 561.0,3150.0 568.0,3152.0 570.0,3152.2 574.5,3154.0 581.0,3155.4 583.0,3156.3 588.0,3156.7 591.0,3158.6 593.0,3159.2 595.2,3161.0 596.3,3174.0 598.3,3181.0 602.3,3188.0 609.0,3195.0 617.0,3200.1 626.0,3203.3 636.0,3204.6 645.5,3204.0Z" fill="#3d3dff"/>
<path d="M647.5,3201.0 661.0,3196.6 690.0,3183.3 703.0,3179.1 716.0,3176.2 725.0,3174.8 738.0,3173.5 760.0,3172.5 803.0,3172.8 836.0,3177.0 853.0,3177.5 914.0,3183.9 1019.0,3188.9 1123.0,3191.8 1226.0,3193.1 1322.0,3191.3 1367.9,3188.0 1409.0,3184.1 1419.0,3184.1 1419.0,3156.4 1409.0,3156.3 1369.0,3150.7 1321.0,3145.4 1227.0,3140.0 1139.5,3133.0 1017.0,3124.4 914.0,3114.6 853.0,3106.1 835.0,3103.1 813.0,3100.3 806.0,3098.9 767.0,3086.2 743.0,3074.4 725.0,3063.5 710.0,3050.0 700.2,3039.0 691.4,3027.0 681.0,3010.6 672.0,2999.2 666.0,2992.6 649.0,2975.6 640.0,2968.0 631.0,2961.7 609.0,2948.2 601.0,2944.0 593.0,2940.6 582.0,2936.9 571.2,2934.0 555.0,2930.6 544.0,2929.0 536.0,2928.7 528.0,2929.5 504.0,2934.4 492.0,2937.6 479.0,2942.1 462.0,2948.8 450.0,2954.7 439.0,2961.1 426.0,2969.8 407.0,2984.3 398.0,2991.6 382.0,3006.4 372.0,3017.3 364.0,3027.2 354.0,3042.1 348.3,3052.0 347.7,3054.0 347.5,3059.0 344.6,3062.0 344.5,3066.0 342.2,3068.0 341.8,3069.0 341.9,3076.0 343.0,3078.9 344.9,3082.0 348.5,3086.0 350.0,3088.3 354.0,3091.3 362.0,3094.3 365.0,3094.9 386.0,3101.6 410.0,3107.6 417.0,3108.9 436.0,3114.6 439.0,3114.9 447.0,3116.9 452.0,3118.6 454.0,3118.7 462.0,3120.6 465.0,3120.9 471.0,3122.6 474.0,3122.9 486.0,3125.9 491.0,3127.6 495.0,3128.6 499.0,3128.9 515.0,3133.6 545.0,3140.9 549.0,3142.3 556.0,3145.8 560.0,3149.3 579.0,3154.9 581.0,3155.1 583.0,3156.0 588.0,3156.3 591.0,3158.1 596.1,3160.0 597.3,3161.0 598.3,3165.0 599.1,3175.0 601.0,3180.8 605.5,3188.0 612.0,3194.1 620.0,3198.7 628.0,3201.1 638.0,3202.0 647.5,3201.0Z" fill="#2b2bff"/>
<path d="M645.2,3199.0 652.0,3197.1 660.0,3194.2 669.0,3190.3 681.0,3184.0 691.0,3179.6 700.0,3176.7 722.0,3172.2 753.0,3169.9 804.0,3170.0 828.0,3173.9 838.0,3174.9 853.0,3174.2 914.0,3179.8 1014.1,3184.0 1123.0,3186.4 1226.0,3187.2 1322.0,3184.1 1351.1,3181.0 1372.2,3178.0 1386.8,3175.0 1392.5,3173.0 1393.7,3172.0 1393.5,3171.0 1392.2,3170.0 1388.0,3168.0 1374.8,3164.0 1350.6,3159.0 1321.0,3154.4 1227.0,3147.3 1128.5,3138.0 1018.0,3129.2 914.0,3118.4 852.0,3109.6 839.0,3106.7 831.0,3105.5 812.0,3103.5 806.0,3102.3 779.0,3093.4 766.0,3088.3 745.0,3077.7 725.0,3065.1 711.0,3052.9 702.4,3044.0 690.2,3029.0 683.9,3019.0 679.0,3012.4 667.0,2998.6 648.0,2981.5 631.0,2969.2 607.0,2955.6 589.0,2947.4 580.0,2944.3 569.0,2941.2 555.0,2938.2 547.0,2936.9 537.0,2936.2 528.0,2936.7 510.0,2940.3 498.0,2943.4 479.0,2949.5 465.0,2954.8 448.0,2962.5 436.0,2969.3 421.0,2978.7 403.0,2991.7 385.8,3007.0 373.0,3020.3 366.0,3028.7 355.7,3043.0 349.4,3053.0 347.9,3059.0 345.6,3062.0 345.0,3066.0 342.8,3069.0 342.4,3076.0 344.0,3080.1 348.9,3086.0 350.0,3087.9 354.1,3091.0 359.0,3092.4 362.0,3094.0 365.0,3094.4 378.0,3099.0 381.0,3099.5 385.0,3101.0 400.0,3104.4 401.0,3105.0 404.0,3105.4 410.0,3107.3 413.0,3107.4 414.0,3108.0 417.0,3108.4 421.0,3110.0 424.0,3110.4 435.0,3114.0 439.0,3114.4 444.0,3116.0 447.0,3116.4 452.0,3118.2 460.0,3119.4 462.0,3120.2 465.0,3120.4 471.0,3122.2 474.0,3122.4 475.0,3123.0 482.0,3124.4 483.0,3125.0 486.0,3125.4 490.0,3127.0 493.0,3127.4 495.0,3128.3 499.0,3128.5 507.0,3131.1 510.0,3131.5 514.0,3133.1 545.0,3140.5 556.0,3145.3 560.1,3149.0 568.0,3151.3 570.0,3151.4 574.0,3153.1 581.0,3154.6 583.0,3155.5 588.0,3155.9 595.0,3159.1 597.0,3159.5 600.3,3162.0 601.7,3167.0 601.2,3174.0 602.7,3179.0 606.1,3185.0 613.1,3192.0 619.0,3195.6 626.0,3198.1 634.0,3199.4 645.2,3199.0Z" fill="#1a1aff"/>
<path d="M646.5,3196.0 654.0,3193.6 666.0,3188.6 672.0,3185.6 679.0,3181.2 686.0,3178.6 692.0,3175.3 695.0,3174.9 700.0,3173.2 704.0,3172.9 721.0,3169.1 730.0,3168.8 733.0,3168.0 746.0,3167.8 750.0,3167.0 807.0,3167.0 829.0,3171.5 838.0,3172.3 842.0,3172.3 849.0,3170.9 853.0,3170.6 913.0,3175.3 941.0,3176.4 1018.0,3178.8 1106.0,3179.9 1228.0,3179.6 1269.0,3177.3 1297.0,3175.0 1313.3,3173.0 1318.0,3172.0 1319.9,3171.0 1319.1,3170.0 1316.4,3169.0 1308.3,3167.0 1276.2,3162.0 1227.0,3156.6 1149.2,3147.0 1091.0,3141.0 1018.0,3134.4 914.0,3122.4 850.0,3113.5 838.0,3109.7 830.0,3108.3 825.0,3107.9 821.0,3107.1 808.0,3106.7 794.0,3101.4 776.0,3095.8 766.0,3091.4 760.1,3088.0 755.0,3085.9 750.0,3082.6 744.0,3079.9 725.0,3067.4 720.3,3063.0 713.0,3057.4 700.6,3045.0 693.0,3035.5 687.8,3030.0 681.5,3020.0 677.0,3014.3 667.9,3005.0 665.0,3001.2 645.0,2985.2 628.0,2974.2 622.9,2972.0 617.0,2968.6 597.0,2958.6 584.0,2953.1 564.0,2947.1 558.0,2946.4 550.0,2943.9 542.0,2943.7 538.0,2942.8 528.0,2942.9 523.0,2944.5 511.0,2946.9 503.0,2949.1 474.0,2958.1 449.0,2968.2 423.0,2982.3 401.2,2997.0 393.0,3005.1 390.0,3007.2 373.3,3024.0 364.0,3035.4 354.6,3048.0 350.7,3054.0 348.8,3059.0 346.9,3062.0 345.8,3066.0 343.9,3070.0 342.9,3074.0 343.0,3076.3 345.0,3080.4 351.0,3087.6 356.6,3091.0 377.1,3098.0 391.6,3102.0 410.0,3106.5 417.0,3107.8 436.0,3113.5 439.0,3113.8 450.9,3117.0 474.0,3121.7 495.0,3127.5 504.0,3129.3 515.0,3132.9 546.0,3140.3 556.0,3144.3 562.0,3147.8 575.0,3152.0 581.0,3153.1 583.0,3154.0 588.0,3154.6 601.0,3159.8 605.5,3163.0 606.5,3165.0 606.7,3167.0 605.9,3169.0 603.6,3172.0 603.3,3173.0 604.2,3176.0 607.5,3183.0 615.0,3190.4 617.0,3191.2 621.0,3193.9 627.0,3195.8 632.0,3196.8 643.0,3196.9 646.5,3196.0Z" fill="#0000ff"/>
</g>
<path d="M638.6,3166.5 L638.5,3166.5 L638.2,3166.3 L637.6,3166.1 L636.8,3165.8 L635.8,3165.4 L634.6,3164.9 L633.2,3164.3 L631.6,3163.6 L629.7,3162.8 L627.7,3162.0 L625.4,3161.1 L622.9,3160.1 L620.3,3159.0 L617.4,3157.8 L614.4,3156.6 L611.2,3155.3 L607.8,3154.0 L604.2,3152.6 L600.4,3151.1 L596.5,3149.5 L592.4,3148.0 L588.2,3146.3 L583.8,3144.6 L579.3,3142.9 L574.7,3141.2 L569.9,3139.4 L565.0,3137.5 L560.0,3135.7 L554.9,3133.8 L549.7,3131.9 L544.4,3130.0 L539.1,3128.0 L533.7,3126.1 L528.2,3124.1 L522.6,3122.2 L517.0,3120.2 L511.4,3118.3 L505.8,3116.4 L500.1,3114.5 L494.4,3112.6 L488.7,3110.7 L483.1,3108.9 L477.4,3107.1 L471.8,3105.4 L466.2,3103.6 L460.6,3102.0 L455.1,3100.4 L449.6,3098.8 L444.3,3097.3 L438.9,3095.9 L433.7,3094.5 L428.6,3093.2 L423.5,3091.9 L418.6,3090.8 L413.8,3089.7 L409.0,3088.7 L404.5,3087.8 L400.0,3086.9 L395.7,3086.2 L391.6,3085.5 L387.6,3084.9 L383.8,3084.4 L380.1,3084.0 L376.6,3083.6 L373.3,3083.4 L370.2,3083.2 L367.3,3083.1 L364.5,3083.1 L362.0,3083.2 L359.7,3083.4 L357.5,3083.7 L355.6,3084.0 L353.9,3084.5 L352.5,3085.0 L351.2,3085.6 L350.2,3086.2 L349.4,3087.0 L348.8,3087.8 L348.4,3088.7 L348.3,3089.7 L348.4,3090.7 L348.7,3091.7 L349.3,3092.8 L350.1,3094.0 L351.1,3095.1 L352.3,3096.4 L353.8,3097.6 L355.5,3098.9 L357.4,3100.2 L359.6,3101.6 L362.0,3103.0 L364.5,3104.4 L367.3,3105.8 L370.3,3107.2 L373.5,3108.7 L376.9,3110.1 L380.4,3111.6 L384.2,3113.1 L388.1,3114.6 L392.2,3116.1 L396.5,3117.6 L400.9,3119.1 L405.5,3120.5 L410.2,3122.0 L415.1,3123.5 L420.1,3124.9 L425.2,3126.4 L430.4,3127.8 L435.7,3129.2 L441.1,3130.6 L446.6,3132.0 L452.2,3133.3 L457.9,3134.7 L463.6,3136.0 L469.3,3137.3 L475.1,3138.6 L481.0,3139.8 L486.8,3141.1 L492.7,3142.3 L498.5,3143.5 L504.4,3144.6 L510.2,3145.7 L516.0,3146.9 L521.8,3147.9 L527.5,3149.0 L533.2,3150.0 L538.8,3151.0 L544.3,3152.0 L549.8,3153.0 L555.1,3153.9 L560.4,3154.8 L565.5,3155.6 L570.6,3156.5 L575.5,3157.3 L580.2,3158.0 L584.9,3158.8 L589.3,3159.5 L593.7,3160.1 L597.8,3160.7 L601.8,3161.3 L605.6,3161.9 L609.3,3162.4 L612.7,3162.9 L615.9,3163.4 L619.0,3163.8 L621.8,3164.2 L624.5,3164.6 L626.9,3164.9 L629.1,3165.2 L631.1,3165.5 L632.8,3165.7 L634.3,3165.9 L635.6,3166.1 L636.7,3166.3 L637.5,3166.4 L638.1,3166.4 L638.5,3166.5 L638.6,3166.5Z" fill="#fff" stroke="#000" stroke-width="2.6" stroke-linejoin="round"/>
<rect x="719.20" y="2730.4" width="7.90" height="82.1" fill="#0000ff"/><rect x="726.80" y="2730.4" width="14.14" height="82.1" fill="#1a1aff"/><rect x="740.64" y="2730.4" width="14.14" height="82.1" fill="#2b2bff"/><rect x="754.48" y="2730.4" width="14.14" height="82.1" fill="#3d3dff"/><rect x="768.32" y="2730.4" width="14.14" height="82.1" fill="#5252ff"/><rect x="782.16" y="2730.4" width="14.14" height="82.1" fill="#6666ff"/><rect x="796.00" y="2730.4" width="14.14" height="82.1" fill="#7878ff"/><rect x="809.84" y="2730.4" width="14.14" height="82.1" fill="#8a8aff"/><rect x="823.68" y="2730.4" width="14.14" height="82.1" fill="#a0a0ff"/><rect x="837.52" y="2730.4" width="14.14" height="82.1" fill="#b5b5ff"/><rect x="851.36" y="2730.4" width="14.14" height="82.1" fill="#c7c7ff"/><rect x="865.20" y="2730.4" width="14.14" height="82.1" fill="#d9d9ff"/><rect x="879.04" y="2730.4" width="14.14" height="82.1" fill="#eeeeff"/><rect x="1114.32" y="2730.4" width="14.14" height="82.1" fill="#fff8f8"/><rect x="1128.16" y="2730.4" width="14.14" height="82.1" fill="#ffcccc"/><rect x="1142.00" y="2730.4" width="14.14" height="82.1" fill="#ffa5a5"/><rect x="1155.84" y="2730.4" width="14.14" height="82.1" fill="#ff7f7f"/><rect x="1169.68" y="2730.4" width="14.14" height="82.1" fill="#ff5252"/><rect x="1183.52" y="2730.4" width="14.14" height="82.1" fill="#ff2a2a"/><rect x="1197.36" y="2730.4" width="89.14" height="82.1" fill="#ff0000"/><path d="M726.8,2730.4V2812.5" stroke="#000" stroke-width="1.3"/><path d="M1003.6,2730.4V2812.5" stroke="#000" stroke-width="1.3"/><path d="M1142.0,2730.4V2812.5" stroke="#000" stroke-width="1.3"/><path d="M1280.4,2730.4V2812.5" stroke="#000" stroke-width="1.3"/><path d="M719.2,2730.4H1286.2" stroke="#000" stroke-width="1.3"/>
<text x="668.0" y="2878.7" font-size="53.9" textLength="115.8" lengthAdjust="spacingAndGlyphs">-0.20</text>
<text x="806.4" y="2878.7" font-size="53.9" textLength="115.8" lengthAdjust="spacingAndGlyphs">-0.10</text>
<text x="954.6" y="2878.7" font-size="53.9" textLength="97.1" lengthAdjust="spacingAndGlyphs">0.00</text>
<text x="1093.0" y="2878.7" font-size="53.9" textLength="97.1" lengthAdjust="spacingAndGlyphs">0.10</text>
<text x="1231.8" y="2878.7" font-size="53.9" textLength="96.6" lengthAdjust="spacingAndGlyphs">0.20</text>
<rect x="721.10" y="180.2" width="7.50" height="82.3" fill="#0000ff"/><rect x="728.30" y="180.2" width="14.16" height="82.3" fill="#1a1aff"/><rect x="742.15" y="180.2" width="14.16" height="82.3" fill="#2b2bff"/><rect x="756.01" y="180.2" width="14.16" height="82.3" fill="#3d3dff"/><rect x="769.87" y="180.2" width="14.16" height="82.3" fill="#5252ff"/><rect x="783.72" y="180.2" width="14.16" height="82.3" fill="#6666ff"/><rect x="797.57" y="180.2" width="14.16" height="82.3" fill="#7878ff"/><rect x="811.43" y="180.2" width="14.16" height="82.3" fill="#8a8aff"/><rect x="825.28" y="180.2" width="14.16" height="82.3" fill="#a0a0ff"/><rect x="839.14" y="180.2" width="14.16" height="82.3" fill="#b5b5ff"/><rect x="852.99" y="180.2" width="14.16" height="82.3" fill="#c7c7ff"/><rect x="866.85" y="180.2" width="14.16" height="82.3" fill="#d9d9ff"/><rect x="880.70" y="180.2" width="14.16" height="82.3" fill="#eeeeff"/><rect x="1116.24" y="180.2" width="14.16" height="82.3" fill="#fff8f8"/><rect x="1130.10" y="180.2" width="14.16" height="82.3" fill="#ffcccc"/><rect x="1143.95" y="180.2" width="14.16" height="82.3" fill="#ffa5a5"/><rect x="1157.81" y="180.2" width="14.15" height="82.3" fill="#ff7f7f"/><rect x="1171.66" y="180.2" width="14.16" height="82.3" fill="#ff5252"/><rect x="1185.51" y="180.2" width="14.16" height="82.3" fill="#ff2a2a"/><rect x="1199.37" y="180.2" width="90.53" height="82.3" fill="#ff0000"/><path d="M728.3,180.2V262.5" stroke="#000" stroke-width="1.3"/><path d="M866.8,180.2V262.5" stroke="#000" stroke-width="1.3"/><path d="M1005.4,180.2V262.5" stroke="#000" stroke-width="1.3"/><path d="M1144.0,180.2V262.5" stroke="#000" stroke-width="1.3"/><path d="M1282.5,180.2V262.5" stroke="#000" stroke-width="1.3"/><rect x="721.1" y="180.2" width="568.5" height="82.3" fill="none" stroke="#000" stroke-width="1.3"/>
<text x="671.2" y="328.7" font-size="53.9" textLength="113.5" lengthAdjust="spacingAndGlyphs">-0.20</text>
<text x="808.7" y="328.7" font-size="53.9" textLength="114.8" lengthAdjust="spacingAndGlyphs">-0.10</text>
<text x="956.8" y="328.7" font-size="53.9" textLength="96.2" lengthAdjust="spacingAndGlyphs">0.00</text>
<text x="1095.2" y="328.7" font-size="53.9" textLength="96.2" lengthAdjust="spacingAndGlyphs">0.10</text>
<text x="1233.6" y="328.7" font-size="53.9" textLength="97.1" lengthAdjust="spacingAndGlyphs">0.20</text>
<text x="111.2" y="968.5" font-size="92.4" text-anchor="start" font-weight="normal" font-style="normal" fill="#000">Mode 0</text>
<text x="111.2" y="2245.3" font-size="92.4" text-anchor="start" font-weight="normal" font-style="normal" fill="#000">Mode 0</text>
<text x="111.2" y="3520.5" font-size="92.4" text-anchor="start" font-weight="normal" font-style="normal" fill="#000">Mode 0</text>
<text x="669.8" y="1144.2" font-size="76.6" textLength="82.6" lengthAdjust="spacingAndGlyphs">(<tspan font-weight="bold">a</tspan>)</text>
<text x="1874.6" y="1144.2" font-size="76.6" textLength="90.8" lengthAdjust="spacingAndGlyphs">(<tspan font-weight="bold">b</tspan>)</text>
<text x="671.7" y="2421.7" font-size="76.6" textLength="78.5" lengthAdjust="spacingAndGlyphs">(<tspan font-weight="bold">c</tspan>)</text>
<text x="1874.6" y="2421.7" font-size="76.6" textLength="90.8" lengthAdjust="spacingAndGlyphs">(<tspan font-weight="bold">d</tspan>)</text>
<text x="669.6" y="3696.7" font-size="76.6" textLength="82.9" lengthAdjust="spacingAndGlyphs">(<tspan font-weight="bold">e</tspan>)</text>
<text x="1882.6" y="3696.7" font-size="76.6" textLength="74.6" lengthAdjust="spacingAndGlyphs">(<tspan font-weight="bold">f</tspan>)</text></svg>
</body></html>
